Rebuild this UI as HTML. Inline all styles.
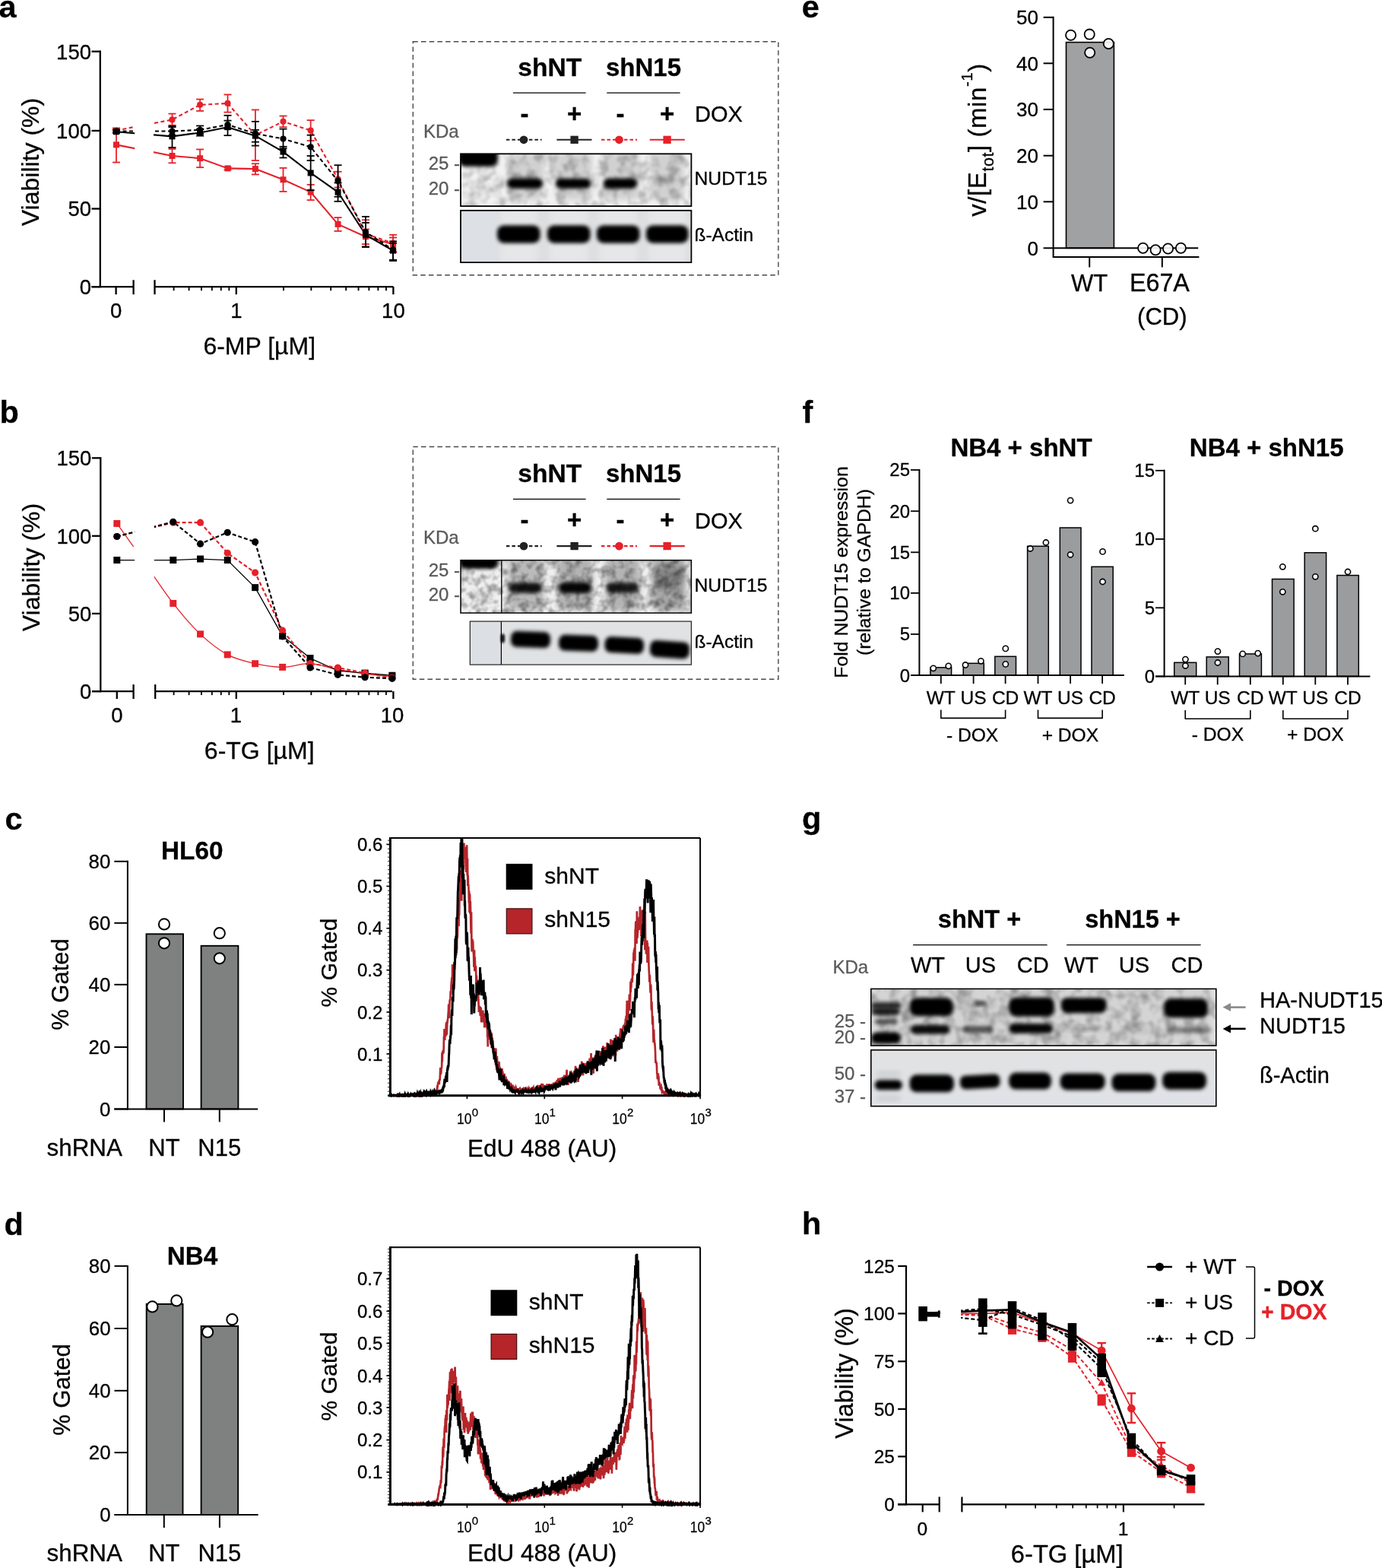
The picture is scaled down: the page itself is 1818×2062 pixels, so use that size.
<!DOCTYPE html><html><head><meta charset="utf-8"><title>Figure</title><style>html,body{margin:0;padding:0;background:#fff}svg{display:block}text{font-family:'Liberation Sans', sans-serif}</style></head><body>
<svg width="1818" height="2062" viewBox="0 0 1818 2062">
<rect x="0" y="0" width="1818" height="2062" fill="#fff" stroke="none" stroke-width="0"/>
<defs>
<filter id="bl2" x="-20%" y="-60%" width="140%" height="220%"><feGaussianBlur stdDeviation="2.6"/></filter>
<filter id="bl1" x="-20%" y="-50%" width="140%" height="200%"><feGaussianBlur stdDeviation="1.5"/></filter>
<filter id="bl3" x="-30%" y="-50%" width="160%" height="200%"><feGaussianBlur stdDeviation="3.5"/></filter>
<filter id="bl5" x="-30%" y="-50%" width="160%" height="200%"><feGaussianBlur stdDeviation="6"/></filter>
<filter id="nzA" x="0" y="0" width="100%" height="100%"><feTurbulence type="fractalNoise" baseFrequency="0.075" numOctaves="2" seed="4" result="t"/><feColorMatrix in="t" type="matrix" values="0 0 0 0 0  0 0 0 0 0  0 0 0 0 0  -1.5 0 0 0 0.9"/><feGaussianBlur stdDeviation="0.8"/><feComposite operator="in" in2="SourceGraphic"/></filter>
<filter id="nzB" x="0" y="0" width="100%" height="100%"><feTurbulence type="fractalNoise" baseFrequency="0.095" numOctaves="2" seed="9" result="t"/><feColorMatrix in="t" type="matrix" values="0 0 0 0 0  0 0 0 0 0  0 0 0 0 0  -1.8 0 0 0 1.1"/><feGaussianBlur stdDeviation="0.7"/><feComposite operator="in" in2="SourceGraphic"/></filter>
<filter id="nzC" x="0" y="0" width="100%" height="100%"><feTurbulence type="fractalNoise" baseFrequency="0.07" numOctaves="2" seed="17" result="t"/><feColorMatrix in="t" type="matrix" values="0 0 0 0 0  0 0 0 0 0  0 0 0 0 0  -1.4 0 0 0 0.85"/><feGaussianBlur stdDeviation="0.9"/><feComposite operator="in" in2="SourceGraphic"/></filter>
</defs>
<line x1="131.8" y1="66.6" x2="131.8" y2="378.3" stroke="#000" stroke-width="2.3"/>
<line x1="120.5" y1="67.7" x2="131.8" y2="67.7" stroke="#000" stroke-width="2.3"/>
<text x="120" y="77.5" font-size="27.5" text-anchor="end" font-weight="normal" fill="#000" stroke="#000" stroke-width="0.3">150</text>
<line x1="120.5" y1="171.9" x2="131.8" y2="171.9" stroke="#000" stroke-width="2.3"/>
<text x="120" y="181.7" font-size="27.5" text-anchor="end" font-weight="normal" fill="#000" stroke="#000" stroke-width="0.3">100</text>
<line x1="120.5" y1="274.5" x2="131.8" y2="274.5" stroke="#000" stroke-width="2.3"/>
<text x="120" y="284.3" font-size="27.5" text-anchor="end" font-weight="normal" fill="#000" stroke="#000" stroke-width="0.3">50</text>
<line x1="120.5" y1="377.2" x2="131.8" y2="377.2" stroke="#000" stroke-width="2.3"/>
<text x="120" y="387" font-size="27.5" text-anchor="end" font-weight="normal" fill="#000" stroke="#000" stroke-width="0.3">0</text>
<line x1="120.5" y1="377.2" x2="175.6" y2="377.2" stroke="#000" stroke-width="2.3"/>
<line x1="175.6" y1="368.2" x2="175.6" y2="387.2" stroke="#000" stroke-width="2.3"/>
<line x1="152.6" y1="377.2" x2="152.6" y2="387.2" stroke="#000" stroke-width="2.3"/>
<line x1="203.5" y1="377.2" x2="517.4" y2="377.2" stroke="#000" stroke-width="2.3"/>
<line x1="203.5" y1="368.2" x2="203.5" y2="387.2" stroke="#000" stroke-width="2.3"/>
<line x1="310.8" y1="377.2" x2="310.8" y2="387.2" stroke="#000" stroke-width="2.3"/>
<line x1="517.4" y1="377.2" x2="517.4" y2="387.2" stroke="#000" stroke-width="2.3"/>
<line x1="228.59" y1="377.2" x2="228.59" y2="382.2" stroke="#000" stroke-width="1.84"/>
<line x1="248.61" y1="377.2" x2="248.61" y2="382.2" stroke="#000" stroke-width="1.84"/>
<line x1="264.97" y1="377.2" x2="264.97" y2="382.2" stroke="#000" stroke-width="1.84"/>
<line x1="278.8" y1="377.2" x2="278.8" y2="382.2" stroke="#000" stroke-width="1.84"/>
<line x1="290.78" y1="377.2" x2="290.78" y2="382.2" stroke="#000" stroke-width="1.84"/>
<line x1="301.35" y1="377.2" x2="301.35" y2="382.2" stroke="#000" stroke-width="1.84"/>
<line x1="372.99" y1="377.2" x2="372.99" y2="382.2" stroke="#000" stroke-width="1.84"/>
<line x1="409.37" y1="377.2" x2="409.37" y2="382.2" stroke="#000" stroke-width="1.84"/>
<line x1="435.19" y1="377.2" x2="435.19" y2="382.2" stroke="#000" stroke-width="1.84"/>
<line x1="455.21" y1="377.2" x2="455.21" y2="382.2" stroke="#000" stroke-width="1.84"/>
<line x1="471.57" y1="377.2" x2="471.57" y2="382.2" stroke="#000" stroke-width="1.84"/>
<line x1="485.4" y1="377.2" x2="485.4" y2="382.2" stroke="#000" stroke-width="1.84"/>
<line x1="497.38" y1="377.2" x2="497.38" y2="382.2" stroke="#000" stroke-width="1.84"/>
<line x1="507.95" y1="377.2" x2="507.95" y2="382.2" stroke="#000" stroke-width="1.84"/>
<text x="152.6" y="417.5" font-size="27.5" text-anchor="middle" font-weight="normal" fill="#000" stroke="#000" stroke-width="0.3">0</text>
<text x="310.8" y="417.5" font-size="27.5" text-anchor="middle" font-weight="normal" fill="#000" stroke="#000" stroke-width="0.3">1</text>
<text x="517.4" y="417.5" font-size="27.5" text-anchor="middle" font-weight="normal" fill="#000" stroke="#000" stroke-width="0.3">10</text>
<text x="341.2" y="466.3" font-size="32" text-anchor="middle" font-weight="normal" fill="#000" stroke="#000" stroke-width="0.3">6-MP [µM]</text>
<text x="51.3" y="213" font-size="32" text-anchor="middle" font-weight="normal" fill="#000" stroke="#000" stroke-width="0.3" transform="rotate(-90 51.3 213)">Viability (%)</text>
<text x="-1.5" y="23.2" font-size="41.5" text-anchor="start" font-weight="bold" fill="#000" stroke="#000" stroke-width="0.3">a</text>
<polyline points="152.99,190.35 226.5,205.01 263.13,208.18 299.51,221.37 335.9,222.1 372.53,236.26 408.67,252.63 444.57,294.87 480.95,311.23 517.09,321" fill="none" stroke="#e5212a" stroke-width="2.1" stroke-linejoin="round"/>
<polyline points="152.99,171.55 226.5,157.39 263.13,137.85 299.51,135.9 335.9,177.66 372.53,159.83 408.67,171.55 444.57,235.53 480.95,307.57 517.09,319.78" fill="none" stroke="#e5212a" stroke-width="2.1" stroke-linejoin="round" stroke-dasharray="5,3.5"/>
<polyline points="152.99,172.53 226.5,172.53 263.13,170.82 299.51,163.98 335.9,175.7 372.53,182.54 408.67,193.28 444.57,237.97 480.95,305.13 517.09,328.33" fill="none" stroke="#000" stroke-width="2.1" stroke-linejoin="round" stroke-dasharray="5,3.5"/>
<polyline points="152.99,173.26 226.5,179.37 263.13,174.48 299.51,167.16 335.9,178.63 372.53,199.63 408.67,227.47 444.57,252.63 480.95,308.79 517.09,329.55" fill="none" stroke="#000" stroke-width="2.1" stroke-linejoin="round"/>
<rect x="177.2" y="100" width="24.8" height="270" fill="#fff" stroke="none" stroke-width="0"/>
<line x1="152.99" y1="168.38" x2="152.99" y2="213.55" stroke="#e5212a" stroke-width="1.8"/>
<line x1="147.99" y1="168.38" x2="157.99" y2="168.38" stroke="#e5212a" stroke-width="1.8"/>
<line x1="147.99" y1="213.55" x2="157.99" y2="213.55" stroke="#e5212a" stroke-width="1.8"/>
<line x1="226.5" y1="195.97" x2="226.5" y2="214.29" stroke="#e5212a" stroke-width="1.8"/>
<line x1="221.5" y1="195.97" x2="231.5" y2="195.97" stroke="#e5212a" stroke-width="1.8"/>
<line x1="221.5" y1="214.29" x2="231.5" y2="214.29" stroke="#e5212a" stroke-width="1.8"/>
<line x1="263.13" y1="196.46" x2="263.13" y2="220.15" stroke="#e5212a" stroke-width="1.8"/>
<line x1="258.13" y1="196.46" x2="268.13" y2="196.46" stroke="#e5212a" stroke-width="1.8"/>
<line x1="258.13" y1="220.15" x2="268.13" y2="220.15" stroke="#e5212a" stroke-width="1.8"/>
<line x1="299.51" y1="219.66" x2="299.51" y2="223.32" stroke="#e5212a" stroke-width="1.8"/>
<line x1="294.51" y1="219.66" x2="304.51" y2="219.66" stroke="#e5212a" stroke-width="1.8"/>
<line x1="294.51" y1="223.32" x2="304.51" y2="223.32" stroke="#e5212a" stroke-width="1.8"/>
<line x1="335.9" y1="215.26" x2="335.9" y2="229.43" stroke="#e5212a" stroke-width="1.8"/>
<line x1="330.9" y1="215.26" x2="340.9" y2="215.26" stroke="#e5212a" stroke-width="1.8"/>
<line x1="330.9" y1="229.43" x2="340.9" y2="229.43" stroke="#e5212a" stroke-width="1.8"/>
<line x1="372.53" y1="220.88" x2="372.53" y2="251.89" stroke="#e5212a" stroke-width="1.8"/>
<line x1="367.53" y1="220.88" x2="377.53" y2="220.88" stroke="#e5212a" stroke-width="1.8"/>
<line x1="367.53" y1="251.89" x2="377.53" y2="251.89" stroke="#e5212a" stroke-width="1.8"/>
<line x1="408.67" y1="242.86" x2="408.67" y2="263.13" stroke="#e5212a" stroke-width="1.8"/>
<line x1="403.67" y1="242.86" x2="413.67" y2="242.86" stroke="#e5212a" stroke-width="1.8"/>
<line x1="403.67" y1="263.13" x2="413.67" y2="263.13" stroke="#e5212a" stroke-width="1.8"/>
<line x1="444.57" y1="286.08" x2="444.57" y2="303.91" stroke="#e5212a" stroke-width="1.8"/>
<line x1="439.57" y1="286.08" x2="449.57" y2="286.08" stroke="#e5212a" stroke-width="1.8"/>
<line x1="439.57" y1="303.91" x2="449.57" y2="303.91" stroke="#e5212a" stroke-width="1.8"/>
<line x1="480.95" y1="301.47" x2="480.95" y2="321" stroke="#e5212a" stroke-width="1.8"/>
<line x1="475.95" y1="301.47" x2="485.95" y2="301.47" stroke="#e5212a" stroke-width="1.8"/>
<line x1="475.95" y1="321" x2="485.95" y2="321" stroke="#e5212a" stroke-width="1.8"/>
<line x1="517.09" y1="312.45" x2="517.09" y2="331.99" stroke="#e5212a" stroke-width="1.8"/>
<line x1="512.09" y1="312.45" x2="522.09" y2="312.45" stroke="#e5212a" stroke-width="1.8"/>
<line x1="512.09" y1="331.99" x2="522.09" y2="331.99" stroke="#e5212a" stroke-width="1.8"/>
<rect x="148.99" y="186.35" width="8" height="8" fill="#e5212a" stroke="none" stroke-width="0"/>
<rect x="222.5" y="201.01" width="8" height="8" fill="#e5212a" stroke="none" stroke-width="0"/>
<rect x="259.13" y="204.18" width="8" height="8" fill="#e5212a" stroke="none" stroke-width="0"/>
<rect x="295.51" y="217.37" width="8" height="8" fill="#e5212a" stroke="none" stroke-width="0"/>
<rect x="331.9" y="218.1" width="8" height="8" fill="#e5212a" stroke="none" stroke-width="0"/>
<rect x="368.53" y="232.26" width="8" height="8" fill="#e5212a" stroke="none" stroke-width="0"/>
<rect x="404.67" y="248.63" width="8" height="8" fill="#e5212a" stroke="none" stroke-width="0"/>
<rect x="440.57" y="290.87" width="8" height="8" fill="#e5212a" stroke="none" stroke-width="0"/>
<rect x="476.95" y="307.23" width="8" height="8" fill="#e5212a" stroke="none" stroke-width="0"/>
<rect x="513.09" y="317" width="8" height="8" fill="#e5212a" stroke="none" stroke-width="0"/>
<line x1="152.99" y1="169.11" x2="152.99" y2="173.99" stroke="#e5212a" stroke-width="1.8"/>
<line x1="147.99" y1="169.11" x2="157.99" y2="169.11" stroke="#e5212a" stroke-width="1.8"/>
<line x1="147.99" y1="173.99" x2="157.99" y2="173.99" stroke="#e5212a" stroke-width="1.8"/>
<line x1="226.5" y1="149.57" x2="226.5" y2="164.71" stroke="#e5212a" stroke-width="1.8"/>
<line x1="221.5" y1="149.57" x2="231.5" y2="149.57" stroke="#e5212a" stroke-width="1.8"/>
<line x1="221.5" y1="164.71" x2="231.5" y2="164.71" stroke="#e5212a" stroke-width="1.8"/>
<line x1="263.13" y1="130.53" x2="263.13" y2="145.91" stroke="#e5212a" stroke-width="1.8"/>
<line x1="258.13" y1="130.53" x2="268.13" y2="130.53" stroke="#e5212a" stroke-width="1.8"/>
<line x1="258.13" y1="145.91" x2="268.13" y2="145.91" stroke="#e5212a" stroke-width="1.8"/>
<line x1="299.51" y1="124.42" x2="299.51" y2="147.62" stroke="#e5212a" stroke-width="1.8"/>
<line x1="294.51" y1="124.42" x2="304.51" y2="124.42" stroke="#e5212a" stroke-width="1.8"/>
<line x1="294.51" y1="147.62" x2="304.51" y2="147.62" stroke="#e5212a" stroke-width="1.8"/>
<line x1="335.9" y1="144.44" x2="335.9" y2="211.11" stroke="#e5212a" stroke-width="1.8"/>
<line x1="330.9" y1="144.44" x2="340.9" y2="144.44" stroke="#e5212a" stroke-width="1.8"/>
<line x1="330.9" y1="211.11" x2="340.9" y2="211.11" stroke="#e5212a" stroke-width="1.8"/>
<line x1="372.53" y1="152.5" x2="372.53" y2="167.16" stroke="#e5212a" stroke-width="1.8"/>
<line x1="367.53" y1="152.5" x2="377.53" y2="152.5" stroke="#e5212a" stroke-width="1.8"/>
<line x1="367.53" y1="167.16" x2="377.53" y2="167.16" stroke="#e5212a" stroke-width="1.8"/>
<line x1="408.67" y1="158.12" x2="408.67" y2="184.98" stroke="#e5212a" stroke-width="1.8"/>
<line x1="403.67" y1="158.12" x2="413.67" y2="158.12" stroke="#e5212a" stroke-width="1.8"/>
<line x1="403.67" y1="184.98" x2="413.67" y2="184.98" stroke="#e5212a" stroke-width="1.8"/>
<line x1="444.57" y1="225.76" x2="444.57" y2="246.52" stroke="#e5212a" stroke-width="1.8"/>
<line x1="439.57" y1="225.76" x2="449.57" y2="225.76" stroke="#e5212a" stroke-width="1.8"/>
<line x1="439.57" y1="246.52" x2="449.57" y2="246.52" stroke="#e5212a" stroke-width="1.8"/>
<line x1="480.95" y1="289.26" x2="480.95" y2="324.66" stroke="#e5212a" stroke-width="1.8"/>
<line x1="475.95" y1="289.26" x2="485.95" y2="289.26" stroke="#e5212a" stroke-width="1.8"/>
<line x1="475.95" y1="324.66" x2="485.95" y2="324.66" stroke="#e5212a" stroke-width="1.8"/>
<line x1="517.09" y1="308.79" x2="517.09" y2="330.77" stroke="#e5212a" stroke-width="1.8"/>
<line x1="512.09" y1="308.79" x2="522.09" y2="308.79" stroke="#e5212a" stroke-width="1.8"/>
<line x1="512.09" y1="330.77" x2="522.09" y2="330.77" stroke="#e5212a" stroke-width="1.8"/>
<circle cx="152.99" cy="171.55" r="4.1" fill="#e5212a" stroke="none" stroke-width="0"/>
<circle cx="226.5" cy="157.39" r="4.1" fill="#e5212a" stroke="none" stroke-width="0"/>
<circle cx="263.13" cy="137.85" r="4.1" fill="#e5212a" stroke="none" stroke-width="0"/>
<circle cx="299.51" cy="135.9" r="4.1" fill="#e5212a" stroke="none" stroke-width="0"/>
<circle cx="335.9" cy="177.66" r="4.1" fill="#e5212a" stroke="none" stroke-width="0"/>
<circle cx="372.53" cy="159.83" r="4.1" fill="#e5212a" stroke="none" stroke-width="0"/>
<circle cx="408.67" cy="171.55" r="4.1" fill="#e5212a" stroke="none" stroke-width="0"/>
<circle cx="444.57" cy="235.53" r="4.1" fill="#e5212a" stroke="none" stroke-width="0"/>
<circle cx="480.95" cy="307.57" r="4.1" fill="#e5212a" stroke="none" stroke-width="0"/>
<circle cx="517.09" cy="319.78" r="4.1" fill="#e5212a" stroke="none" stroke-width="0"/>
<line x1="152.99" y1="170.82" x2="152.99" y2="174.24" stroke="#000" stroke-width="1.8"/>
<line x1="147.99" y1="170.82" x2="157.99" y2="170.82" stroke="#000" stroke-width="1.8"/>
<line x1="147.99" y1="174.24" x2="157.99" y2="174.24" stroke="#000" stroke-width="1.8"/>
<line x1="226.5" y1="167.16" x2="226.5" y2="178.14" stroke="#000" stroke-width="1.8"/>
<line x1="221.5" y1="167.16" x2="231.5" y2="167.16" stroke="#000" stroke-width="1.8"/>
<line x1="221.5" y1="178.14" x2="231.5" y2="178.14" stroke="#000" stroke-width="1.8"/>
<line x1="263.13" y1="165.45" x2="263.13" y2="176.19" stroke="#000" stroke-width="1.8"/>
<line x1="258.13" y1="165.45" x2="268.13" y2="165.45" stroke="#000" stroke-width="1.8"/>
<line x1="258.13" y1="176.19" x2="268.13" y2="176.19" stroke="#000" stroke-width="1.8"/>
<line x1="299.51" y1="158.61" x2="299.51" y2="169.6" stroke="#000" stroke-width="1.8"/>
<line x1="294.51" y1="158.61" x2="304.51" y2="158.61" stroke="#000" stroke-width="1.8"/>
<line x1="294.51" y1="169.6" x2="304.51" y2="169.6" stroke="#000" stroke-width="1.8"/>
<line x1="335.9" y1="159.83" x2="335.9" y2="191.58" stroke="#000" stroke-width="1.8"/>
<line x1="330.9" y1="159.83" x2="340.9" y2="159.83" stroke="#000" stroke-width="1.8"/>
<line x1="330.9" y1="191.58" x2="340.9" y2="191.58" stroke="#000" stroke-width="1.8"/>
<line x1="372.53" y1="169.6" x2="372.53" y2="195.24" stroke="#000" stroke-width="1.8"/>
<line x1="367.53" y1="169.6" x2="377.53" y2="169.6" stroke="#000" stroke-width="1.8"/>
<line x1="367.53" y1="195.24" x2="377.53" y2="195.24" stroke="#000" stroke-width="1.8"/>
<line x1="408.67" y1="177.66" x2="408.67" y2="211.11" stroke="#000" stroke-width="1.8"/>
<line x1="403.67" y1="177.66" x2="413.67" y2="177.66" stroke="#000" stroke-width="1.8"/>
<line x1="403.67" y1="211.11" x2="413.67" y2="211.11" stroke="#000" stroke-width="1.8"/>
<line x1="444.57" y1="217.22" x2="444.57" y2="258.73" stroke="#000" stroke-width="1.8"/>
<line x1="439.57" y1="217.22" x2="449.57" y2="217.22" stroke="#000" stroke-width="1.8"/>
<line x1="439.57" y1="258.73" x2="449.57" y2="258.73" stroke="#000" stroke-width="1.8"/>
<line x1="480.95" y1="284.86" x2="480.95" y2="324.66" stroke="#000" stroke-width="1.8"/>
<line x1="475.95" y1="284.86" x2="485.95" y2="284.86" stroke="#000" stroke-width="1.8"/>
<line x1="475.95" y1="324.66" x2="485.95" y2="324.66" stroke="#000" stroke-width="1.8"/>
<line x1="517.09" y1="317.34" x2="517.09" y2="341.76" stroke="#000" stroke-width="1.8"/>
<line x1="512.09" y1="317.34" x2="522.09" y2="317.34" stroke="#000" stroke-width="1.8"/>
<line x1="512.09" y1="341.76" x2="522.09" y2="341.76" stroke="#000" stroke-width="1.8"/>
<circle cx="152.99" cy="172.53" r="4.1" fill="#000" stroke="none" stroke-width="0"/>
<circle cx="226.5" cy="172.53" r="4.1" fill="#000" stroke="none" stroke-width="0"/>
<circle cx="263.13" cy="170.82" r="4.1" fill="#000" stroke="none" stroke-width="0"/>
<circle cx="299.51" cy="163.98" r="4.1" fill="#000" stroke="none" stroke-width="0"/>
<circle cx="335.9" cy="175.7" r="4.1" fill="#000" stroke="none" stroke-width="0"/>
<circle cx="372.53" cy="182.54" r="4.1" fill="#000" stroke="none" stroke-width="0"/>
<circle cx="408.67" cy="193.28" r="4.1" fill="#000" stroke="none" stroke-width="0"/>
<circle cx="444.57" cy="237.97" r="4.1" fill="#000" stroke="none" stroke-width="0"/>
<circle cx="480.95" cy="305.13" r="4.1" fill="#000" stroke="none" stroke-width="0"/>
<circle cx="517.09" cy="328.33" r="4.1" fill="#000" stroke="none" stroke-width="0"/>
<line x1="152.99" y1="171.55" x2="152.99" y2="174.97" stroke="#000" stroke-width="1.8"/>
<line x1="147.99" y1="171.55" x2="157.99" y2="171.55" stroke="#000" stroke-width="1.8"/>
<line x1="147.99" y1="174.97" x2="157.99" y2="174.97" stroke="#000" stroke-width="1.8"/>
<line x1="226.5" y1="165.93" x2="226.5" y2="194.02" stroke="#000" stroke-width="1.8"/>
<line x1="221.5" y1="165.93" x2="231.5" y2="165.93" stroke="#000" stroke-width="1.8"/>
<line x1="221.5" y1="194.02" x2="231.5" y2="194.02" stroke="#000" stroke-width="1.8"/>
<line x1="263.13" y1="169.6" x2="263.13" y2="178.63" stroke="#000" stroke-width="1.8"/>
<line x1="258.13" y1="169.6" x2="268.13" y2="169.6" stroke="#000" stroke-width="1.8"/>
<line x1="258.13" y1="178.63" x2="268.13" y2="178.63" stroke="#000" stroke-width="1.8"/>
<line x1="299.51" y1="151.77" x2="299.51" y2="178.14" stroke="#000" stroke-width="1.8"/>
<line x1="294.51" y1="151.77" x2="304.51" y2="151.77" stroke="#000" stroke-width="1.8"/>
<line x1="294.51" y1="178.14" x2="304.51" y2="178.14" stroke="#000" stroke-width="1.8"/>
<line x1="335.9" y1="170.82" x2="335.9" y2="186.69" stroke="#000" stroke-width="1.8"/>
<line x1="330.9" y1="170.82" x2="340.9" y2="170.82" stroke="#000" stroke-width="1.8"/>
<line x1="330.9" y1="186.69" x2="340.9" y2="186.69" stroke="#000" stroke-width="1.8"/>
<line x1="372.53" y1="192.8" x2="372.53" y2="207.45" stroke="#000" stroke-width="1.8"/>
<line x1="367.53" y1="192.8" x2="377.53" y2="192.8" stroke="#000" stroke-width="1.8"/>
<line x1="367.53" y1="207.45" x2="377.53" y2="207.45" stroke="#000" stroke-width="1.8"/>
<line x1="408.67" y1="205.01" x2="408.67" y2="250.18" stroke="#000" stroke-width="1.8"/>
<line x1="403.67" y1="205.01" x2="413.67" y2="205.01" stroke="#000" stroke-width="1.8"/>
<line x1="403.67" y1="250.18" x2="413.67" y2="250.18" stroke="#000" stroke-width="1.8"/>
<line x1="444.57" y1="240.42" x2="444.57" y2="264.84" stroke="#000" stroke-width="1.8"/>
<line x1="439.57" y1="240.42" x2="449.57" y2="240.42" stroke="#000" stroke-width="1.8"/>
<line x1="439.57" y1="264.84" x2="449.57" y2="264.84" stroke="#000" stroke-width="1.8"/>
<line x1="480.95" y1="292.92" x2="480.95" y2="324.66" stroke="#000" stroke-width="1.8"/>
<line x1="475.95" y1="292.92" x2="485.95" y2="292.92" stroke="#000" stroke-width="1.8"/>
<line x1="475.95" y1="324.66" x2="485.95" y2="324.66" stroke="#000" stroke-width="1.8"/>
<line x1="517.09" y1="319.78" x2="517.09" y2="342.98" stroke="#000" stroke-width="1.8"/>
<line x1="512.09" y1="319.78" x2="522.09" y2="319.78" stroke="#000" stroke-width="1.8"/>
<line x1="512.09" y1="342.98" x2="522.09" y2="342.98" stroke="#000" stroke-width="1.8"/>
<rect x="148.99" y="169.26" width="8" height="8" fill="#000" stroke="none" stroke-width="0"/>
<rect x="222.5" y="175.37" width="8" height="8" fill="#000" stroke="none" stroke-width="0"/>
<rect x="259.13" y="170.48" width="8" height="8" fill="#000" stroke="none" stroke-width="0"/>
<rect x="295.51" y="163.16" width="8" height="8" fill="#000" stroke="none" stroke-width="0"/>
<rect x="331.9" y="174.63" width="8" height="8" fill="#000" stroke="none" stroke-width="0"/>
<rect x="368.53" y="195.63" width="8" height="8" fill="#000" stroke="none" stroke-width="0"/>
<rect x="404.67" y="223.47" width="8" height="8" fill="#000" stroke="none" stroke-width="0"/>
<rect x="440.57" y="248.63" width="8" height="8" fill="#000" stroke="none" stroke-width="0"/>
<rect x="476.95" y="304.79" width="8" height="8" fill="#000" stroke="none" stroke-width="0"/>
<rect x="513.09" y="325.55" width="8" height="8" fill="#000" stroke="none" stroke-width="0"/>
<rect x="543.3" y="54.7" width="480.6" height="307.1" fill="none" stroke="#484848" stroke-width="1.4" stroke-dasharray="6.5,4.2"/>
<text x="723.3" y="100" font-size="33.6" text-anchor="middle" font-weight="bold" fill="#000" stroke="#000" stroke-width="0.3">shNT</text>
<text x="846.5" y="100" font-size="33" text-anchor="middle" font-weight="bold" fill="#000" stroke="#000" stroke-width="0.3">shN15</text>
<line x1="674.9" y1="122.1" x2="770.6" y2="122.1" stroke="#000" stroke-width="1.4"/>
<line x1="798.3" y1="122.1" x2="894.6" y2="122.1" stroke="#000" stroke-width="1.4"/>
<text x="690" y="161" font-size="33" text-anchor="middle" font-weight="bold" fill="#000" stroke="#000" stroke-width="0.3">-</text>
<text x="755.6" y="161" font-size="33" text-anchor="middle" font-weight="bold" fill="#000" stroke="#000" stroke-width="0.3">+</text>
<text x="815.9" y="161" font-size="33" text-anchor="middle" font-weight="bold" fill="#000" stroke="#000" stroke-width="0.3">-</text>
<text x="877.6" y="161" font-size="33" text-anchor="middle" font-weight="bold" fill="#000" stroke="#000" stroke-width="0.3">+</text>
<text x="914" y="160.3" font-size="29" text-anchor="start" font-weight="normal" fill="#000" stroke="#000" stroke-width="0.3">DOX</text>
<text x="557" y="180.7" font-size="24" text-anchor="start" font-weight="normal" fill="#5a5a5a" stroke="#5a5a5a" stroke-width="0.3">KDa</text>
<line x1="665.9" y1="183.8" x2="712.6" y2="183.8" stroke="#222" stroke-width="2.1" stroke-dasharray="4.5,3"/>
<circle cx="689" cy="183.8" r="5.4" fill="#222" stroke="none" stroke-width="0"/>
<line x1="732.4" y1="183.8" x2="778.5" y2="183.8" stroke="#222" stroke-width="2.1"/>
<rect x="750.45" y="178.65" width="10.3" height="10.3" fill="#222" stroke="none" stroke-width="0"/>
<line x1="791" y1="183.8" x2="838" y2="183.8" stroke="#e5212a" stroke-width="2.1" stroke-dasharray="4.5,3"/>
<circle cx="814.5" cy="183.8" r="5.4" fill="#e5212a" stroke="none" stroke-width="0"/>
<line x1="854.7" y1="183.8" x2="900.8" y2="183.8" stroke="#e5212a" stroke-width="2.1"/>
<rect x="872.45" y="178.65" width="10.3" height="10.3" fill="#e5212a" stroke="none" stroke-width="0"/>
<text x="605" y="222.5" font-size="24" text-anchor="end" font-weight="normal" fill="#5a5a5a" stroke="#5a5a5a" stroke-width="0.3">25 -</text>
<text x="605" y="255.6" font-size="24" text-anchor="end" font-weight="normal" fill="#5a5a5a" stroke="#5a5a5a" stroke-width="0.3">20 -</text>
<text x="913.5" y="243.2" font-size="24.7" text-anchor="start" font-weight="normal" fill="#000" stroke="#000" stroke-width="0.3">NUDT15</text>
<text x="913.5" y="316.8" font-size="24.5" text-anchor="start" font-weight="normal" fill="#000" stroke="#000" stroke-width="0.3">ß-Actin</text>
<clipPath id="cp1"><rect x="606" y="202.3" width="303.4" height="68.8"/></clipPath>
<g clip-path="url(#cp1)">
<rect x="606" y="202.3" width="303.4" height="68.8" fill="#f1f1f1" stroke="none" stroke-width="0"/>
<rect x="668" y="201" width="48" height="62" rx="8" fill="#000" opacity="0.13" filter="url(#bl3)"/>
<rect x="731" y="201" width="48" height="62" rx="8" fill="#000" opacity="0.13" filter="url(#bl3)"/>
<rect x="794" y="201" width="47" height="62" rx="8" fill="#000" opacity="0.13" filter="url(#bl3)"/>
<rect x="856" y="201" width="44" height="62" rx="8" fill="#000" opacity="0.13" filter="url(#bl3)"/>
<rect x="606" y="202.3" width="303.4" height="68.8" fill="#000" opacity="0.42" filter="url(#nzA)"/>
<rect x="603" y="195" width="52" height="24" rx="9" fill="#000" opacity="1" filter="url(#bl2)"/>
<rect x="667" y="234.55" width="47" height="13.5" rx="6.75" fill="#000" opacity="1" filter="url(#bl2)"/>
<rect x="731" y="234.8" width="46" height="13" rx="6.5" fill="#000" opacity="1" filter="url(#bl2)"/>
<rect x="794" y="234.55" width="44" height="13.5" rx="6.75" fill="#000" opacity="1" filter="url(#bl2)"/>
<rect x="858" y="232.5" width="28" height="9" rx="4.5" fill="#000" opacity="0.22" filter="url(#bl3)"/>
<rect x="620" y="243.5" width="30" height="9" rx="4.5" fill="#000" opacity="0.1" filter="url(#bl3)"/>
</g>
<rect x="606" y="202.3" width="303.4" height="68.8" fill="none" stroke="#000" stroke-width="1.8"/>
<clipPath id="cp2"><rect x="606" y="276.8" width="303.4" height="68.3"/></clipPath>
<g clip-path="url(#cp2)">
<rect x="606" y="276.8" width="303.4" height="68.3" fill="#dedfe1" stroke="none" stroke-width="0"/>
<rect x="606" y="276.8" width="48" height="68.3" fill="#dde1e5" stroke="none" stroke-width="0"/>
<rect x="658" y="270.5" width="49" height="75" rx="4" fill="#fff" opacity="0.25" filter="url(#bl3)"/>
<rect x="723" y="270.5" width="50" height="75" rx="4" fill="#fff" opacity="0.25" filter="url(#bl3)"/>
<rect x="788" y="270.5" width="50" height="75" rx="4" fill="#fff" opacity="0.25" filter="url(#bl3)"/>
<rect x="853" y="270.5" width="49" height="75" rx="4" fill="#fff" opacity="0.25" filter="url(#bl3)"/>
<rect x="654" y="296.15" width="56.5" height="23.5" rx="9" fill="#000" opacity="1" filter="url(#bl2)"/>
<rect x="720" y="296.15" width="56.5" height="23.5" rx="9" fill="#000" opacity="1" filter="url(#bl2)"/>
<rect x="785" y="296.15" width="56.5" height="23.5" rx="9" fill="#000" opacity="1" filter="url(#bl2)"/>
<rect x="850" y="296.15" width="55.5" height="23.5" rx="9" fill="#000" opacity="1" filter="url(#bl2)"/>
</g>
<rect x="606" y="276.8" width="303.4" height="68.3" fill="none" stroke="#000" stroke-width="1.8"/>
<line x1="132.3" y1="601.2" x2="132.3" y2="910.2" stroke="#000" stroke-width="2.3"/>
<line x1="121" y1="602.3" x2="132.3" y2="602.3" stroke="#000" stroke-width="2.3"/>
<text x="120.3" y="612.1" font-size="27.5" text-anchor="end" font-weight="normal" fill="#000" stroke="#000" stroke-width="0.3">150</text>
<line x1="121" y1="704.8" x2="132.3" y2="704.8" stroke="#000" stroke-width="2.3"/>
<text x="120.3" y="714.6" font-size="27.5" text-anchor="end" font-weight="normal" fill="#000" stroke="#000" stroke-width="0.3">100</text>
<line x1="121" y1="806.9" x2="132.3" y2="806.9" stroke="#000" stroke-width="2.3"/>
<text x="120.3" y="816.7" font-size="27.5" text-anchor="end" font-weight="normal" fill="#000" stroke="#000" stroke-width="0.3">50</text>
<line x1="121" y1="909.1" x2="132.3" y2="909.1" stroke="#000" stroke-width="2.3"/>
<text x="120.3" y="918.9" font-size="27.5" text-anchor="end" font-weight="normal" fill="#000" stroke="#000" stroke-width="0.3">0</text>
<line x1="121" y1="909.1" x2="175.6" y2="909.1" stroke="#000" stroke-width="2.3"/>
<line x1="175.6" y1="900.1" x2="175.6" y2="919.1" stroke="#000" stroke-width="2.3"/>
<line x1="153.8" y1="909.1" x2="153.8" y2="919.1" stroke="#000" stroke-width="2.3"/>
<line x1="204.2" y1="909.1" x2="515.9" y2="909.1" stroke="#000" stroke-width="2.3"/>
<line x1="204.2" y1="900.1" x2="204.2" y2="919.1" stroke="#000" stroke-width="2.3"/>
<line x1="310.8" y1="909.1" x2="310.8" y2="919.1" stroke="#000" stroke-width="2.3"/>
<line x1="517.4" y1="909.1" x2="517.4" y2="919.1" stroke="#000" stroke-width="2.3"/>
<line x1="228.59" y1="909.1" x2="228.59" y2="914.1" stroke="#000" stroke-width="1.84"/>
<line x1="248.61" y1="909.1" x2="248.61" y2="914.1" stroke="#000" stroke-width="1.84"/>
<line x1="264.97" y1="909.1" x2="264.97" y2="914.1" stroke="#000" stroke-width="1.84"/>
<line x1="278.8" y1="909.1" x2="278.8" y2="914.1" stroke="#000" stroke-width="1.84"/>
<line x1="290.78" y1="909.1" x2="290.78" y2="914.1" stroke="#000" stroke-width="1.84"/>
<line x1="301.35" y1="909.1" x2="301.35" y2="914.1" stroke="#000" stroke-width="1.84"/>
<line x1="372.99" y1="909.1" x2="372.99" y2="914.1" stroke="#000" stroke-width="1.84"/>
<line x1="409.37" y1="909.1" x2="409.37" y2="914.1" stroke="#000" stroke-width="1.84"/>
<line x1="435.19" y1="909.1" x2="435.19" y2="914.1" stroke="#000" stroke-width="1.84"/>
<line x1="455.21" y1="909.1" x2="455.21" y2="914.1" stroke="#000" stroke-width="1.84"/>
<line x1="471.57" y1="909.1" x2="471.57" y2="914.1" stroke="#000" stroke-width="1.84"/>
<line x1="485.4" y1="909.1" x2="485.4" y2="914.1" stroke="#000" stroke-width="1.84"/>
<line x1="497.38" y1="909.1" x2="497.38" y2="914.1" stroke="#000" stroke-width="1.84"/>
<line x1="507.95" y1="909.1" x2="507.95" y2="914.1" stroke="#000" stroke-width="1.84"/>
<text x="153.8" y="949.5" font-size="27.5" text-anchor="middle" font-weight="normal" fill="#000" stroke="#000" stroke-width="0.3">0</text>
<text x="310.5" y="949.5" font-size="27.5" text-anchor="middle" font-weight="normal" fill="#000" stroke="#000" stroke-width="0.3">1</text>
<text x="516" y="949.5" font-size="27.5" text-anchor="middle" font-weight="normal" fill="#000" stroke="#000" stroke-width="0.3">10</text>
<text x="341.2" y="998" font-size="32" text-anchor="middle" font-weight="normal" fill="#000" stroke="#000" stroke-width="0.3">6-TG [µM]</text>
<text x="51.5" y="746" font-size="32" text-anchor="middle" font-weight="normal" fill="#000" stroke="#000" stroke-width="0.3" transform="rotate(-90 51.5 746)">Viability (%)</text>
<text x="-0.5" y="555.8" font-size="41.5" text-anchor="start" font-weight="bold" fill="#000" stroke="#000" stroke-width="0.3">b</text>
<path d="M153.82,688.43 L175.57,718.88" fill="none" stroke="#e5212a" stroke-width="1.3"/>
<path d="M186.45,734.42 C193.34,744.26 214.94,776.89 227.78,793.46 C240.63,810.04 251.61,822.62 263.52,833.86 C275.43,845.1 287.24,854.42 299.25,860.89 C311.27,867.37 323.54,869.96 335.61,872.7 C347.68,875.45 359.59,877.36 371.66,877.36 C383.73,877.36 395.9,872.19 408.02,872.7 C420.14,873.22 432.36,878.25 444.38,880.47 C456.39,882.7 468.2,884.51 480.11,886.07 C492.02,887.62 509.89,889.17 515.85,889.79" fill="none" stroke="#e5212a" stroke-width="1.3"/>
<polyline points="153.82,736.59 227.78,736.59 263.52,735.04 299.25,736.59 335.61,772.64 371.66,836.35 408.02,865.56 444.38,882.03 480.11,885.13 515.85,888.24" fill="none" stroke="#000" stroke-width="1.3" stroke-linejoin="round"/>
<polyline points="153.82,705.52 227.78,687.18 263.52,687.18 299.25,727.27 335.61,753.06 371.66,829.2 408.02,872.7 444.38,877.99 480.11,885.13 515.85,891.35" fill="none" stroke="#e5212a" stroke-width="2.2" stroke-linejoin="round" stroke-dasharray="5,3"/>
<polyline points="153.82,705.52 227.78,686.25 263.52,715.15 299.25,700.24 335.61,712.67 371.66,836.97 408.02,877.99 444.38,887.31 480.11,890.73 515.85,892.28" fill="none" stroke="#000" stroke-width="2.2" stroke-linejoin="round" stroke-dasharray="5,3"/>
<rect x="177.2" y="610" width="25.6" height="290" fill="#fff" stroke="none" stroke-width="0"/>
<rect x="149.32" y="683.93" width="9" height="9" fill="#e5212a" stroke="none" stroke-width="0"/>
<rect x="223.28" y="788.96" width="9" height="9" fill="#e5212a" stroke="none" stroke-width="0"/>
<rect x="259.02" y="829.36" width="9" height="9" fill="#e5212a" stroke="none" stroke-width="0"/>
<rect x="294.75" y="856.39" width="9" height="9" fill="#e5212a" stroke="none" stroke-width="0"/>
<rect x="331.11" y="868.2" width="9" height="9" fill="#e5212a" stroke="none" stroke-width="0"/>
<rect x="367.16" y="872.86" width="9" height="9" fill="#e5212a" stroke="none" stroke-width="0"/>
<rect x="403.52" y="868.2" width="9" height="9" fill="#e5212a" stroke="none" stroke-width="0"/>
<rect x="439.88" y="875.97" width="9" height="9" fill="#e5212a" stroke="none" stroke-width="0"/>
<rect x="475.61" y="881.57" width="9" height="9" fill="#e5212a" stroke="none" stroke-width="0"/>
<rect x="511.35" y="885.29" width="9" height="9" fill="#e5212a" stroke="none" stroke-width="0"/>
<rect x="149.32" y="732.09" width="9" height="9" fill="#000" stroke="none" stroke-width="0"/>
<rect x="223.28" y="732.09" width="9" height="9" fill="#000" stroke="none" stroke-width="0"/>
<rect x="259.02" y="730.54" width="9" height="9" fill="#000" stroke="none" stroke-width="0"/>
<rect x="294.75" y="732.09" width="9" height="9" fill="#000" stroke="none" stroke-width="0"/>
<rect x="331.11" y="768.14" width="9" height="9" fill="#000" stroke="none" stroke-width="0"/>
<rect x="367.16" y="831.85" width="9" height="9" fill="#000" stroke="none" stroke-width="0"/>
<rect x="403.52" y="861.06" width="9" height="9" fill="#000" stroke="none" stroke-width="0"/>
<rect x="439.88" y="877.53" width="9" height="9" fill="#000" stroke="none" stroke-width="0"/>
<rect x="475.61" y="880.63" width="9" height="9" fill="#000" stroke="none" stroke-width="0"/>
<rect x="511.35" y="883.74" width="9" height="9" fill="#000" stroke="none" stroke-width="0"/>
<circle cx="153.82" cy="705.52" r="4.6" fill="#e5212a" stroke="none" stroke-width="0"/>
<circle cx="227.78" cy="687.18" r="4.6" fill="#e5212a" stroke="none" stroke-width="0"/>
<circle cx="263.52" cy="687.18" r="4.6" fill="#e5212a" stroke="none" stroke-width="0"/>
<circle cx="299.25" cy="727.27" r="4.6" fill="#e5212a" stroke="none" stroke-width="0"/>
<circle cx="335.61" cy="753.06" r="4.6" fill="#e5212a" stroke="none" stroke-width="0"/>
<circle cx="371.66" cy="829.2" r="4.6" fill="#e5212a" stroke="none" stroke-width="0"/>
<circle cx="408.02" cy="872.7" r="4.6" fill="#e5212a" stroke="none" stroke-width="0"/>
<circle cx="444.38" cy="877.99" r="4.6" fill="#e5212a" stroke="none" stroke-width="0"/>
<circle cx="480.11" cy="885.13" r="4.6" fill="#e5212a" stroke="none" stroke-width="0"/>
<circle cx="515.85" cy="891.35" r="4.6" fill="#e5212a" stroke="none" stroke-width="0"/>
<circle cx="153.82" cy="705.52" r="4.6" fill="#000" stroke="none" stroke-width="0"/>
<circle cx="227.78" cy="686.25" r="4.6" fill="#000" stroke="none" stroke-width="0"/>
<circle cx="263.52" cy="715.15" r="4.6" fill="#000" stroke="none" stroke-width="0"/>
<circle cx="299.25" cy="700.24" r="4.6" fill="#000" stroke="none" stroke-width="0"/>
<circle cx="335.61" cy="712.67" r="4.6" fill="#000" stroke="none" stroke-width="0"/>
<circle cx="371.66" cy="836.97" r="4.6" fill="#000" stroke="none" stroke-width="0"/>
<circle cx="408.02" cy="877.99" r="4.6" fill="#000" stroke="none" stroke-width="0"/>
<circle cx="444.38" cy="887.31" r="4.6" fill="#000" stroke="none" stroke-width="0"/>
<circle cx="480.11" cy="890.73" r="4.6" fill="#000" stroke="none" stroke-width="0"/>
<circle cx="515.85" cy="892.28" r="4.6" fill="#000" stroke="none" stroke-width="0"/>
<rect x="543.3" y="587.5" width="480.6" height="305.7" fill="none" stroke="#484848" stroke-width="1.4" stroke-dasharray="6.5,4.2"/>
<text x="723.3" y="634.3" font-size="33.6" text-anchor="middle" font-weight="bold" fill="#000" stroke="#000" stroke-width="0.3">shNT</text>
<text x="846.5" y="634.3" font-size="33" text-anchor="middle" font-weight="bold" fill="#000" stroke="#000" stroke-width="0.3">shN15</text>
<line x1="674.9" y1="656.4" x2="770.6" y2="656.4" stroke="#000" stroke-width="1.4"/>
<line x1="798.3" y1="656.4" x2="894.6" y2="656.4" stroke="#000" stroke-width="1.4"/>
<text x="690" y="695.3" font-size="33" text-anchor="middle" font-weight="bold" fill="#000" stroke="#000" stroke-width="0.3">-</text>
<text x="755.6" y="695.3" font-size="33" text-anchor="middle" font-weight="bold" fill="#000" stroke="#000" stroke-width="0.3">+</text>
<text x="815.9" y="695.3" font-size="33" text-anchor="middle" font-weight="bold" fill="#000" stroke="#000" stroke-width="0.3">-</text>
<text x="877.6" y="695.3" font-size="33" text-anchor="middle" font-weight="bold" fill="#000" stroke="#000" stroke-width="0.3">+</text>
<text x="914" y="694.6" font-size="29" text-anchor="start" font-weight="normal" fill="#000" stroke="#000" stroke-width="0.3">DOX</text>
<text x="557" y="715" font-size="24" text-anchor="start" font-weight="normal" fill="#5a5a5a" stroke="#5a5a5a" stroke-width="0.3">KDa</text>
<line x1="665.9" y1="718.1" x2="712.6" y2="718.1" stroke="#222" stroke-width="2.1" stroke-dasharray="4.5,3"/>
<circle cx="689" cy="718.1" r="5.4" fill="#222" stroke="none" stroke-width="0"/>
<line x1="732.4" y1="718.1" x2="778.5" y2="718.1" stroke="#222" stroke-width="2.1"/>
<rect x="750.45" y="712.95" width="10.3" height="10.3" fill="#222" stroke="none" stroke-width="0"/>
<line x1="791" y1="718.1" x2="838" y2="718.1" stroke="#e5212a" stroke-width="2.1" stroke-dasharray="4.5,3"/>
<circle cx="814.5" cy="718.1" r="5.4" fill="#e5212a" stroke="none" stroke-width="0"/>
<line x1="854.7" y1="718.1" x2="900.8" y2="718.1" stroke="#e5212a" stroke-width="2.1"/>
<rect x="872.45" y="712.95" width="10.3" height="10.3" fill="#e5212a" stroke="none" stroke-width="0"/>
<text x="605" y="757.5" font-size="24" text-anchor="end" font-weight="normal" fill="#5a5a5a" stroke="#5a5a5a" stroke-width="0.3">25 -</text>
<text x="605" y="790" font-size="24" text-anchor="end" font-weight="normal" fill="#5a5a5a" stroke="#5a5a5a" stroke-width="0.3">20 -</text>
<text x="913.5" y="778" font-size="24.7" text-anchor="start" font-weight="normal" fill="#000" stroke="#000" stroke-width="0.3">NUDT15</text>
<text x="913.5" y="852.2" font-size="24.5" text-anchor="start" font-weight="normal" fill="#000" stroke="#000" stroke-width="0.3">ß-Actin</text>
<clipPath id="cp3"><rect x="606" y="736.7" width="303.4" height="69.4"/></clipPath>
<g clip-path="url(#cp3)">
<rect x="606" y="736.7" width="303.4" height="69.4" fill="#efefef" stroke="none" stroke-width="0"/>
<rect x="668" y="733" width="48" height="70" rx="8" fill="#000" opacity="0.22" filter="url(#bl3)"/>
<rect x="733" y="733" width="47" height="70" rx="8" fill="#000" opacity="0.25" filter="url(#bl3)"/>
<rect x="796" y="733" width="46" height="70" rx="8" fill="#000" opacity="0.25" filter="url(#bl3)"/>
<rect x="858" y="733" width="44" height="70" rx="8" fill="#000" opacity="0.3" filter="url(#bl3)"/>
<rect x="858" y="746" width="44" height="22" rx="11" fill="#000" opacity="0.2" filter="url(#bl3)"/>
<rect x="606" y="736.7" width="303.4" height="69.4" fill="#000" opacity="0.5" filter="url(#nzB)"/>
<rect x="604" y="728" width="51" height="20" rx="8" fill="#000" opacity="1" filter="url(#bl2)"/>
<rect x="618" y="777.6" width="30" height="8" rx="4" fill="#000" opacity="0.13" filter="url(#bl3)"/>
<rect x="669" y="766.35" width="44" height="13.5" rx="6.75" fill="#000" opacity="0.88" filter="url(#bl2)"/>
<rect x="735" y="765.85" width="43" height="14.5" rx="7.25" fill="#000" opacity="0.97" filter="url(#bl2)"/>
<rect x="798" y="766.35" width="42" height="13.5" rx="6.75" fill="#000" opacity="0.85" filter="url(#bl2)"/>
<rect x="860" y="765.5" width="33" height="9" rx="4.5" fill="#000" opacity="0.3" filter="url(#bl3)"/>
<line x1="659.8" y1="736.7" x2="659.8" y2="806.1" stroke="#000" stroke-width="1.3"/>
</g>
<rect x="606" y="736.7" width="303.4" height="69.4" fill="none" stroke="#000" stroke-width="1.5"/>
<clipPath id="cp4"><rect x="618.3" y="817.1" width="291.1" height="57"/></clipPath>
<g clip-path="url(#cp4)">
<rect x="618.3" y="817.1" width="291.1" height="57" fill="#e0e2e4" stroke="none" stroke-width="0"/>
<rect x="618.3" y="817.1" width="41" height="57" fill="#dcdfe3" stroke="none" stroke-width="0"/>
<rect x="658.5" y="833.5" width="5.5" height="12" rx="4" fill="#000" opacity="0.95" filter="url(#bl1)"/>
<rect x="672" y="830.5" width="52" height="21" rx="8" fill="#000" opacity="1" filter="url(#bl2)" transform="rotate(2 698 841)"/>
<rect x="735" y="835.3" width="52" height="21" rx="8" fill="#000" opacity="1" filter="url(#bl2)" transform="rotate(2 761 845.8)"/>
<rect x="795.5" y="838.1" width="51.5" height="21" rx="8" fill="#000" opacity="1" filter="url(#bl2)" transform="rotate(3 821.25 848.6)"/>
<rect x="855" y="843.2" width="52" height="22" rx="8" fill="#000" opacity="1" filter="url(#bl2)" transform="rotate(4 881 854.2)"/>
<line x1="659.4" y1="817.1" x2="659.4" y2="874.1" stroke="#000" stroke-width="1.2"/>
</g>
<rect x="618.3" y="817.1" width="291.1" height="57" fill="none" stroke="#222" stroke-width="1.2"/>
<text x="6.5" y="1090.6" font-size="41.5" text-anchor="start" font-weight="bold" fill="#000" stroke="#000" stroke-width="0.3">c</text>
<text x="252.8" y="1130.4" font-size="33.3" text-anchor="middle" font-weight="bold" fill="#000" stroke="#000" stroke-width="0.3">HL60</text>
<rect x="192.5" y="1228.3" width="48.5" height="230.1" fill="#7f8181" stroke="#000" stroke-width="1.9"/>
<rect x="264.6" y="1243.8" width="48.8" height="214.6" fill="#7f8181" stroke="#000" stroke-width="1.9"/>
<line x1="167.9" y1="1131.8" x2="167.9" y2="1459.4" stroke="#000" stroke-width="2"/>
<line x1="150.3" y1="1458.4" x2="339.2" y2="1458.4" stroke="#000" stroke-width="2"/>
<line x1="150.3" y1="1132.8" x2="167.9" y2="1132.8" stroke="#000" stroke-width="2"/>
<text x="145.3" y="1142" font-size="25.8" text-anchor="end" font-weight="normal" fill="#000" stroke="#000" stroke-width="0.3">80</text>
<line x1="150.3" y1="1213.8" x2="167.9" y2="1213.8" stroke="#000" stroke-width="2"/>
<text x="145.3" y="1223" font-size="25.8" text-anchor="end" font-weight="normal" fill="#000" stroke="#000" stroke-width="0.3">60</text>
<line x1="150.3" y1="1294.8" x2="167.9" y2="1294.8" stroke="#000" stroke-width="2"/>
<text x="145.3" y="1304" font-size="25.8" text-anchor="end" font-weight="normal" fill="#000" stroke="#000" stroke-width="0.3">40</text>
<line x1="150.3" y1="1377" x2="167.9" y2="1377" stroke="#000" stroke-width="2"/>
<text x="145.3" y="1386.2" font-size="25.8" text-anchor="end" font-weight="normal" fill="#000" stroke="#000" stroke-width="0.3">20</text>
<line x1="150.3" y1="1458.4" x2="167.9" y2="1458.4" stroke="#000" stroke-width="2"/>
<text x="145.3" y="1467.6" font-size="25.8" text-anchor="end" font-weight="normal" fill="#000" stroke="#000" stroke-width="0.3">0</text>
<line x1="216" y1="1458.4" x2="216" y2="1475.4" stroke="#000" stroke-width="2"/>
<line x1="288.8" y1="1458.4" x2="288.8" y2="1475.4" stroke="#000" stroke-width="2"/>
<circle cx="216" cy="1215.4" r="7.1" fill="#fff" stroke="#000" stroke-width="2"/>
<circle cx="216" cy="1240.3" r="7.1" fill="#fff" stroke="#000" stroke-width="2"/>
<circle cx="288.8" cy="1227.2" r="7.1" fill="#fff" stroke="#000" stroke-width="2"/>
<circle cx="288.8" cy="1260.3" r="7.1" fill="#fff" stroke="#000" stroke-width="2"/>
<text x="61.5" y="1520.1" font-size="31.4" text-anchor="start" font-weight="normal" fill="#000" stroke="#000" stroke-width="0.3">shRNA</text>
<text x="216" y="1520.1" font-size="31" text-anchor="middle" font-weight="normal" fill="#000" stroke="#000" stroke-width="0.3">NT</text>
<text x="288.8" y="1520.1" font-size="31" text-anchor="middle" font-weight="normal" fill="#000" stroke="#000" stroke-width="0.3">N15</text>
<text x="90.4" y="1294.5" font-size="31" text-anchor="middle" font-weight="normal" fill="#000" stroke="#000" stroke-width="0.3" transform="rotate(-90 90.4 1294.5)">% Gated</text>
<clipPath id="hc1"><rect x="513.4" y="1103" width="407.7" height="340"/></clipPath><g clip-path="url(#hc1)">
<polyline points="513.42,1440.54 513.74,1440.73 514.05,1440.73 514.36,1440.59 514.67,1440.4 514.98,1440.67 515.29,1440.73 515.6,1440.73 515.91,1440.36 516.22,1440.33 516.53,1440.73 516.84,1440.73 517.15,1440.73 517.46,1440.73 517.78,1440.6 518.09,1440.54 518.4,1440.73 518.71,1440.52 519.02,1440.37 519.33,1440.26 519.64,1440.62 519.95,1440.63 520.26,1440.47 520.57,1440.55 520.88,1440.65 521.19,1440.73 521.5,1440.73 521.81,1440.61 522.13,1439.97 522.44,1440.73 522.75,1440.07 523.06,1440.47 523.37,1440.03 523.68,1440.51 523.99,1440.25 524.3,1440.57 524.61,1440.73 524.92,1440.47 525.23,1440.73 525.54,1440.02 525.85,1440.37 526.17,1440.7 526.48,1440.43 526.79,1440.59 527.1,1440.49 527.41,1440.09 527.72,1440.64 528.03,1440.14 528.34,1440.73 528.65,1440.24 528.96,1440.67 529.27,1440.41 529.58,1440.73 529.89,1440.18 530.21,1440.73 530.52,1440.34 530.83,1440.73 531.14,1440.62 531.45,1440.43 531.76,1440.06 532.07,1440.66 532.38,1440.54 532.69,1440.73 533,1440.19 533.31,1440.55 533.62,1440.53 533.93,1440.43 534.24,1440.4 534.56,1440.38 534.87,1440.05 535.18,1439.88 535.49,1440.12 535.8,1440.52 536.11,1440.73 536.42,1440.67 536.73,1440.7 537.04,1440.57 537.35,1440.53 537.66,1440.31 537.97,1440.55 538.28,1440.73 538.6,1440.06 538.91,1439.89 539.22,1440.73 539.53,1440.28 539.84,1440.6 540.15,1440.55 540.46,1439.64 540.77,1440.73 541.08,1440.73 541.39,1440.2 541.7,1440.45 542.01,1440.16 542.32,1439.67 542.64,1440.02 542.95,1440.24 543.26,1440.58 543.57,1440.38 543.88,1440.06 544.19,1440.67 544.5,1439.64 544.81,1440.38 545.12,1440.53 545.43,1439.82 545.74,1439.06 546.05,1439.49 546.36,1440.05 546.67,1440.18 546.99,1440.69 547.3,1439.37 547.61,1439.87 547.92,1440.2 548.23,1439.76 548.54,1438.57 548.85,1440.24 549.16,1440.73 549.47,1440.32 549.78,1439.26 550.09,1439.52 550.4,1439.85 550.71,1440.73 551.03,1440.05 551.34,1439.75 551.65,1440.55 551.96,1439.61 552.27,1440.7 552.58,1439.23 552.89,1439.34 553.2,1440.01 553.51,1440.41 553.82,1439.95 554.13,1439.73 554.44,1438.45 554.75,1439.09 555.07,1439.13 555.38,1439.16 555.69,1439.82 556,1439.23 556.31,1439.91 556.62,1439.45 556.93,1439.17 557.24,1439.43 557.55,1439.61 557.86,1439.86 558.17,1438.98 558.48,1439.11 558.79,1438.35 559.11,1440.26 559.42,1440.14 559.73,1439.03 560.04,1438.8 560.35,1438.26 560.66,1439.18 560.97,1439.17 561.28,1440.51 561.59,1439.13 561.9,1438.37 562.21,1437.13 562.52,1439.86 562.83,1438.94 563.14,1437.57 563.46,1438.85 563.77,1437.46 564.08,1440.73 564.39,1439.44 564.7,1438.97 565.01,1438.34 565.32,1436.72 565.63,1438.27 565.94,1437.04 566.25,1438.74 566.56,1436.4 566.87,1437.36 567.18,1439.11 567.5,1439.43 567.81,1436.89 568.12,1436.51 568.43,1438.63 568.74,1438.59 569.05,1436.94 569.36,1437.21 569.67,1437.21 569.98,1436.76 570.29,1437.2 570.6,1438.91 570.91,1438.36 571.22,1439.55 571.54,1437.45 571.85,1437.25 572.16,1436.19 572.47,1436.79 572.78,1435.18 573.09,1434.2 573.4,1436.64 573.71,1437.13 574.02,1435.83 574.33,1435.97 574.64,1433.62 574.95,1431.12 575.26,1431.59 575.57,1429.64 575.89,1426.85 576.2,1424.07 576.51,1423.01 576.82,1425.51 577.13,1424.58 577.44,1421.06 577.75,1426.06 578.06,1420.08 578.37,1419.91 578.68,1420.69 578.99,1410.77 579.3,1403.93 579.61,1413.38 579.93,1404.87 580.24,1411.67 580.55,1404.78 580.86,1405.56 581.17,1401.84 581.48,1384.37 581.79,1396.36 582.1,1385.97 582.41,1382.59 582.72,1381.56 583.03,1385.89 583.34,1383.97 583.65,1382.2 583.97,1362.82 584.28,1367.04 584.59,1352.92 584.9,1365.53 585.21,1368.07 585.52,1356.67 585.83,1361.52 586.14,1359.42 586.45,1362.95 586.76,1347.95 587.07,1345.87 587.38,1344.34 587.69,1360.94 588,1354.14 588.32,1343.04 588.63,1343.65 588.94,1340.7 589.25,1339.24 589.56,1333.77 589.87,1330.42 590.18,1320.49 590.49,1322.81 590.8,1338.96 591.11,1327.11 591.42,1320.42 591.73,1315.27 592.04,1314.87 592.36,1314.68 592.67,1303.26 592.98,1308.11 593.29,1306.04 593.6,1294.75 593.91,1292.01 594.22,1287.77 594.53,1284.89 594.84,1300.83 595.15,1268.21 595.46,1285.65 595.77,1280.15 596.08,1277.78 596.4,1282.37 596.71,1290.03 597.02,1277.36 597.33,1272.67 597.64,1265.29 597.95,1267.29 598.26,1274.86 598.57,1258.51 598.88,1247.47 599.19,1242.75 599.5,1240.75 599.81,1234.02 600.12,1256.74 600.44,1245.02 600.75,1234.72 601.06,1249.41 601.37,1222.08 601.68,1233.8 601.99,1230.38 602.3,1199.66 602.61,1195.33 602.92,1198.28 603.23,1215.32 603.54,1215.55 603.85,1181.02 604.16,1203.72 604.47,1181.83 604.79,1177.1 605.1,1170.61 605.41,1169 605.72,1145.95 606.03,1152.04 606.34,1144.94 606.65,1163.02 606.96,1179.87 607.27,1184.68 607.58,1141.21 607.89,1119.67 608.2,1133.9 608.51,1124.08 608.83,1160.86 609.14,1140.59 609.45,1122.22 609.76,1143.84 610.07,1137.98 610.38,1108.45 610.69,1122.4 611,1125.5 611.31,1128.12 611.62,1128.85 611.93,1121.83 612.24,1128.51 612.55,1117.86 612.87,1113.87 613.18,1147.07 613.49,1132.64 613.8,1135.54 614.11,1111.25 614.42,1134.14 614.73,1151.58 615.04,1128.73 615.35,1164.9 615.66,1150.67 615.97,1165.58 616.28,1163.06 616.59,1171.56 616.9,1187.81 617.22,1171.74 617.53,1199.92 617.84,1175.18 618.15,1177.59 618.46,1201.71 618.77,1185.05 619.08,1198.31 619.39,1218.63 619.7,1227.66 620.01,1199.36 620.32,1230.83 620.63,1251.4 620.94,1248.55 621.26,1237.18 621.57,1236.97 621.88,1243.52 622.19,1237.46 622.5,1249.56 622.81,1252.9 623.12,1255.72 623.43,1271.69 623.74,1259.46 624.05,1249.32 624.36,1277.15 624.67,1258.38 624.98,1267.38 625.3,1273.22 625.61,1273.89 625.92,1270.25 626.23,1280.32 626.54,1306.28 626.85,1282.5 627.16,1289.75 627.47,1304.28 627.78,1303.55 628.09,1306.55 628.4,1310.4 628.71,1288.55 629.02,1302.07 629.33,1314.43 629.65,1321.13 629.96,1331.06 630.27,1326.93 630.58,1323.33 630.89,1327.21 631.2,1326.51 631.51,1331.41 631.82,1335.88 632.13,1328.62 632.44,1325.64 632.75,1326.03 633.06,1342.18 633.37,1344.17 633.69,1342.37 634,1341.75 634.31,1342.01 634.62,1335.89 634.93,1341.59 635.24,1328.66 635.55,1335.87 635.86,1332.37 636.17,1344.37 636.48,1334.86 636.79,1339.09 637.1,1343.55 637.41,1351.4 637.73,1335.47 638.04,1334.88 638.35,1348.79 638.66,1334.71 638.97,1347.09 639.28,1339.95 639.59,1344.08 639.9,1331.89 640.21,1351.59 640.52,1343.32 640.83,1341.23 641.14,1364.12 641.45,1355.03 641.77,1376.46 642.08,1354.98 642.39,1350.7 642.7,1355.21 643.01,1367.11 643.32,1356.83 643.63,1361.49 643.94,1363.26 644.25,1354.78 644.56,1363.26 644.87,1360.32 645.18,1356.69 645.49,1372.13 645.8,1371.99 646.12,1369.31 646.43,1364.14 646.74,1358.34 647.05,1375.55 647.36,1373.06 647.67,1364.36 647.98,1375.76 648.29,1368.01 648.6,1378.43 648.91,1380.67 649.22,1383.15 649.53,1383.52 649.84,1384.44 650.16,1378.02 650.47,1383.6 650.78,1384.05 651.09,1386.77 651.4,1390.71 651.71,1393.71 652.02,1400.28 652.33,1378.6 652.64,1395.59 652.95,1393.4 653.26,1407.3 653.57,1401.19 653.88,1388.84 654.2,1400.24 654.51,1396.49 654.82,1404.9 655.13,1395.65 655.44,1401.18 655.75,1401.87 656.06,1402.84 656.37,1401.34 656.68,1396.3 656.99,1407.75 657.3,1410.92 657.61,1406.77 657.92,1403.23 658.23,1409.37 658.55,1411.62 658.86,1409.03 659.17,1410.37 659.48,1417.04 659.79,1406.93 660.1,1409.91 660.41,1404.95 660.72,1410.53 661.03,1410.97 661.34,1410.68 661.65,1412.33 661.96,1422.68 662.27,1415.41 662.59,1416.26 662.9,1425.59 663.21,1417.52 663.52,1411.81 663.83,1420.25 664.14,1415.85 664.45,1425.66 664.76,1415.79 665.07,1418.66 665.38,1415.58 665.69,1421.96 666,1418.62 666.31,1422.3 666.63,1421.72 666.94,1421.42 667.25,1426.72 667.56,1427.03 667.87,1424.76 668.18,1422.34 668.49,1422.29 668.8,1426.46 669.11,1432.59 669.42,1425.19 669.73,1424.7 670.04,1425.29 670.35,1424.65 670.67,1425.31 670.98,1427.51 671.29,1431.68 671.6,1428.56 671.91,1427.66 672.22,1425.46 672.53,1429.8 672.84,1429.51 673.15,1427.18 673.46,1427.73 673.77,1430.13 674.08,1432.47 674.39,1431.86 674.7,1431.19 675.02,1430.33 675.33,1431.74 675.64,1431.26 675.95,1435.51 676.26,1429.49 676.57,1431.05 676.88,1434.15 677.19,1431.51 677.5,1434.62 677.81,1432.14 678.12,1432.57 678.43,1431.79 678.74,1430.16 679.06,1430.97 679.37,1436.42 679.68,1433.86 679.99,1433.87 680.3,1434.5 680.61,1433.94 680.92,1434.73 681.23,1432.7 681.54,1432.83 681.85,1434.81 682.16,1432.73 682.47,1431.23 682.78,1433.02 683.1,1432.55 683.41,1434.4 683.72,1432.34 684.03,1431.83 684.34,1432.99 684.65,1435.94 684.96,1433.47 685.27,1433.8 685.58,1433.57 685.89,1434.02 686.2,1435 686.51,1435.73 686.82,1431.01 687.13,1435.67 687.45,1433.54 687.76,1433.04 688.07,1437.26 688.38,1433.25 688.69,1436.53 689,1434.99 689.31,1431.85 689.62,1434.2 689.93,1434.57 690.24,1433.2 690.55,1429.69 690.86,1432.8 691.17,1433.01 691.49,1431.53 691.8,1436.18 692.11,1432.85 692.42,1432.58 692.73,1432.7 693.04,1431.89 693.35,1431.87 693.66,1433.25 693.97,1433.57 694.28,1432.21 694.59,1432.86 694.9,1430.71 695.21,1433.81 695.53,1431.7 695.84,1433.26 696.15,1431.38 696.46,1431.99 696.77,1433.17 697.08,1430.76 697.39,1436.88 697.7,1432.65 698.01,1432.55 698.32,1431.39 698.63,1435.3 698.94,1434.91 699.25,1433.03 699.56,1430.12 699.88,1431.56 700.19,1433.45 700.5,1431.45 700.81,1430.23 701.12,1430.16 701.43,1430.84 701.74,1432.17 702.05,1430.94 702.36,1432.08 702.67,1436.99 702.98,1435.12 703.29,1430.01 703.6,1432.45 703.92,1431.93 704.23,1431.47 704.54,1433.58 704.85,1431 705.16,1430.95 705.47,1430.8 705.78,1431.25 706.09,1433.8 706.4,1432.79 706.71,1428.71 707.02,1430.36 707.33,1429.61 707.64,1432.66 707.96,1431.46 708.27,1432.69 708.58,1430.78 708.89,1427.09 709.2,1431.67 709.51,1431.17 709.82,1431.67 710.13,1427.98 710.44,1430.7 710.75,1429.08 711.06,1429.02 711.37,1431.07 711.68,1431.02 712,1428.39 712.31,1426.63 712.62,1424.97 712.93,1428.86 713.24,1432.36 713.55,1429.83 713.86,1425.13 714.17,1428 714.48,1430.68 714.79,1433.3 715.1,1432.18 715.41,1430.4 715.72,1429.98 716.03,1427.2 716.35,1428.46 716.66,1428.66 716.97,1427.63 717.28,1429.42 717.59,1428.35 717.9,1429.91 718.21,1432.31 718.52,1430.71 718.83,1429.93 719.14,1428.38 719.45,1425.41 719.76,1428.55 720.07,1429.99 720.39,1426.36 720.7,1431.52 721.01,1427.78 721.32,1429.36 721.63,1427.66 721.94,1425.4 722.25,1433.19 722.56,1425.46 722.87,1430.35 723.18,1426.75 723.49,1428.68 723.8,1425.99 724.11,1426.85 724.43,1430.04 724.74,1432.5 725.05,1425.53 725.36,1427.57 725.67,1429.83 725.98,1425.8 726.29,1429.09 726.6,1425.21 726.91,1428.66 727.22,1428.15 727.53,1430.07 727.84,1427.78 728.15,1423.62 728.46,1428.39 728.78,1423.62 729.09,1428.44 729.4,1430.39 729.71,1427.83 730.02,1424.6 730.33,1429.26 730.64,1426.34 730.95,1422.3 731.26,1424.65 731.57,1429.52 731.88,1424.53 732.19,1425.61 732.5,1424.14 732.82,1420.09 733.13,1423.36 733.44,1425.77 733.75,1425.2 734.06,1423.91 734.37,1417.83 734.68,1427.87 734.99,1426.2 735.3,1427.02 735.61,1427.76 735.92,1422.13 736.23,1421.45 736.54,1424.23 736.86,1428.47 737.17,1417.4 737.48,1421.98 737.79,1420.2 738.1,1424.28 738.41,1427.19 738.72,1421.07 739.03,1417.67 739.34,1421.91 739.65,1420.59 739.96,1416.05 740.27,1424.31 740.58,1419.23 740.89,1423.28 741.21,1416.08 741.52,1424.42 741.83,1415.25 742.14,1423.95 742.45,1413.53 742.76,1424.8 743.07,1418.32 743.38,1413.86 743.69,1418.46 744,1420.38 744.31,1415.34 744.62,1416.98 744.93,1419.62 745.25,1417.82 745.56,1406.87 745.87,1416.5 746.18,1419.53 746.49,1418.88 746.8,1421.4 747.11,1414.81 747.42,1426.96 747.73,1420.13 748.04,1418.11 748.35,1420.91 748.66,1420.25 748.97,1416.8 749.29,1413.83 749.6,1420.05 749.91,1417.55 750.22,1408.31 750.53,1411.21 750.84,1417.23 751.15,1415.64 751.46,1416.15 751.77,1417.43 752.08,1415.28 752.39,1420.87 752.7,1411.98 753.01,1412.57 753.33,1415.31 753.64,1416.86 753.95,1416.86 754.26,1419.56 754.57,1411.36 754.88,1417.93 755.19,1414.88 755.5,1408.47 755.81,1412.03 756.12,1421.1 756.43,1415.52 756.74,1410.1 757.05,1401.82 757.36,1408.61 757.68,1408.56 757.99,1411.67 758.3,1420.97 758.61,1414.15 758.92,1412.13 759.23,1406.59 759.54,1405.32 759.85,1409.33 760.16,1408.02 760.47,1422.89 760.78,1407.9 761.09,1406.78 761.4,1414.21 761.72,1409.42 762.03,1403.45 762.34,1414.39 762.65,1407.11 762.96,1402.4 763.27,1409.53 763.58,1410.08 763.89,1406.19 764.2,1410.63 764.51,1410.99 764.82,1403.1 765.13,1397.56 765.44,1395.8 765.76,1405.88 766.07,1411.88 766.38,1410.64 766.69,1412.24 767,1414.19 767.31,1405.48 767.62,1410.09 767.93,1397.86 768.24,1407.97 768.55,1406.38 768.86,1403.88 769.17,1402.02 769.48,1398.61 769.79,1404.32 770.11,1409.5 770.42,1401.46 770.73,1405.52 771.04,1399.58 771.35,1403.76 771.66,1397.45 771.97,1403.91 772.28,1400.8 772.59,1403.16 772.9,1398.44 773.21,1395.41 773.52,1399.32 773.83,1405.8 774.15,1408.26 774.46,1398.64 774.77,1403.97 775.08,1403.55 775.39,1401.5 775.7,1391.56 776.01,1400.7 776.32,1393.97 776.63,1404.54 776.94,1402.36 777.25,1401.27 777.56,1385.03 777.87,1400.84 778.19,1401.01 778.5,1390.66 778.81,1401.95 779.12,1397.12 779.43,1395.56 779.74,1392.58 780.05,1390.75 780.36,1393.54 780.67,1411.65 780.98,1396.39 781.29,1396.18 781.6,1391.46 781.91,1391.37 782.22,1391.48 782.54,1389.47 782.85,1398.57 783.16,1392.25 783.47,1398.07 783.78,1387.05 784.09,1397.96 784.4,1392.61 784.71,1396.11 785.02,1391.73 785.33,1387.25 785.64,1398.38 785.95,1389.22 786.26,1390.55 786.58,1386.28 786.89,1392 787.2,1388.51 787.51,1391.96 787.82,1392.07 788.13,1386.13 788.44,1381.9 788.75,1391.86 789.06,1394.32 789.37,1392.86 789.68,1382.35 789.99,1391.89 790.3,1390.42 790.62,1389.62 790.93,1390.2 791.24,1385.72 791.55,1388.51 791.86,1392.31 792.17,1383.95 792.48,1378.37 792.79,1385.73 793.1,1387.2 793.41,1375.26 793.72,1381.7 794.03,1388.73 794.34,1384.22 794.66,1385.37 794.97,1377.29 795.28,1389.6 795.59,1394.29 795.9,1382.66 796.21,1379.3 796.52,1376.54 796.83,1388.29 797.14,1383.42 797.45,1377.86 797.76,1389.46 798.07,1386.55 798.38,1385.34 798.69,1371.04 799.01,1380.62 799.32,1384.72 799.63,1373.41 799.94,1386.06 800.25,1388.84 800.56,1386.22 800.87,1375.4 801.18,1375.23 801.49,1384.97 801.8,1385.06 802.11,1386.26 802.42,1385.86 802.73,1377.7 803.05,1375.57 803.36,1366.47 803.67,1382.4 803.98,1391.33 804.29,1374.24 804.6,1373.91 804.91,1380.6 805.22,1378.65 805.53,1367.57 805.84,1371.37 806.15,1368.7 806.46,1387.89 806.77,1370.5 807.09,1380.06 807.4,1386.46 807.71,1386.05 808.02,1382.81 808.33,1383.81 808.64,1365.36 808.95,1370.67 809.26,1367.89 809.57,1370.34 809.88,1388.62 810.19,1360.71 810.5,1374.7 810.81,1362.76 811.12,1379.01 811.44,1378.38 811.75,1366.21 812.06,1382.62 812.37,1369.17 812.68,1376.8 812.99,1369.84 813.3,1363.63 813.61,1364.34 813.92,1365.6 814.23,1370.01 814.54,1366.24 814.85,1380.72 815.16,1363.06 815.48,1360.68 815.79,1358.41 816.1,1357.45 816.41,1352.34 816.72,1354.84 817.03,1367.23 817.34,1360.81 817.65,1358.59 817.96,1361.58 818.27,1365.95 818.58,1362.15 818.89,1362.6 819.2,1352.52 819.52,1353.92 819.83,1349.53 820.14,1353.63 820.45,1347.71 820.76,1350.13 821.07,1350.77 821.38,1349.67 821.69,1348.48 822,1345.98 822.31,1358.4 822.62,1345.34 822.93,1339.45 823.24,1347.49 823.56,1336.88 823.87,1335.93 824.18,1343.6 824.49,1329.08 824.8,1315.87 825.11,1341.58 825.42,1346.06 825.73,1323.49 826.04,1328 826.35,1338.08 826.66,1315.89 826.97,1322.97 827.28,1318.34 827.59,1324.53 827.91,1307.6 828.22,1328.96 828.53,1317.52 828.84,1318.38 829.15,1309.81 829.46,1290.75 829.77,1304.63 830.08,1290.43 830.39,1299.07 830.7,1287.57 831.01,1288.95 831.32,1286.29 831.63,1291.83 831.95,1287.88 832.26,1266.51 832.57,1272.04 832.88,1282.72 833.19,1268.98 833.5,1252.46 833.81,1254.85 834.12,1248.83 834.43,1259.04 834.74,1246.27 835.05,1246.88 835.36,1263.85 835.67,1222.08 835.99,1223.28 836.3,1212.72 836.61,1211.69 836.92,1236.59 837.23,1228.08 837.54,1241.08 837.85,1198.37 838.16,1208.86 838.47,1233.66 838.78,1227.43 839.09,1224.4 839.4,1222.98 839.71,1212.12 840.02,1210.52 840.34,1209.97 840.65,1218.4 840.96,1205.76 841.27,1210.47 841.58,1222.9 841.89,1192.15 842.2,1196.19 842.51,1211.53 842.82,1202.09 843.13,1203.91 843.44,1230.87 843.75,1211.84 844.06,1202.77 844.38,1221.06 844.69,1238.21 845,1196.83 845.31,1202.69 845.62,1212.61 845.93,1204.8 846.24,1238.06 846.55,1220.12 846.86,1210.61 847.17,1221.97 847.48,1208.58 847.79,1212.17 848.1,1221.75 848.42,1249.17 848.73,1198.87 849.04,1230.96 849.35,1243.59 849.66,1239.24 849.97,1254.82 850.28,1241.41 850.59,1241 850.9,1241.03 851.21,1236.43 851.52,1266.07 851.83,1239.67 852.14,1254.32 852.45,1253.89 852.77,1255.12 853.08,1244.67 853.39,1267.27 853.7,1276.5 854.01,1280.66 854.32,1291.49 854.63,1285.93 854.94,1285.51 855.25,1298.36 855.56,1305.65 855.87,1295.61 856.18,1294.44 856.49,1303.1 856.81,1325.23 857.12,1328.75 857.43,1317.17 857.74,1329.55 858.05,1339.52 858.36,1347.44 858.67,1336.24 858.98,1343.69 859.29,1359.98 859.6,1371.02 859.91,1368.42 860.22,1353.73 860.53,1368.38 860.85,1367.29 861.16,1372.7 861.47,1372.79 861.78,1377.75 862.09,1384.24 862.4,1398.01 862.71,1395.11 863.02,1396.83 863.33,1397.84 863.64,1396.93 863.95,1402.31 864.26,1411.72 864.57,1412.22 864.89,1419.3 865.2,1414.25 865.51,1415.23 865.82,1411.17 866.13,1420.66 866.44,1414.96 866.75,1427.7 867.06,1422.3 867.37,1425.62 867.68,1423.38 867.99,1426.81 868.3,1426.92 868.61,1432.3 868.92,1431.2 869.24,1429.21 869.55,1428.65 869.86,1432.55 870.17,1432.43 870.48,1432.04 870.79,1435.07 871.1,1434.4 871.41,1435.2 871.72,1434.68 872.03,1435.07 872.34,1435.53 872.65,1434.53 872.96,1437.28 873.28,1437.24 873.59,1435.26 873.9,1437.31 874.21,1438.49 874.52,1437.74 874.83,1438.85 875.14,1437.54 875.45,1437.9 875.76,1436.88 876.07,1437.34 876.38,1436.69 876.69,1437.57 877,1438.59 877.32,1438.89 877.63,1439.46 877.94,1438.74 878.25,1437.98 878.56,1439.1 878.87,1438.75 879.18,1440.19 879.49,1440.35 879.8,1439.69 880.11,1438.31 880.42,1438.78 880.73,1439.31 881.04,1438.76 881.35,1439.61 881.67,1439.75 881.98,1439.88 882.29,1439.52 882.6,1438.87 882.91,1438.93 883.22,1439.4 883.53,1440.3 883.84,1440.46 884.15,1440.13 884.46,1439.79 884.77,1439.99 885.08,1440.09 885.39,1440.38 885.71,1440.15 886.02,1438.82 886.33,1440.23 886.64,1439.93 886.95,1439.49 887.26,1440.04 887.57,1439.93 887.88,1439.77 888.19,1438.91 888.5,1439.89 888.81,1440.14 889.12,1439.84 889.43,1439.07 889.75,1440.14 890.06,1440.28 890.37,1440.03 890.68,1440.16 890.99,1439.79 891.3,1439.66 891.61,1440.25 891.92,1439.84 892.23,1440.11 892.54,1440.73 892.85,1440.39 893.16,1440.13 893.47,1439.32 893.78,1440.14 894.1,1440.46 894.41,1439.8 894.72,1440.02 895.03,1439.12 895.34,1440.4 895.65,1439.9 895.96,1440.48 896.27,1440.73 896.58,1440.13 896.89,1440.63 897.2,1440.33 897.51,1440.14 897.82,1440.12 898.14,1439.89 898.45,1440.73 898.76,1440.63 899.07,1439.86 899.38,1440.63 899.69,1439.99 900,1439.68 900.31,1440.73 900.62,1439.8 900.93,1440.73 901.24,1440.41 901.55,1440.69 901.86,1440.54 902.18,1440.73 902.49,1440.49 902.8,1440.59 903.11,1440.47 903.42,1440.73 903.73,1440.24 904.04,1440.73 904.35,1440.73 904.66,1440.38 904.97,1440.57 905.28,1440.22 905.59,1440.31 905.9,1440.52 906.22,1440.31 906.53,1440.12 906.84,1440.43 907.15,1440.52 907.46,1440.57 907.77,1440.71 908.08,1439.84 908.39,1440.73 908.7,1440.42 909.01,1440.21 909.32,1440.36 909.63,1440.64 909.94,1440.73 910.25,1440.38 910.57,1440.56 910.88,1439.98 911.19,1440.57 911.5,1440.49 911.81,1440.39 912.12,1440.73 912.43,1440.73 912.74,1440.73 913.05,1440.3 913.36,1440.73 913.67,1440.46 913.98,1440.55 914.29,1440.4 914.61,1440.72 914.92,1440.73 915.23,1440.63 915.54,1440.54 915.85,1440.56 916.16,1440.49 916.47,1440.73 916.78,1440.48 917.09,1440.59 917.4,1440.58 917.71,1440.44 918.02,1440.59 918.33,1440.28 918.65,1440.73 918.96,1440.73 919.27,1440.61 919.58,1440.73 919.89,1440.51 920.2,1440.73 920.51,1440.73 920.82,1440.62 921.13,1440.69" fill="none" stroke="#b5252a" stroke-width="2.7" stroke-linejoin="miter"/>
<polyline points="513.42,1440.54 513.74,1440.49 514.05,1440.73 514.36,1440.18 514.67,1440.65 514.98,1440.13 515.29,1440.73 515.6,1440.71 515.91,1440.73 516.22,1440.5 516.53,1440.73 516.84,1440.53 517.15,1440.39 517.46,1440.64 517.78,1440.21 518.09,1440.47 518.4,1440.73 518.71,1440.58 519.02,1440.42 519.33,1440.73 519.64,1440.55 519.95,1440.33 520.26,1440.57 520.57,1440.33 520.88,1440.37 521.19,1440.37 521.5,1440.73 521.81,1440.48 522.13,1440.53 522.44,1440.69 522.75,1440.73 523.06,1440.36 523.37,1440.2 523.68,1440.73 523.99,1439.87 524.3,1440.27 524.61,1440.65 524.92,1440.73 525.23,1440.01 525.54,1439.43 525.85,1440.62 526.17,1440.15 526.48,1440.19 526.79,1440.51 527.1,1440.41 527.41,1440.43 527.72,1440.13 528.03,1440.73 528.34,1440.73 528.65,1440.29 528.96,1440.08 529.27,1440.56 529.58,1440.45 529.89,1439.79 530.21,1440.03 530.52,1440.67 530.83,1440.16 531.14,1440.05 531.45,1440.27 531.76,1440.15 532.07,1440.16 532.38,1439.27 532.69,1440.73 533,1440.21 533.31,1439.71 533.62,1440.55 533.93,1440.23 534.24,1440.08 534.56,1440.56 534.87,1440.73 535.18,1440.3 535.49,1440.73 535.8,1440.73 536.11,1439.49 536.42,1439.72 536.73,1440.35 537.04,1439.09 537.35,1439.79 537.66,1440.57 537.97,1440.43 538.28,1440.18 538.6,1438.88 538.91,1440.73 539.22,1440.12 539.53,1440.22 539.84,1440.06 540.15,1438.85 540.46,1438.98 540.77,1439.07 541.08,1440.73 541.39,1439.24 541.7,1439.54 542.01,1439.51 542.32,1439.96 542.64,1439.9 542.95,1439.75 543.26,1438.83 543.57,1437.7 543.88,1439.62 544.19,1439.66 544.5,1440.22 544.81,1439.39 545.12,1439.06 545.43,1439.66 545.74,1438.41 546.05,1438.7 546.36,1438.69 546.67,1439.49 546.99,1440.62 547.3,1439.75 547.61,1439.97 547.92,1439.36 548.23,1439.36 548.54,1438.85 548.85,1438.93 549.16,1437.44 549.47,1438.24 549.78,1438.15 550.09,1439.59 550.4,1439.44 550.71,1439.76 551.03,1440.03 551.34,1438.68 551.65,1439.63 551.96,1440.26 552.27,1438.8 552.58,1439.58 552.89,1438.63 553.2,1437.52 553.51,1438.78 553.82,1438.04 554.13,1438.72 554.44,1438.25 554.75,1438.82 555.07,1436.88 555.38,1440.14 555.69,1439.55 556,1438.18 556.31,1437.7 556.62,1438.4 556.93,1438.91 557.24,1438.68 557.55,1438.64 557.86,1436.66 558.17,1437.31 558.48,1439.34 558.79,1438.39 559.11,1436.88 559.42,1437.4 559.73,1436.87 560.04,1437.2 560.35,1439.06 560.66,1437.82 560.97,1438.97 561.28,1438.12 561.59,1436.59 561.9,1437.32 562.21,1439.94 562.52,1437.16 562.83,1436.87 563.14,1438.93 563.46,1437.86 563.77,1437.75 564.08,1439.09 564.39,1436.07 564.7,1438.08 565.01,1436.68 565.32,1436.32 565.63,1436.85 565.94,1438.7 566.25,1437.45 566.56,1435.8 566.87,1436.47 567.18,1438.99 567.5,1438.48 567.81,1436.4 568.12,1439.81 568.43,1437.05 568.74,1436.21 569.05,1437.22 569.36,1438.26 569.67,1438.91 569.98,1438.3 570.29,1436.8 570.6,1436.63 570.91,1435.67 571.22,1437.05 571.54,1436.47 571.85,1437.3 572.16,1435.67 572.47,1436.41 572.78,1435.97 573.09,1435.56 573.4,1435.52 573.71,1435.63 574.02,1435.39 574.33,1437.27 574.64,1436.71 574.95,1435.1 575.26,1437.14 575.57,1436.88 575.89,1438.19 576.2,1436.33 576.51,1436.31 576.82,1435.76 577.13,1436.65 577.44,1437.04 577.75,1436.64 578.06,1436.08 578.37,1436.94 578.68,1436.29 578.99,1436.34 579.3,1434.74 579.61,1435.95 579.93,1434.17 580.24,1434.06 580.55,1435.1 580.86,1437.55 581.17,1435.61 581.48,1433.67 581.79,1432.85 582.1,1434.3 582.41,1434.5 582.72,1433.65 583.03,1430.17 583.34,1430.19 583.65,1428.18 583.97,1427.36 584.28,1424.9 584.59,1425.46 584.9,1418.78 585.21,1420.29 585.52,1424.35 585.83,1418.52 586.14,1422.51 586.45,1414.51 586.76,1416.67 587.07,1418.35 587.38,1411.27 587.69,1411.04 588,1422.93 588.32,1407.67 588.63,1405.51 588.94,1403.84 589.25,1404.22 589.56,1401.17 589.87,1403.3 590.18,1398.96 590.49,1388.56 590.8,1384.56 591.11,1373.64 591.42,1368.19 591.73,1368.02 592.04,1372.91 592.36,1363.98 592.67,1364.09 592.98,1360.57 593.29,1347.86 593.6,1360.78 593.91,1335.98 594.22,1330.58 594.53,1327.57 594.84,1336.06 595.15,1320.72 595.46,1310.7 595.77,1316.14 596.08,1317.52 596.4,1301.07 596.71,1294.34 597.02,1301.39 597.33,1294.66 597.64,1288.32 597.95,1264.9 598.26,1269.19 598.57,1263.68 598.88,1234.31 599.19,1260.26 599.5,1241.92 599.81,1230.52 600.12,1253.57 600.44,1222.95 600.75,1206.31 601.06,1207.58 601.37,1208.82 601.68,1205.8 601.99,1189.06 602.3,1172.84 602.61,1168.74 602.92,1161.13 603.23,1152.16 603.54,1159.86 603.85,1148.31 604.16,1150.44 604.47,1133.65 604.79,1127.7 605.1,1131.54 605.41,1124.2 605.72,1140.35 606.03,1108.11 606.34,1120.88 606.65,1116.11 606.96,1098.76 607.27,1129.72 607.58,1126.2 607.89,1100.59 608.2,1143.81 608.51,1154.75 608.83,1137.82 609.14,1176.2 609.45,1160.88 609.76,1148.9 610.07,1176 610.38,1169.16 610.69,1161.83 611,1156.85 611.31,1191.54 611.62,1184.38 611.93,1206.01 612.24,1207.68 612.55,1201.73 612.87,1206.54 613.18,1238.19 613.49,1242.11 613.8,1235.84 614.11,1228.02 614.42,1225.75 614.73,1236.96 615.04,1263.74 615.35,1254.89 615.66,1251.15 615.97,1245.67 616.28,1264.63 616.59,1258.14 616.9,1271.46 617.22,1282.8 617.53,1289.8 617.84,1284.15 618.15,1282.77 618.46,1291.23 618.77,1308.8 619.08,1297.49 619.39,1283.01 619.7,1312.67 620.01,1302.51 620.32,1334.01 620.63,1299.5 620.94,1304.54 621.26,1304.2 621.57,1311.63 621.88,1304.29 622.19,1297.41 622.5,1294.46 622.81,1311.21 623.12,1308.43 623.43,1308.36 623.74,1332.45 624.05,1320.98 624.36,1323.5 624.67,1309.19 624.98,1315.65 625.3,1310.39 625.61,1309.51 625.92,1316.89 626.23,1314.46 626.54,1310.54 626.85,1307.83 627.16,1292.08 627.47,1297.11 627.78,1306.03 628.09,1297.96 628.4,1293.01 628.71,1302.47 629.02,1289.76 629.33,1291.26 629.65,1304.92 629.96,1292.48 630.27,1308.44 630.58,1299.18 630.89,1301.21 631.2,1303.67 631.51,1272.07 631.82,1291.46 632.13,1279.85 632.44,1287.76 632.75,1291.41 633.06,1304.49 633.37,1292.76 633.69,1309.15 634,1289.37 634.31,1294.49 634.62,1296.7 634.93,1305.55 635.24,1297.28 635.55,1293.16 635.86,1297.06 636.17,1288.57 636.48,1314.32 636.79,1311.16 637.1,1309.95 637.41,1310.46 637.73,1304.67 638.04,1308.65 638.35,1321.56 638.66,1310.05 638.97,1312.59 639.28,1335.11 639.59,1337.28 639.9,1329.07 640.21,1333.42 640.52,1332.9 640.83,1345.09 641.14,1332.24 641.45,1338.56 641.77,1343.85 642.08,1353.35 642.39,1342.51 642.7,1348.33 643.01,1345.08 643.32,1346.05 643.63,1348.24 643.94,1355.69 644.25,1363.46 644.56,1354.31 644.87,1356.98 645.18,1360.31 645.49,1367.34 645.8,1371.43 646.12,1360.23 646.43,1372.5 646.74,1365.41 647.05,1378.02 647.36,1369.02 647.67,1369.93 647.98,1373.85 648.29,1379.4 648.6,1375.32 648.91,1384.03 649.22,1385.11 649.53,1386.16 649.84,1388.63 650.16,1393.39 650.47,1385.77 650.78,1391.16 651.09,1392.29 651.4,1382.75 651.71,1397.01 652.02,1392.15 652.33,1393.64 652.64,1396.21 652.95,1400.07 653.26,1402.29 653.57,1404.06 653.88,1399.36 654.2,1406.98 654.51,1406.56 654.82,1403.69 655.13,1406.28 655.44,1410.85 655.75,1409.97 656.06,1411.9 656.37,1410.05 656.68,1415.24 656.99,1420.52 657.3,1413.65 657.61,1405.74 657.92,1420.17 658.23,1411.38 658.55,1408.75 658.86,1405.48 659.17,1417.19 659.48,1420.36 659.79,1420.53 660.1,1415.77 660.41,1423.22 660.72,1418.02 661.03,1416.66 661.34,1419.6 661.65,1420.63 661.96,1420.53 662.27,1422.25 662.59,1413.72 662.9,1427.18 663.21,1420.33 663.52,1424.85 663.83,1420.57 664.14,1424.09 664.45,1423.46 664.76,1419.67 665.07,1425.96 665.38,1427.05 665.69,1422.5 666,1420.28 666.31,1424.67 666.63,1424.58 666.94,1427.43 667.25,1427.46 667.56,1431.79 667.87,1429.76 668.18,1427.97 668.49,1429.27 668.8,1422.85 669.11,1427.61 669.42,1427.95 669.73,1429.99 670.04,1431.18 670.35,1431.26 670.67,1432.93 670.98,1430.11 671.29,1432.22 671.6,1431.66 671.91,1432.14 672.22,1432.88 672.53,1432.03 672.84,1433.04 673.15,1432.8 673.46,1434.68 673.77,1432.97 674.08,1433.77 674.39,1437.49 674.7,1434.49 675.02,1434.42 675.33,1435.37 675.64,1432.31 675.95,1434.98 676.26,1435.12 676.57,1434.73 676.88,1435.59 677.19,1435.38 677.5,1436.03 677.81,1433.49 678.12,1435.08 678.43,1433.77 678.74,1436.32 679.06,1434.85 679.37,1432.93 679.68,1434.92 679.99,1433.47 680.3,1436.2 680.61,1434.47 680.92,1432.05 681.23,1434.5 681.54,1436.4 681.85,1435.52 682.16,1434.29 682.47,1436 682.78,1435.94 683.1,1437.12 683.41,1436.41 683.72,1435.74 684.03,1434.28 684.34,1435.68 684.65,1435.72 684.96,1435.37 685.27,1435.9 685.58,1433.87 685.89,1436.11 686.2,1435.41 686.51,1435.86 686.82,1435.3 687.13,1435.05 687.45,1435.75 687.76,1436.43 688.07,1435.04 688.38,1435.85 688.69,1434.48 689,1435.97 689.31,1435.47 689.62,1433.83 689.93,1436.91 690.24,1434.32 690.55,1435.53 690.86,1433.77 691.17,1433.23 691.49,1436.24 691.8,1433.63 692.11,1432.77 692.42,1435.11 692.73,1433.41 693.04,1435.1 693.35,1437.67 693.66,1434.83 693.97,1435.77 694.28,1436.02 694.59,1435.6 694.9,1435.11 695.21,1437.18 695.53,1435.12 695.84,1435.66 696.15,1435.33 696.46,1433.49 696.77,1435.55 697.08,1435.18 697.39,1435.93 697.7,1435.96 698.01,1437.09 698.32,1432.49 698.63,1434.23 698.94,1434.31 699.25,1433.75 699.56,1435.42 699.88,1434.73 700.19,1434.99 700.5,1432.55 700.81,1433.42 701.12,1434.6 701.43,1434.04 701.74,1433.77 702.05,1434.41 702.36,1434.14 702.67,1433 702.98,1436.77 703.29,1433.44 703.6,1435.27 703.92,1435.15 704.23,1435.63 704.54,1433.38 704.85,1432.71 705.16,1434.74 705.47,1434.43 705.78,1430.54 706.09,1430.1 706.4,1433.1 706.71,1433.28 707.02,1433.41 707.33,1434.38 707.64,1432.24 707.96,1437.67 708.27,1434.99 708.58,1435.55 708.89,1433.93 709.2,1430.25 709.51,1433.78 709.82,1432.5 710.13,1434 710.44,1433.08 710.75,1434.27 711.06,1431.76 711.37,1432.53 711.68,1433.07 712,1431.79 712.31,1432.21 712.62,1433.9 712.93,1436.01 713.24,1432.45 713.55,1434.11 713.86,1430.8 714.17,1431.87 714.48,1433.13 714.79,1433.5 715.1,1430.74 715.41,1433.44 715.72,1432.61 716.03,1434.56 716.35,1433.86 716.66,1433.14 716.97,1431.44 717.28,1432.53 717.59,1430.5 717.9,1430.48 718.21,1428.6 718.52,1429.49 718.83,1429.47 719.14,1431.51 719.45,1431.82 719.76,1429.11 720.07,1431.32 720.39,1432.18 720.7,1433.09 721.01,1431.12 721.32,1431.64 721.63,1430.45 721.94,1432.84 722.25,1428.03 722.56,1431.4 722.87,1426.38 723.18,1434.12 723.49,1432.53 723.8,1426.5 724.11,1429.52 724.43,1427.68 724.74,1426.87 725.05,1429.49 725.36,1428.45 725.67,1432.28 725.98,1429 726.29,1427.69 726.6,1429.73 726.91,1430.66 727.22,1431.45 727.53,1430.7 727.84,1426.35 728.15,1427.68 728.46,1428.95 728.78,1427.43 729.09,1430.79 729.4,1428.3 729.71,1428.79 730.02,1428.02 730.33,1428.85 730.64,1425.23 730.95,1433.34 731.26,1427.11 731.57,1426.61 731.88,1424.01 732.19,1427.85 732.5,1424.65 732.82,1428.59 733.13,1430.58 733.44,1429.03 733.75,1426.32 734.06,1430.43 734.37,1426.66 734.68,1426.87 734.99,1427 735.3,1425.47 735.61,1427.64 735.92,1423.16 736.23,1421.54 736.54,1429.29 736.86,1423.95 737.17,1424.81 737.48,1426.53 737.79,1424.15 738.1,1421.98 738.41,1424.57 738.72,1422.26 739.03,1426.37 739.34,1423.33 739.65,1423.7 739.96,1426.57 740.27,1419.49 740.58,1419.44 740.89,1426 741.21,1427.5 741.52,1423.71 741.83,1421.04 742.14,1426.97 742.45,1424.57 742.76,1426.04 743.07,1416.65 743.38,1421.95 743.69,1418.78 744,1418.35 744.31,1423.8 744.62,1424.14 744.93,1419.9 745.25,1420.47 745.56,1425.86 745.87,1423.23 746.18,1420.39 746.49,1422.4 746.8,1420.85 747.11,1415.88 747.42,1418.31 747.73,1420.94 748.04,1421.96 748.35,1415.34 748.66,1416.56 748.97,1417.15 749.29,1413.64 749.6,1422.87 749.91,1420.38 750.22,1423.31 750.53,1410.4 750.84,1415.22 751.15,1424.69 751.46,1412.64 751.77,1410.9 752.08,1418.3 752.39,1423.16 752.7,1419.51 753.01,1413.33 753.33,1418.84 753.64,1418.12 753.95,1417.39 754.26,1417.68 754.57,1419.18 754.88,1420.3 755.19,1420.92 755.5,1419.58 755.81,1414.7 756.12,1407.88 756.43,1417.04 756.74,1408.82 757.05,1423.5 757.36,1409.76 757.68,1406.82 757.99,1406.59 758.3,1415.32 758.61,1414.77 758.92,1415.99 759.23,1414.34 759.54,1409.83 759.85,1416.1 760.16,1409.77 760.47,1406.25 760.78,1415.93 761.09,1414.21 761.4,1407.95 761.72,1410.57 762.03,1415.69 762.34,1415.13 762.65,1406.53 762.96,1415.48 763.27,1399.71 763.58,1410.79 763.89,1411.85 764.2,1409.51 764.51,1410.3 764.82,1402.73 765.13,1408.85 765.44,1411.35 765.76,1404.98 766.07,1409.39 766.38,1407.85 766.69,1398.53 767,1405.5 767.31,1410.5 767.62,1400.88 767.93,1407.63 768.24,1408.79 768.55,1401.41 768.86,1405.76 769.17,1410.67 769.48,1409.69 769.79,1401.77 770.11,1410.62 770.42,1407.35 770.73,1406.15 771.04,1412.25 771.35,1408.5 771.66,1406.62 771.97,1409.13 772.28,1407.56 772.59,1410.14 772.9,1403.52 773.21,1395.54 773.52,1410.88 773.83,1407.15 774.15,1405.63 774.46,1403.15 774.77,1402.3 775.08,1402.98 775.39,1397.77 775.7,1405.74 776.01,1402.24 776.32,1397.03 776.63,1402.66 776.94,1399.59 777.25,1400.8 777.56,1403.35 777.87,1413.6 778.19,1395.08 778.5,1402.06 778.81,1403.31 779.12,1401.7 779.43,1406.72 779.74,1397.06 780.05,1397.32 780.36,1398.68 780.67,1391.7 780.98,1403.8 781.29,1391.87 781.6,1400.61 781.91,1403.66 782.22,1393.22 782.54,1396.32 782.85,1395.97 783.16,1405.52 783.47,1397.91 783.78,1387.37 784.09,1401.62 784.4,1401.22 784.71,1385.44 785.02,1381.45 785.33,1408.78 785.64,1395.51 785.95,1383.8 786.26,1400.13 786.58,1401.81 786.89,1381.74 787.2,1400.67 787.51,1397.5 787.82,1393.44 788.13,1389.63 788.44,1395.16 788.75,1388.61 789.06,1393.55 789.37,1391.12 789.68,1389.89 789.99,1394.98 790.3,1397.09 790.62,1396.4 790.93,1393.81 791.24,1400.28 791.55,1384.16 791.86,1391.13 792.17,1391.56 792.48,1396.95 792.79,1377.77 793.1,1387.48 793.41,1387.95 793.72,1390.53 794.03,1401.7 794.34,1390.33 794.66,1388.28 794.97,1390.96 795.28,1393.82 795.59,1387.18 795.9,1397.31 796.21,1380.93 796.52,1394.49 796.83,1391.23 797.14,1392.65 797.45,1395.56 797.76,1385.22 798.07,1388.72 798.38,1387.65 798.69,1382.5 799.01,1381.36 799.32,1381.06 799.63,1390.12 799.94,1372.03 800.25,1377.51 800.56,1385.11 800.87,1391.99 801.18,1383.69 801.49,1391.37 801.8,1383.53 802.11,1380.6 802.42,1374.43 802.73,1384.4 803.05,1393.19 803.36,1383.45 803.67,1376.65 803.98,1385.95 804.29,1374.3 804.6,1375.43 804.91,1388.5 805.22,1384.16 805.53,1387.24 805.84,1382.74 806.15,1380.42 806.46,1381.93 806.77,1378.75 807.09,1386.73 807.4,1372.54 807.71,1368.68 808.02,1374.67 808.33,1384.91 808.64,1375.99 808.95,1365.1 809.26,1395.92 809.57,1372.82 809.88,1376.99 810.19,1381.38 810.5,1379.82 810.81,1376.25 811.12,1367.41 811.44,1379.83 811.75,1370.25 812.06,1374.85 812.37,1380.27 812.68,1372.82 812.99,1363.67 813.3,1370.67 813.61,1377.83 813.92,1378.1 814.23,1365 814.54,1373.04 814.85,1374.15 815.16,1378.61 815.48,1373.91 815.79,1371.88 816.1,1368.39 816.41,1372.89 816.72,1374.33 817.03,1367.79 817.34,1366.44 817.65,1379.13 817.96,1366.92 818.27,1361.49 818.58,1370.55 818.89,1357.29 819.2,1357.73 819.52,1370.48 819.83,1363.93 820.14,1368.5 820.45,1367.82 820.76,1356.86 821.07,1364.81 821.38,1358.2 821.69,1361.64 822,1361.28 822.31,1358.36 822.62,1349.37 822.93,1359.77 823.24,1357.19 823.56,1360.13 823.87,1348.38 824.18,1356.54 824.49,1353 824.8,1350.76 825.11,1351.2 825.42,1350.61 825.73,1341.87 826.04,1347.01 826.35,1346.83 826.66,1352.78 826.97,1347.46 827.28,1358.1 827.59,1351.31 827.91,1348.31 828.22,1346.61 828.53,1333.52 828.84,1345.83 829.15,1351.58 829.46,1333.34 829.77,1349.91 830.08,1343.35 830.39,1339.55 830.7,1332.69 831.01,1334.77 831.32,1326.98 831.63,1331.51 831.95,1330.53 832.26,1329.06 832.57,1317.15 832.88,1332.93 833.19,1318.46 833.5,1325.51 833.81,1325.54 834.12,1317.41 834.43,1338.14 834.74,1317.15 835.05,1318.26 835.36,1311.2 835.67,1314.77 835.99,1299.73 836.3,1314.79 836.61,1304.68 836.92,1302.02 837.23,1311.73 837.54,1311.56 837.85,1298.27 838.16,1291.31 838.47,1280.7 838.78,1287.93 839.09,1299.48 839.4,1298.78 839.71,1279.19 840.02,1288.83 840.34,1295.56 840.65,1275.73 840.96,1274.62 841.27,1268.06 841.58,1277.52 841.89,1251.6 842.2,1265.42 842.51,1267.93 842.82,1259.2 843.13,1266.01 843.44,1259 843.75,1243.71 844.06,1234.75 844.38,1230.22 844.69,1242.73 845,1232.08 845.31,1230.81 845.62,1215.45 845.93,1234.18 846.24,1227.06 846.55,1221.69 846.86,1195.96 847.17,1233.79 847.48,1208.78 847.79,1181.42 848.1,1200.89 848.42,1183.6 848.73,1171.92 849.04,1168.93 849.35,1181.63 849.66,1177.13 849.97,1174.14 850.28,1167.41 850.59,1156.26 850.9,1171.11 851.21,1164.08 851.52,1164.46 851.83,1174.26 852.14,1187.45 852.45,1158.65 852.77,1178.3 853.08,1157.34 853.39,1176.98 853.7,1174.83 854.01,1167.7 854.32,1170.69 854.63,1158.89 854.94,1165.13 855.25,1181.92 855.56,1180.76 855.87,1200.21 856.18,1162.21 856.49,1171.13 856.81,1180.75 857.12,1183.38 857.43,1180.12 857.74,1184.75 858.05,1192.17 858.36,1211.84 858.67,1199.47 858.98,1195.83 859.29,1211.96 859.6,1183.12 859.91,1207.08 860.22,1214.12 860.53,1228.91 860.85,1205.45 861.16,1232.59 861.47,1228.51 861.78,1255.2 862.09,1258.4 862.4,1251.07 862.71,1265.61 863.02,1254.69 863.33,1273.43 863.64,1278.75 863.95,1291.11 864.26,1281.84 864.57,1270.9 864.89,1302.41 865.2,1290.26 865.51,1299.73 865.82,1305.96 866.13,1327.59 866.44,1317.89 866.75,1332.27 867.06,1328.15 867.37,1321.42 867.68,1340.6 867.99,1345.78 868.3,1342.71 868.61,1340.59 868.92,1375.97 869.24,1375.43 869.55,1368.45 869.86,1373.16 870.17,1380.35 870.48,1382.29 870.79,1374.39 871.1,1379.29 871.41,1395.34 871.72,1401.82 872.03,1403.91 872.34,1406.23 872.65,1405.78 872.96,1413.25 873.28,1418.52 873.59,1417.11 873.9,1422.25 874.21,1424.21 874.52,1419.76 874.83,1427.55 875.14,1423.71 875.45,1425.08 875.76,1432.33 876.07,1426.54 876.38,1430.62 876.69,1433.47 877,1433.3 877.32,1432.7 877.63,1432.49 877.94,1435.06 878.25,1435.49 878.56,1435.05 878.87,1434.28 879.18,1434.04 879.49,1435.96 879.8,1436.1 880.11,1437.23 880.42,1436.09 880.73,1437.5 881.04,1435.31 881.35,1434.83 881.67,1437.66 881.98,1436.27 882.29,1435.86 882.6,1436.61 882.91,1435.53 883.22,1436.47 883.53,1435.46 883.84,1437.11 884.15,1436.44 884.46,1437.06 884.77,1437.2 885.08,1437.71 885.39,1435.76 885.71,1437.6 886.02,1437.29 886.33,1436.56 886.64,1437.45 886.95,1438.19 887.26,1438.23 887.57,1439.6 887.88,1437.67 888.19,1438.13 888.5,1439.68 888.81,1437.65 889.12,1437.52 889.43,1437.88 889.75,1437.83 890.06,1438.33 890.37,1438.51 890.68,1437.87 890.99,1437.63 891.3,1438.5 891.61,1437.67 891.92,1438.02 892.23,1438.92 892.54,1438.64 892.85,1438.03 893.16,1437.76 893.47,1438.11 893.78,1437.81 894.1,1439.25 894.41,1439.43 894.72,1439.15 895.03,1439.19 895.34,1438.68 895.65,1439.15 895.96,1439.11 896.27,1439.13 896.58,1438.8 896.89,1438.45 897.2,1439.36 897.51,1439.44 897.82,1438.52 898.14,1439.1 898.45,1439.25 898.76,1439.6 899.07,1438.27 899.38,1438.48 899.69,1438.53 900,1438.63 900.31,1438.75 900.62,1439.93 900.93,1438.75 901.24,1440.71 901.55,1439.63 901.86,1439.89 902.18,1439.48 902.49,1440.02 902.8,1439.76 903.11,1440.01 903.42,1439.9 903.73,1439.93 904.04,1439.81 904.35,1440.22 904.66,1439.64 904.97,1439.35 905.28,1440.52 905.59,1439.4 905.9,1439.89 906.22,1440.73 906.53,1439.35 906.84,1439.56 907.15,1439.35 907.46,1439.23 907.77,1440.08 908.08,1439.64 908.39,1439.82 908.7,1438.87 909.01,1440.02 909.32,1439.41 909.63,1438.78 909.94,1439.42 910.25,1438.97 910.57,1440.63 910.88,1438.96 911.19,1439.97 911.5,1439.31 911.81,1439.43 912.12,1439.2 912.43,1440.47 912.74,1439.31 913.05,1439.56 913.36,1440 913.67,1439.7 913.98,1440.24 914.29,1439.54 914.61,1439.11 914.92,1440.14 915.23,1440.51 915.54,1440.19 915.85,1439.54 916.16,1440.51 916.47,1440.34 916.78,1439.79 917.09,1440.18 917.4,1439.97 917.71,1440.05 918.02,1440.31 918.33,1440.42 918.65,1440.06 918.96,1440.06 919.27,1438.89 919.58,1439.68 919.89,1440.27 920.2,1439.71 920.51,1440.25 920.82,1440.01 921.13,1440.14" fill="none" stroke="#000" stroke-width="3" stroke-linejoin="miter"/>
</g>
<line x1="513.4" y1="1102" x2="921.1" y2="1102" stroke="#000" stroke-width="2"/>
<line x1="921.1" y1="1102" x2="921.1" y2="1440.7" stroke="#000" stroke-width="2"/>
<line x1="513.4" y1="1101" x2="513.4" y2="1442.2" stroke="#000" stroke-width="3"/>
<line x1="510.4" y1="1440.7" x2="922.1" y2="1440.7" stroke="#000" stroke-width="3"/>
<line x1="508.4" y1="1110.4" x2="513.4" y2="1110.4" stroke="#000" stroke-width="1.6"/>
<text x="503.4" y="1118.9" font-size="24" text-anchor="end" font-weight="normal" fill="#000" stroke="#000" stroke-width="0.3">0.6</text>
<line x1="508.4" y1="1165.4" x2="513.4" y2="1165.4" stroke="#000" stroke-width="1.6"/>
<text x="503.4" y="1173.9" font-size="24" text-anchor="end" font-weight="normal" fill="#000" stroke="#000" stroke-width="0.3">0.5</text>
<line x1="508.4" y1="1220.7" x2="513.4" y2="1220.7" stroke="#000" stroke-width="1.6"/>
<text x="503.4" y="1229.2" font-size="24" text-anchor="end" font-weight="normal" fill="#000" stroke="#000" stroke-width="0.3">0.4</text>
<line x1="508.4" y1="1275.7" x2="513.4" y2="1275.7" stroke="#000" stroke-width="1.6"/>
<text x="503.4" y="1284.2" font-size="24" text-anchor="end" font-weight="normal" fill="#000" stroke="#000" stroke-width="0.3">0.3</text>
<line x1="508.4" y1="1331" x2="513.4" y2="1331" stroke="#000" stroke-width="1.6"/>
<text x="503.4" y="1339.5" font-size="24" text-anchor="end" font-weight="normal" fill="#000" stroke="#000" stroke-width="0.3">0.2</text>
<line x1="508.4" y1="1386" x2="513.4" y2="1386" stroke="#000" stroke-width="1.6"/>
<text x="503.4" y="1394.5" font-size="24" text-anchor="end" font-weight="normal" fill="#000" stroke="#000" stroke-width="0.3">0.1</text>
<line x1="509.9" y1="1440.7" x2="513.4" y2="1440.7" stroke="#000" stroke-width="0.8"/>
<line x1="509.9" y1="1435.2" x2="513.4" y2="1435.2" stroke="#000" stroke-width="0.8"/>
<line x1="509.9" y1="1429.7" x2="513.4" y2="1429.7" stroke="#000" stroke-width="0.8"/>
<line x1="509.9" y1="1424.2" x2="513.4" y2="1424.2" stroke="#000" stroke-width="0.8"/>
<line x1="509.9" y1="1418.7" x2="513.4" y2="1418.7" stroke="#000" stroke-width="0.8"/>
<line x1="509.9" y1="1413.2" x2="513.4" y2="1413.2" stroke="#000" stroke-width="0.8"/>
<line x1="509.9" y1="1407.7" x2="513.4" y2="1407.7" stroke="#000" stroke-width="0.8"/>
<line x1="509.9" y1="1402.2" x2="513.4" y2="1402.2" stroke="#000" stroke-width="0.8"/>
<line x1="509.9" y1="1396.7" x2="513.4" y2="1396.7" stroke="#000" stroke-width="0.8"/>
<line x1="509.9" y1="1391.2" x2="513.4" y2="1391.2" stroke="#000" stroke-width="0.8"/>
<line x1="509.9" y1="1385.7" x2="513.4" y2="1385.7" stroke="#000" stroke-width="0.8"/>
<line x1="509.9" y1="1380.2" x2="513.4" y2="1380.2" stroke="#000" stroke-width="0.8"/>
<line x1="509.9" y1="1374.7" x2="513.4" y2="1374.7" stroke="#000" stroke-width="0.8"/>
<line x1="509.9" y1="1369.2" x2="513.4" y2="1369.2" stroke="#000" stroke-width="0.8"/>
<line x1="509.9" y1="1363.7" x2="513.4" y2="1363.7" stroke="#000" stroke-width="0.8"/>
<line x1="509.9" y1="1358.2" x2="513.4" y2="1358.2" stroke="#000" stroke-width="0.8"/>
<line x1="509.9" y1="1352.7" x2="513.4" y2="1352.7" stroke="#000" stroke-width="0.8"/>
<line x1="509.9" y1="1347.2" x2="513.4" y2="1347.2" stroke="#000" stroke-width="0.8"/>
<line x1="509.9" y1="1341.7" x2="513.4" y2="1341.7" stroke="#000" stroke-width="0.8"/>
<line x1="509.9" y1="1336.2" x2="513.4" y2="1336.2" stroke="#000" stroke-width="0.8"/>
<line x1="509.9" y1="1330.7" x2="513.4" y2="1330.7" stroke="#000" stroke-width="0.8"/>
<line x1="509.9" y1="1325.2" x2="513.4" y2="1325.2" stroke="#000" stroke-width="0.8"/>
<line x1="509.9" y1="1319.7" x2="513.4" y2="1319.7" stroke="#000" stroke-width="0.8"/>
<line x1="509.9" y1="1314.2" x2="513.4" y2="1314.2" stroke="#000" stroke-width="0.8"/>
<line x1="509.9" y1="1308.7" x2="513.4" y2="1308.7" stroke="#000" stroke-width="0.8"/>
<line x1="509.9" y1="1303.2" x2="513.4" y2="1303.2" stroke="#000" stroke-width="0.8"/>
<line x1="509.9" y1="1297.7" x2="513.4" y2="1297.7" stroke="#000" stroke-width="0.8"/>
<line x1="509.9" y1="1292.2" x2="513.4" y2="1292.2" stroke="#000" stroke-width="0.8"/>
<line x1="509.9" y1="1286.7" x2="513.4" y2="1286.7" stroke="#000" stroke-width="0.8"/>
<line x1="509.9" y1="1281.2" x2="513.4" y2="1281.2" stroke="#000" stroke-width="0.8"/>
<line x1="509.9" y1="1275.7" x2="513.4" y2="1275.7" stroke="#000" stroke-width="0.8"/>
<line x1="509.9" y1="1270.2" x2="513.4" y2="1270.2" stroke="#000" stroke-width="0.8"/>
<line x1="509.9" y1="1264.7" x2="513.4" y2="1264.7" stroke="#000" stroke-width="0.8"/>
<line x1="509.9" y1="1259.2" x2="513.4" y2="1259.2" stroke="#000" stroke-width="0.8"/>
<line x1="509.9" y1="1253.7" x2="513.4" y2="1253.7" stroke="#000" stroke-width="0.8"/>
<line x1="509.9" y1="1248.2" x2="513.4" y2="1248.2" stroke="#000" stroke-width="0.8"/>
<line x1="509.9" y1="1242.7" x2="513.4" y2="1242.7" stroke="#000" stroke-width="0.8"/>
<line x1="509.9" y1="1237.2" x2="513.4" y2="1237.2" stroke="#000" stroke-width="0.8"/>
<line x1="509.9" y1="1231.7" x2="513.4" y2="1231.7" stroke="#000" stroke-width="0.8"/>
<line x1="509.9" y1="1226.2" x2="513.4" y2="1226.2" stroke="#000" stroke-width="0.8"/>
<line x1="509.9" y1="1220.7" x2="513.4" y2="1220.7" stroke="#000" stroke-width="0.8"/>
<line x1="509.9" y1="1215.2" x2="513.4" y2="1215.2" stroke="#000" stroke-width="0.8"/>
<line x1="509.9" y1="1209.7" x2="513.4" y2="1209.7" stroke="#000" stroke-width="0.8"/>
<line x1="509.9" y1="1204.2" x2="513.4" y2="1204.2" stroke="#000" stroke-width="0.8"/>
<line x1="509.9" y1="1198.7" x2="513.4" y2="1198.7" stroke="#000" stroke-width="0.8"/>
<line x1="509.9" y1="1193.2" x2="513.4" y2="1193.2" stroke="#000" stroke-width="0.8"/>
<line x1="509.9" y1="1187.7" x2="513.4" y2="1187.7" stroke="#000" stroke-width="0.8"/>
<line x1="509.9" y1="1182.2" x2="513.4" y2="1182.2" stroke="#000" stroke-width="0.8"/>
<line x1="509.9" y1="1176.7" x2="513.4" y2="1176.7" stroke="#000" stroke-width="0.8"/>
<line x1="509.9" y1="1171.2" x2="513.4" y2="1171.2" stroke="#000" stroke-width="0.8"/>
<line x1="509.9" y1="1165.7" x2="513.4" y2="1165.7" stroke="#000" stroke-width="0.8"/>
<line x1="509.9" y1="1160.2" x2="513.4" y2="1160.2" stroke="#000" stroke-width="0.8"/>
<line x1="509.9" y1="1154.7" x2="513.4" y2="1154.7" stroke="#000" stroke-width="0.8"/>
<line x1="509.9" y1="1149.2" x2="513.4" y2="1149.2" stroke="#000" stroke-width="0.8"/>
<line x1="509.9" y1="1143.7" x2="513.4" y2="1143.7" stroke="#000" stroke-width="0.8"/>
<line x1="509.9" y1="1138.2" x2="513.4" y2="1138.2" stroke="#000" stroke-width="0.8"/>
<line x1="509.9" y1="1132.7" x2="513.4" y2="1132.7" stroke="#000" stroke-width="0.8"/>
<line x1="509.9" y1="1127.2" x2="513.4" y2="1127.2" stroke="#000" stroke-width="0.8"/>
<line x1="509.9" y1="1121.7" x2="513.4" y2="1121.7" stroke="#000" stroke-width="0.8"/>
<line x1="509.9" y1="1116.2" x2="513.4" y2="1116.2" stroke="#000" stroke-width="0.8"/>
<line x1="509.9" y1="1110.7" x2="513.4" y2="1110.7" stroke="#000" stroke-width="0.8"/>
<line x1="509.9" y1="1105.2" x2="513.4" y2="1105.2" stroke="#000" stroke-width="0.8"/>
<line x1="614.4" y1="1440.7" x2="614.4" y2="1445.2" stroke="#000" stroke-width="1.6"/>
<text x="601.1" y="1477.7" font-size="20.5" stroke="#000" stroke-width="0.25" text-anchor="start" textLength="19.5" lengthAdjust="spacingAndGlyphs">10</text>
<text x="620.7" y="1467.7" font-size="15" text-anchor="start" font-weight="normal" fill="#000" stroke="#000" stroke-width="0.3">0</text>
<line x1="716.3" y1="1440.7" x2="716.3" y2="1445.2" stroke="#000" stroke-width="1.6"/>
<text x="703" y="1477.7" font-size="20.5" stroke="#000" stroke-width="0.25" text-anchor="start" textLength="19.5" lengthAdjust="spacingAndGlyphs">10</text>
<text x="722.6" y="1467.7" font-size="15" text-anchor="start" font-weight="normal" fill="#000" stroke="#000" stroke-width="0.3">1</text>
<line x1="818.6" y1="1440.7" x2="818.6" y2="1445.2" stroke="#000" stroke-width="1.6"/>
<text x="805.3" y="1477.7" font-size="20.5" stroke="#000" stroke-width="0.25" text-anchor="start" textLength="19.5" lengthAdjust="spacingAndGlyphs">10</text>
<text x="824.9" y="1467.7" font-size="15" text-anchor="start" font-weight="normal" fill="#000" stroke="#000" stroke-width="0.3">2</text>
<line x1="921.1" y1="1440.7" x2="921.1" y2="1445.2" stroke="#000" stroke-width="1.6"/>
<text x="907.8" y="1477.7" font-size="20.5" stroke="#000" stroke-width="0.25" text-anchor="start" textLength="19.5" lengthAdjust="spacingAndGlyphs">10</text>
<text x="927.4" y="1467.7" font-size="15" text-anchor="start" font-weight="normal" fill="#000" stroke="#000" stroke-width="0.3">3</text>
<text x="713.1" y="1520.6" font-size="31.5" text-anchor="middle" font-weight="normal" fill="#000" stroke="#000" stroke-width="0.3">EdU 488 (AU)</text>
<text x="443" y="1266" font-size="30" text-anchor="middle" font-weight="normal" fill="#000" stroke="#000" stroke-width="0.3" transform="rotate(-90 443 1266)">% Gated</text>
<rect x="665.7" y="1135.9" width="34.8" height="34" fill="#000" stroke="none" stroke-width="0"/>
<rect x="666.3" y="1194.9" width="33.6" height="33" fill="#b5252a" stroke="#3a0d0d" stroke-width="1.2"/>
<text x="716.3" y="1162.3" font-size="30" text-anchor="start" font-weight="normal" fill="#000" stroke="#000" stroke-width="0.3">shNT</text>
<text x="716.3" y="1219.2" font-size="30" text-anchor="start" font-weight="normal" fill="#000" stroke="#000" stroke-width="0.3">shN15</text>
<text x="5.5" y="1623.6" font-size="41.5" text-anchor="start" font-weight="bold" fill="#000" stroke="#000" stroke-width="0.3">d</text>
<text x="253" y="1663" font-size="33.3" text-anchor="middle" font-weight="bold" fill="#000" stroke="#000" stroke-width="0.3">NB4</text>
<rect x="192.7" y="1714.9" width="47.8" height="277.1" fill="#7f8181" stroke="#000" stroke-width="1.9"/>
<rect x="264.6" y="1743.9" width="48.6" height="248.1" fill="#7f8181" stroke="#000" stroke-width="1.9"/>
<line x1="167.9" y1="1663.9" x2="167.9" y2="1993" stroke="#000" stroke-width="2"/>
<line x1="150.5" y1="1992" x2="339.6" y2="1992" stroke="#000" stroke-width="2"/>
<line x1="150.5" y1="1664.9" x2="167.9" y2="1664.9" stroke="#000" stroke-width="2"/>
<text x="145.5" y="1674.1" font-size="25.8" text-anchor="end" font-weight="normal" fill="#000" stroke="#000" stroke-width="0.3">80</text>
<line x1="150.5" y1="1747" x2="167.9" y2="1747" stroke="#000" stroke-width="2"/>
<text x="145.5" y="1756.2" font-size="25.8" text-anchor="end" font-weight="normal" fill="#000" stroke="#000" stroke-width="0.3">60</text>
<line x1="150.5" y1="1828.8" x2="167.9" y2="1828.8" stroke="#000" stroke-width="2"/>
<text x="145.5" y="1838" font-size="25.8" text-anchor="end" font-weight="normal" fill="#000" stroke="#000" stroke-width="0.3">40</text>
<line x1="150.5" y1="1910.2" x2="167.9" y2="1910.2" stroke="#000" stroke-width="2"/>
<text x="145.5" y="1919.4" font-size="25.8" text-anchor="end" font-weight="normal" fill="#000" stroke="#000" stroke-width="0.3">20</text>
<line x1="150.5" y1="1992" x2="167.9" y2="1992" stroke="#000" stroke-width="2"/>
<text x="145.5" y="2001.2" font-size="25.8" text-anchor="end" font-weight="normal" fill="#000" stroke="#000" stroke-width="0.3">0</text>
<line x1="215.8" y1="1992" x2="215.8" y2="2009" stroke="#000" stroke-width="2"/>
<line x1="288.9" y1="1992" x2="288.9" y2="2009" stroke="#000" stroke-width="2"/>
<circle cx="200.4" cy="1718.4" r="7.1" fill="#fff" stroke="#000" stroke-width="2"/>
<circle cx="232.3" cy="1710.4" r="7.1" fill="#fff" stroke="#000" stroke-width="2"/>
<circle cx="273.1" cy="1751.7" r="7.1" fill="#fff" stroke="#000" stroke-width="2"/>
<circle cx="305.4" cy="1735.2" r="7.1" fill="#fff" stroke="#000" stroke-width="2"/>
<text x="61.5" y="2052.8" font-size="31.4" text-anchor="start" font-weight="normal" fill="#000" stroke="#000" stroke-width="0.3">shRNA</text>
<text x="215.8" y="2052.8" font-size="31" text-anchor="middle" font-weight="normal" fill="#000" stroke="#000" stroke-width="0.3">NT</text>
<text x="288.9" y="2052.8" font-size="31" text-anchor="middle" font-weight="normal" fill="#000" stroke="#000" stroke-width="0.3">N15</text>
<text x="92.4" y="1827.5" font-size="31" text-anchor="middle" font-weight="normal" fill="#000" stroke="#000" stroke-width="0.3" transform="rotate(-90 92.4 1827.5)">% Gated</text>
<clipPath id="hc2"><rect x="513.4" y="1641.3" width="407.7" height="340"/></clipPath><g clip-path="url(#hc2)">
<polyline points="513.42,1978.44 513.74,1978.44 514.05,1978.3 514.36,1978.27 514.67,1978.44 514.98,1978.44 515.29,1978.44 515.6,1978.19 515.91,1978.26 516.22,1978.41 516.53,1978.44 516.84,1978.42 517.15,1978.34 517.46,1978.36 517.78,1978.44 518.09,1978.24 518.4,1978.41 518.71,1978.44 519.02,1978.44 519.33,1978.38 519.64,1978.44 519.95,1978.15 520.26,1978.44 520.57,1978.43 520.88,1978.26 521.19,1978.38 521.5,1978.44 521.81,1978.3 522.13,1978.44 522.44,1978.44 522.75,1978.44 523.06,1978.44 523.37,1978.04 523.68,1978.44 523.99,1978.19 524.3,1978.44 524.61,1978.38 524.92,1978.42 525.23,1978.44 525.54,1978.19 525.85,1978.38 526.17,1978.15 526.48,1978.44 526.79,1978.22 527.1,1978.34 527.41,1977.85 527.72,1977.92 528.03,1978.1 528.34,1978.44 528.65,1978.44 528.96,1978.41 529.27,1978.14 529.58,1978.44 529.89,1978.02 530.21,1978.07 530.52,1978.44 530.83,1978.02 531.14,1978.39 531.45,1978.44 531.76,1978.28 532.07,1978.42 532.38,1978.31 532.69,1978.1 533,1977.34 533.31,1977.92 533.62,1978.29 533.93,1977.79 534.24,1978.11 534.56,1978.34 534.87,1978.44 535.18,1977.85 535.49,1978.11 535.8,1978.34 536.11,1978.43 536.42,1977.83 536.73,1978.44 537.04,1978 537.35,1978.44 537.66,1978.19 537.97,1978.38 538.28,1978.44 538.6,1978.44 538.91,1978.29 539.22,1977.91 539.53,1978.03 539.84,1977.77 540.15,1978.44 540.46,1977.72 540.77,1977.37 541.08,1978.44 541.39,1978.44 541.7,1978.1 542.01,1978.44 542.32,1977.93 542.64,1978.01 542.95,1978.38 543.26,1978.34 543.57,1978.04 543.88,1978.44 544.19,1978.44 544.5,1978.24 544.81,1977.78 545.12,1978.23 545.43,1978.07 545.74,1978.15 546.05,1978.44 546.36,1977.97 546.67,1978.26 546.99,1978.44 547.3,1978.29 547.61,1978.44 547.92,1977.53 548.23,1978.13 548.54,1977.72 548.85,1978.12 549.16,1978.44 549.47,1977.54 549.78,1978.03 550.09,1978.37 550.4,1978.16 550.71,1978.44 551.03,1977.54 551.34,1978.44 551.65,1977.75 551.96,1977.65 552.27,1978.32 552.58,1978.28 552.89,1977.82 553.2,1977.78 553.51,1978.01 553.82,1978.08 554.13,1978.02 554.44,1977.69 554.75,1977.18 555.07,1978.44 555.38,1978.14 555.69,1977.58 556,1977.45 556.31,1977.78 556.62,1977.89 556.93,1977.21 557.24,1978.44 557.55,1978.21 557.86,1977.91 558.17,1978.17 558.48,1978.12 558.79,1978.44 559.11,1978.08 559.42,1978.44 559.73,1978.44 560.04,1977.87 560.35,1977.81 560.66,1977.63 560.97,1977.89 561.28,1977.68 561.59,1977.98 561.9,1978.1 562.21,1978.19 562.52,1977.47 562.83,1978.41 563.14,1977.81 563.46,1977.89 563.77,1977.71 564.08,1977.06 564.39,1978.03 564.7,1977.13 565.01,1978.39 565.32,1977.91 565.63,1978.44 565.94,1978.17 566.25,1978.18 566.56,1978.44 566.87,1977.83 567.18,1978.44 567.5,1977.78 567.81,1977.94 568.12,1977.53 568.43,1978.12 568.74,1978.23 569.05,1977.81 569.36,1977.59 569.67,1978.13 569.98,1978.32 570.29,1978.12 570.6,1977.76 570.91,1977.72 571.22,1977.72 571.54,1976.22 571.85,1976.9 572.16,1977.86 572.47,1975.64 572.78,1976.03 573.09,1977.24 573.4,1976.03 573.71,1975.81 574.02,1974.19 574.33,1972.17 574.64,1976.71 574.95,1972.65 575.26,1971.7 575.57,1973.08 575.89,1970.67 576.2,1968.03 576.51,1964.11 576.82,1964.85 577.13,1963.39 577.44,1960.26 577.75,1957.84 578.06,1955.47 578.37,1956.68 578.68,1952.91 578.99,1954.67 579.3,1954.99 579.61,1949.82 579.93,1946.03 580.24,1950.41 580.55,1943.42 580.86,1929.73 581.17,1929.92 581.48,1931.02 581.79,1921.27 582.1,1926.63 582.41,1907.79 582.72,1902.44 583.03,1916.37 583.34,1909.92 583.65,1891.47 583.97,1898.88 584.28,1904.1 584.59,1883.21 584.9,1879.16 585.21,1875.52 585.52,1873.91 585.83,1864.88 586.14,1871.3 586.45,1860.55 586.76,1869.43 587.07,1884.01 587.38,1854.26 587.69,1867.4 588,1866.65 588.32,1834.06 588.63,1851.59 588.94,1847.37 589.25,1841.16 589.56,1847.81 589.87,1833.13 590.18,1836.78 590.49,1826.41 590.8,1825.31 591.11,1815.89 591.42,1842.07 591.73,1816.96 592.04,1804.15 592.36,1832.08 592.67,1826.84 592.98,1808.07 593.29,1802.49 593.6,1800.87 593.91,1819.85 594.22,1803.79 594.53,1799.48 594.84,1814.53 595.15,1802.89 595.46,1804.38 595.77,1823.48 596.08,1811.25 596.4,1814.4 596.71,1806.83 597.02,1816.6 597.33,1803.09 597.64,1815.66 597.95,1817.76 598.26,1804.63 598.57,1797.46 598.88,1816.9 599.19,1811.97 599.5,1820.62 599.81,1810.41 600.12,1822.92 600.44,1828.67 600.75,1843.71 601.06,1839.81 601.37,1828.26 601.68,1839.85 601.99,1822.28 602.3,1840.84 602.61,1833.01 602.92,1845.72 603.23,1838.31 603.54,1834.91 603.85,1832.28 604.16,1851.58 604.47,1842.45 604.79,1849.87 605.1,1849.4 605.41,1828.88 605.72,1853.62 606.03,1846.72 606.34,1854.86 606.65,1857.13 606.96,1839.15 607.27,1853.27 607.58,1856.81 607.89,1861.9 608.2,1867.75 608.51,1855.5 608.83,1860.39 609.14,1868.52 609.45,1849.55 609.76,1880.59 610.07,1858.88 610.38,1878.07 610.69,1869.53 611,1884.26 611.31,1878.3 611.62,1870.49 611.93,1858.04 612.24,1873.12 612.55,1875.2 612.87,1877.43 613.18,1863.75 613.49,1867.55 613.8,1868.27 614.11,1876.82 614.42,1868.11 614.73,1874.13 615.04,1882.39 615.35,1871.98 615.66,1885.72 615.97,1877.53 616.28,1873.23 616.59,1883.53 616.9,1878.68 617.22,1872.35 617.53,1869.53 617.84,1873.13 618.15,1875.43 618.46,1880.86 618.77,1873.1 619.08,1865.15 619.39,1858.61 619.7,1870.48 620.01,1870.96 620.32,1876.46 620.63,1862.84 620.94,1856.46 621.26,1873.5 621.57,1865.28 621.88,1856.85 622.19,1880.13 622.5,1874.11 622.81,1867.79 623.12,1869.99 623.43,1862.39 623.74,1877.05 624.05,1866.68 624.36,1867.79 624.67,1870.47 624.98,1865.57 625.3,1884.15 625.61,1890.86 625.92,1885.81 626.23,1866.59 626.54,1881.68 626.85,1881.12 627.16,1890.32 627.47,1873.79 627.78,1875.47 628.09,1889.26 628.4,1901.03 628.71,1894.44 629.02,1912.54 629.33,1893.13 629.65,1900.71 629.96,1900.97 630.27,1897.91 630.58,1912.15 630.89,1897.63 631.2,1900.79 631.51,1906.62 631.82,1907.22 632.13,1918.63 632.44,1909.54 632.75,1917.16 633.06,1912.47 633.37,1924.24 633.69,1917.61 634,1920.45 634.31,1910.48 634.62,1925.31 634.93,1918.63 635.24,1928.51 635.55,1927.41 635.86,1928.65 636.17,1932.89 636.48,1929.75 636.79,1923.93 637.1,1930.54 637.41,1931.58 637.73,1925.44 638.04,1935.8 638.35,1941.11 638.66,1935.7 638.97,1935.96 639.28,1938.6 639.59,1942.64 639.9,1935.45 640.21,1943.64 640.52,1936.36 640.83,1943.35 641.14,1944.15 641.45,1936.68 641.77,1946.5 642.08,1945.33 642.39,1937.74 642.7,1944.02 643.01,1944.07 643.32,1943.73 643.63,1950.07 643.94,1945.67 644.25,1949.87 644.56,1945.82 644.87,1949.82 645.18,1958.84 645.49,1953.69 645.8,1946.44 646.12,1949.44 646.43,1953.1 646.74,1947.89 647.05,1958.34 647.36,1954.94 647.67,1955.3 647.98,1956.2 648.29,1953.95 648.6,1952.73 648.91,1946.13 649.22,1951.94 649.53,1958.94 649.84,1960.89 650.16,1958.27 650.47,1953.01 650.78,1958.53 651.09,1960.18 651.4,1956.21 651.71,1965.21 652.02,1957.67 652.33,1961.56 652.64,1958.64 652.95,1964.97 653.26,1958.99 653.57,1960.45 653.88,1966.44 654.2,1960.26 654.51,1962.59 654.82,1965.78 655.13,1965.6 655.44,1960.62 655.75,1966.81 656.06,1964.94 656.37,1968.83 656.68,1962.24 656.99,1968.27 657.3,1967.72 657.61,1966.28 657.92,1966.48 658.23,1968.45 658.55,1966.48 658.86,1967.45 659.17,1966.87 659.48,1968.89 659.79,1970.14 660.1,1966.1 660.41,1969.33 660.72,1970.05 661.03,1972.36 661.34,1968.59 661.65,1972.23 661.96,1969.5 662.27,1971.23 662.59,1970.95 662.9,1971.18 663.21,1970.35 663.52,1969.5 663.83,1973.49 664.14,1973.55 664.45,1971.27 664.76,1971.31 665.07,1971.37 665.38,1969.84 665.69,1970.29 666,1972.58 666.31,1973.43 666.63,1971.85 666.94,1970.94 667.25,1970.82 667.56,1971.54 667.87,1973.39 668.18,1972.56 668.49,1970.62 668.8,1971.02 669.11,1973.05 669.42,1973.03 669.73,1974.98 670.04,1974.56 670.35,1972.88 670.67,1971.71 670.98,1972.87 671.29,1971.04 671.6,1971.61 671.91,1973.85 672.22,1973.28 672.53,1973.66 672.84,1974.49 673.15,1971.71 673.46,1973.34 673.77,1972.26 674.08,1972.53 674.39,1972.35 674.7,1972.72 675.02,1969.88 675.33,1969.81 675.64,1971.87 675.95,1972.39 676.26,1970.88 676.57,1971.37 676.88,1969.34 677.19,1972.85 677.5,1972.03 677.81,1973.57 678.12,1970.56 678.43,1970.97 678.74,1971.16 679.06,1973.14 679.37,1971.81 679.68,1971.46 679.99,1968.11 680.3,1969.29 680.61,1968.21 680.92,1970.23 681.23,1971.89 681.54,1970.47 681.85,1968.75 682.16,1973.67 682.47,1968.27 682.78,1972.44 683.1,1972 683.41,1970.36 683.72,1972.19 684.03,1967.82 684.34,1968.67 684.65,1969.04 684.96,1970.17 685.27,1969.09 685.58,1972.46 685.89,1968.55 686.2,1968.74 686.51,1966.82 686.82,1969.9 687.13,1970.42 687.45,1967.41 687.76,1966.35 688.07,1966 688.38,1970.86 688.69,1970.05 689,1968.98 689.31,1969.85 689.62,1969.24 689.93,1969.1 690.24,1964.84 690.55,1969.08 690.86,1969.39 691.17,1970.21 691.49,1969.79 691.8,1966.31 692.11,1968.2 692.42,1964.6 692.73,1970.54 693.04,1964.51 693.35,1968.86 693.66,1965.59 693.97,1965.45 694.28,1965.2 694.59,1966.35 694.9,1967.83 695.21,1969.4 695.53,1966.2 695.84,1968.69 696.15,1968.67 696.46,1971.28 696.77,1965.25 697.08,1967.23 697.39,1968.03 697.7,1966.72 698.01,1967.76 698.32,1964.73 698.63,1965.37 698.94,1964.67 699.25,1964.58 699.56,1963.92 699.88,1965.7 700.19,1962.98 700.5,1964.45 700.81,1967.14 701.12,1961.92 701.43,1963.08 701.74,1964.58 702.05,1962.9 702.36,1963 702.67,1969.97 702.98,1966.12 703.29,1964.12 703.6,1963.36 703.92,1961.26 704.23,1962.17 704.54,1959.2 704.85,1966.34 705.16,1963.59 705.47,1967.12 705.78,1964.74 706.09,1959.59 706.4,1969.51 706.71,1965.9 707.02,1966.81 707.33,1963.02 707.64,1962.94 707.96,1963.87 708.27,1968.98 708.58,1960.92 708.89,1961.33 709.2,1965.47 709.51,1958.8 709.82,1967.94 710.13,1960.83 710.44,1967.05 710.75,1963.4 711.06,1962.79 711.37,1960.57 711.68,1967.59 712,1962.82 712.31,1959.83 712.62,1965.21 712.93,1963.01 713.24,1964.78 713.55,1962.15 713.86,1964.25 714.17,1964.43 714.48,1963.16 714.79,1958.44 715.1,1964.39 715.41,1966.85 715.72,1964.13 716.03,1965.48 716.35,1965.02 716.66,1961.84 716.97,1965.71 717.28,1961.91 717.59,1959.63 717.9,1958.82 718.21,1965.45 718.52,1964.45 718.83,1964.17 719.14,1960.61 719.45,1956.82 719.76,1964.47 720.07,1961.83 720.39,1960.23 720.7,1960.16 721.01,1960.21 721.32,1956.28 721.63,1963.7 721.94,1963.91 722.25,1964.37 722.56,1960.56 722.87,1957.78 723.18,1957.34 723.49,1960.54 723.8,1966.83 724.11,1964.26 724.43,1961.41 724.74,1962.74 725.05,1963.76 725.36,1961.35 725.67,1961.82 725.98,1961.71 726.29,1959.15 726.6,1957.3 726.91,1959.08 727.22,1964.5 727.53,1955.7 727.84,1959.3 728.15,1959.3 728.46,1960.71 728.78,1959.07 729.09,1963.03 729.4,1959.21 729.71,1960.34 730.02,1962.63 730.33,1955.58 730.64,1963.79 730.95,1963.53 731.26,1955.69 731.57,1959.7 731.88,1957.46 732.19,1958.66 732.5,1962.46 732.82,1953.46 733.13,1962.56 733.44,1961.11 733.75,1959.59 734.06,1967.05 734.37,1957.82 734.68,1954.34 734.99,1960.68 735.3,1959.82 735.61,1957.12 735.92,1951.93 736.23,1952.66 736.54,1964.69 736.86,1953.84 737.17,1963.74 737.48,1961.74 737.79,1951.28 738.1,1959.47 738.41,1960.97 738.72,1962.53 739.03,1963.25 739.34,1962.94 739.65,1958.38 739.96,1957.6 740.27,1957.7 740.58,1960.16 740.89,1955 741.21,1954.47 741.52,1966.2 741.83,1961.44 742.14,1961.77 742.45,1957.14 742.76,1954.87 743.07,1956.31 743.38,1954.94 743.69,1955.47 744,1952.07 744.31,1959.74 744.62,1958.67 744.93,1960.22 745.25,1957.57 745.56,1954.71 745.87,1964.45 746.18,1960.48 746.49,1959.07 746.8,1960.14 747.11,1955.8 747.42,1959.45 747.73,1954.02 748.04,1960.31 748.35,1959.98 748.66,1959.54 748.97,1957.86 749.29,1956.83 749.6,1957.09 749.91,1958.83 750.22,1954.45 750.53,1958.63 750.84,1958.8 751.15,1951.22 751.46,1949.48 751.77,1956.8 752.08,1954.36 752.39,1952.56 752.7,1950.84 753.01,1951.25 753.33,1949.15 753.64,1953.88 753.95,1949.31 754.26,1948.61 754.57,1954.47 754.88,1960.55 755.19,1959.43 755.5,1954.03 755.81,1956.04 756.12,1953.57 756.43,1953.94 756.74,1951.37 757.05,1954.27 757.36,1950.11 757.68,1951.21 757.99,1953.33 758.3,1953.53 758.61,1961.57 758.92,1950.27 759.23,1949.27 759.54,1955.91 759.85,1955.55 760.16,1955.87 760.47,1952.64 760.78,1947.14 761.09,1951.51 761.4,1947.82 761.72,1952.4 762.03,1959.44 762.34,1951.21 762.65,1952.74 762.96,1956.51 763.27,1946.82 763.58,1954.99 763.89,1950.49 764.2,1948.99 764.51,1950.14 764.82,1947.51 765.13,1954.78 765.44,1951.61 765.76,1949.22 766.07,1952.92 766.38,1944.77 766.69,1939.48 767,1955.91 767.31,1948.07 767.62,1953.37 767.93,1946.45 768.24,1942.55 768.55,1945.37 768.86,1953.5 769.17,1951.12 769.48,1946.83 769.79,1952.12 770.11,1947.94 770.42,1949.73 770.73,1944.36 771.04,1939.18 771.35,1948.92 771.66,1951.23 771.97,1944.47 772.28,1954.8 772.59,1949.13 772.9,1955.22 773.21,1950.45 773.52,1952.73 773.83,1946.24 774.15,1940.84 774.46,1956.54 774.77,1952.49 775.08,1949.67 775.39,1942.49 775.7,1950.24 776.01,1941.64 776.32,1948.29 776.63,1949.84 776.94,1947.91 777.25,1941.09 777.56,1948.03 777.87,1945.95 778.19,1947.4 778.5,1950.41 778.81,1941.66 779.12,1940.65 779.43,1934.75 779.74,1950.82 780.05,1940.23 780.36,1949.52 780.67,1945.17 780.98,1948.74 781.29,1944.21 781.6,1945.1 781.91,1941.66 782.22,1944.63 782.54,1937.47 782.85,1946.89 783.16,1934.09 783.47,1939.31 783.78,1939.69 784.09,1941.72 784.4,1940.54 784.71,1936.24 785.02,1940.92 785.33,1927.55 785.64,1936.76 785.95,1939.59 786.26,1936.36 786.58,1944.12 786.89,1938.52 787.2,1941.28 787.51,1933.28 787.82,1943.03 788.13,1941.89 788.44,1930.67 788.75,1944.69 789.06,1931.9 789.37,1931.52 789.68,1941.12 789.99,1945.46 790.3,1939.82 790.62,1935.57 790.93,1932.53 791.24,1932.14 791.55,1936.55 791.86,1937.1 792.17,1930.18 792.48,1937.33 792.79,1923.42 793.1,1935.44 793.41,1929.35 793.72,1927.2 794.03,1944.25 794.34,1936.31 794.66,1931.35 794.97,1927.02 795.28,1939.76 795.59,1932.63 795.9,1927.89 796.21,1919.18 796.52,1936.14 796.83,1934.98 797.14,1933.4 797.45,1924.85 797.76,1920.52 798.07,1936.01 798.38,1928.02 798.69,1933.35 799.01,1915.37 799.32,1927.28 799.63,1932.29 799.94,1927.98 800.25,1937.82 800.56,1932.38 800.87,1932.98 801.18,1930.69 801.49,1925.43 801.8,1921.98 802.11,1921.41 802.42,1932.61 802.73,1924.28 803.05,1913.19 803.36,1925.71 803.67,1924.7 803.98,1921.1 804.29,1925.84 804.6,1918.09 804.91,1937.65 805.22,1919.88 805.53,1916.38 805.84,1922.24 806.15,1922.25 806.46,1925.81 806.77,1921.71 807.09,1923.75 807.4,1919.64 807.71,1917.52 808.02,1912.45 808.33,1913.84 808.64,1917.37 808.95,1909.83 809.26,1921.53 809.57,1914.46 809.88,1922.86 810.19,1920.11 810.5,1912.91 810.81,1932.84 811.12,1922.41 811.44,1909.07 811.75,1915.34 812.06,1908.38 812.37,1905.72 812.68,1911.89 812.99,1907.26 813.3,1915.22 813.61,1900.27 813.92,1910.2 814.23,1916.21 814.54,1908.9 814.85,1918.88 815.16,1918.72 815.48,1897.33 815.79,1902.13 816.1,1900.12 816.41,1913.1 816.72,1899.14 817.03,1887.74 817.34,1896.6 817.65,1897.9 817.96,1898.2 818.27,1897.31 818.58,1897.86 818.89,1891.3 819.2,1895.66 819.52,1891.82 819.83,1891.07 820.14,1891.17 820.45,1898.13 820.76,1893.01 821.07,1894.88 821.38,1883.84 821.69,1875.87 822,1885.65 822.31,1892.01 822.62,1884.39 822.93,1879.47 823.24,1870.4 823.56,1883.35 823.87,1873.4 824.18,1865.6 824.49,1879.68 824.8,1876.11 825.11,1883.8 825.42,1863.13 825.73,1860.5 826.04,1871.05 826.35,1881.05 826.66,1868.76 826.97,1871.03 827.28,1853.28 827.59,1865.22 827.91,1849.2 828.22,1844.85 828.53,1864.14 828.84,1866.09 829.15,1848.88 829.46,1854.37 829.77,1855.75 830.08,1847.08 830.39,1847 830.7,1847.02 831.01,1833.37 831.32,1827.88 831.63,1838.37 831.95,1852.22 832.26,1824.02 832.57,1820.15 832.88,1839.33 833.19,1812.04 833.5,1808.28 833.81,1831.1 834.12,1816.3 834.43,1813.75 834.74,1781.88 835.05,1812.9 835.36,1793.88 835.67,1802.84 835.99,1794.02 836.3,1803.45 836.61,1788.49 836.92,1794.86 837.23,1763.76 837.54,1778.97 837.85,1769.72 838.16,1753.77 838.47,1740.84 838.78,1750.73 839.09,1740.29 839.4,1742.31 839.71,1738.99 840.02,1734.43 840.34,1740.81 840.65,1738.69 840.96,1722.63 841.27,1722.78 841.58,1732.2 841.89,1721.09 842.2,1719.49 842.51,1711.95 842.82,1699.31 843.13,1716.96 843.44,1706.31 843.75,1716.8 844.06,1713.43 844.38,1711.74 844.69,1727.51 845,1706.67 845.31,1731.4 845.62,1722.19 845.93,1751.49 846.24,1709.19 846.55,1713.5 846.86,1728.14 847.17,1735.14 847.48,1724.65 847.79,1740.19 848.1,1735.19 848.42,1719.95 848.73,1744.01 849.04,1754.03 849.35,1752.53 849.66,1750.85 849.97,1746.25 850.28,1769.1 850.59,1781.55 850.9,1755.28 851.21,1782.59 851.52,1761.94 851.83,1788.87 852.14,1764.35 852.45,1796.14 852.77,1810.41 853.08,1795.79 853.39,1803.53 853.7,1824.16 854.01,1827.23 854.32,1838.86 854.63,1854.67 854.94,1837.96 855.25,1855.88 855.56,1842.99 855.87,1839.61 856.18,1861.64 856.49,1853.1 856.81,1883.32 857.12,1891.06 857.43,1893.21 857.74,1883.26 858.05,1894.91 858.36,1894.3 858.67,1909.84 858.98,1910.31 859.29,1928.19 859.6,1929.14 859.91,1924.76 860.22,1943.23 860.53,1940.74 860.85,1947.4 861.16,1946.91 861.47,1955.39 861.78,1957.44 862.09,1958.66 862.4,1963.15 862.71,1962.55 863.02,1963.51 863.33,1962.5 863.64,1961.15 863.95,1970.23 864.26,1969.99 864.57,1967.9 864.89,1972.07 865.2,1971.59 865.51,1971.97 865.82,1974.88 866.13,1974.03 866.44,1971.31 866.75,1973.5 867.06,1974.9 867.37,1975.25 867.68,1974.79 867.99,1973.98 868.3,1974.96 868.61,1972.78 868.92,1976.16 869.24,1974.93 869.55,1974.56 869.86,1974.5 870.17,1975.43 870.48,1974.57 870.79,1974.51 871.1,1974.61 871.41,1977.13 871.72,1975.54 872.03,1976.17 872.34,1976.1 872.65,1975.36 872.96,1976.61 873.28,1975.9 873.59,1975.49 873.9,1975.36 874.21,1975.92 874.52,1975.92 874.83,1977.38 875.14,1974.5 875.45,1977.3 875.76,1977.6 876.07,1977.69 876.38,1976.11 876.69,1976.07 877,1977.6 877.32,1977.22 877.63,1977 877.94,1976.24 878.25,1976.68 878.56,1976.11 878.87,1978.03 879.18,1977.66 879.49,1976.72 879.8,1977.7 880.11,1977.15 880.42,1975.8 880.73,1977.46 881.04,1976.66 881.35,1977.35 881.67,1976.88 881.98,1976.58 882.29,1977.01 882.6,1977.87 882.91,1976.54 883.22,1976.69 883.53,1976.39 883.84,1976.94 884.15,1977.83 884.46,1977.76 884.77,1977.67 885.08,1977.65 885.39,1978.25 885.71,1978.25 886.02,1978.31 886.33,1976.94 886.64,1977.09 886.95,1977.89 887.26,1977.88 887.57,1977.21 887.88,1977.39 888.19,1978.02 888.5,1977.47 888.81,1977.16 889.12,1977.74 889.43,1977.3 889.75,1977.9 890.06,1977.74 890.37,1977.48 890.68,1977.2 890.99,1978.17 891.3,1977.24 891.61,1977.75 891.92,1977.53 892.23,1977.74 892.54,1977.55 892.85,1978.23 893.16,1977.81 893.47,1977.27 893.78,1977.19 894.1,1978.14 894.41,1977.71 894.72,1978.39 895.03,1978.04 895.34,1978.43 895.65,1977.21 895.96,1977.7 896.27,1978.43 896.58,1977.32 896.89,1978.21 897.2,1977.88 897.51,1978.36 897.82,1977.78 898.14,1977.61 898.45,1978.29 898.76,1978.44 899.07,1977.45 899.38,1978.08 899.69,1977.64 900,1978.19 900.31,1978.18 900.62,1977.7 900.93,1977.44 901.24,1978.04 901.55,1978.03 901.86,1978.39 902.18,1978.02 902.49,1978.44 902.8,1978.16 903.11,1978.44 903.42,1978.44 903.73,1977.54 904.04,1977.98 904.35,1978.26 904.66,1978 904.97,1978.24 905.28,1978.44 905.59,1977.79 905.9,1977.87 906.22,1977.8 906.53,1978.44 906.84,1978.44 907.15,1977.84 907.46,1978.44 907.77,1977.66 908.08,1978.22 908.39,1978.23 908.7,1978.3 909.01,1977.94 909.32,1977.79 909.63,1978.13 909.94,1978.44 910.25,1978.14 910.57,1978.36 910.88,1978.38 911.19,1978.44 911.5,1977.88 911.81,1978.44 912.12,1978.44 912.43,1977.88 912.74,1978.44 913.05,1977.67 913.36,1978.01 913.67,1978.19 913.98,1978.28 914.29,1977.72 914.61,1978.07 914.92,1977.81 915.23,1978.44 915.54,1978.04 915.85,1978.4 916.16,1978.19 916.47,1978.44 916.78,1977.62 917.09,1978.34 917.4,1977.95 917.71,1978.11 918.02,1978.44 918.33,1978.44 918.65,1978.16 918.96,1978.27 919.27,1978.44 919.58,1978.42 919.89,1978.44 920.2,1978.44 920.51,1978.44 920.82,1978.41 921.13,1978.42" fill="none" stroke="#b5252a" stroke-width="2.7" stroke-linejoin="miter"/>
<polyline points="513.42,1978.44 513.74,1978.44 514.05,1978.44 514.36,1978.44 514.67,1978.44 514.98,1978.44 515.29,1978.44 515.6,1978.42 515.91,1978.28 516.22,1978.24 516.53,1978.18 516.84,1978.44 517.15,1978.44 517.46,1978.44 517.78,1978.44 518.09,1978.44 518.4,1978.44 518.71,1978.43 519.02,1977.99 519.33,1978.44 519.64,1978.31 519.95,1978.44 520.26,1978.35 520.57,1978.44 520.88,1978.44 521.19,1978.44 521.5,1978.13 521.81,1978.44 522.13,1978.18 522.44,1978.44 522.75,1978.01 523.06,1978.38 523.37,1978.44 523.68,1978.17 523.99,1978.43 524.3,1978.44 524.61,1978.44 524.92,1978.26 525.23,1978.44 525.54,1978.44 525.85,1977.98 526.17,1978.15 526.48,1978.44 526.79,1978.2 527.1,1978 527.41,1978.44 527.72,1978.44 528.03,1978.44 528.34,1978.44 528.65,1978.44 528.96,1978.13 529.27,1977.68 529.58,1978.44 529.89,1978.05 530.21,1978.38 530.52,1978.44 530.83,1977.99 531.14,1978.26 531.45,1978.44 531.76,1978.44 532.07,1977.87 532.38,1978.29 532.69,1978.35 533,1978.44 533.31,1978.44 533.62,1978.32 533.93,1978.27 534.24,1978.44 534.56,1977.89 534.87,1978.44 535.18,1978.44 535.49,1978.17 535.8,1978.15 536.11,1978.4 536.42,1977.86 536.73,1977.58 537.04,1978.44 537.35,1978.44 537.66,1978.26 537.97,1978.32 538.28,1978.3 538.6,1977.99 538.91,1978.43 539.22,1978.44 539.53,1978.3 539.84,1978.44 540.15,1977.95 540.46,1978.37 540.77,1978.03 541.08,1978.11 541.39,1978.36 541.7,1978.32 542.01,1978.44 542.32,1978.44 542.64,1977.86 542.95,1978.44 543.26,1977.72 543.57,1978.22 543.88,1978.35 544.19,1978.21 544.5,1978.41 544.81,1978.24 545.12,1977.89 545.43,1978.44 545.74,1978.2 546.05,1977.9 546.36,1978.24 546.67,1978.2 546.99,1978.33 547.3,1978 547.61,1978.26 547.92,1978.14 548.23,1978.44 548.54,1978.07 548.85,1978.44 549.16,1978.16 549.47,1978.44 549.78,1978.44 550.09,1978.04 550.4,1978.23 550.71,1977.85 551.03,1977.92 551.34,1977.97 551.65,1978.2 551.96,1978.44 552.27,1978.44 552.58,1977.98 552.89,1978.21 553.2,1977.61 553.51,1978.36 553.82,1978.06 554.13,1977.74 554.44,1977.87 554.75,1978.35 555.07,1978.17 555.38,1978.37 555.69,1977.96 556,1978.18 556.31,1978.03 556.62,1977.54 556.93,1978.05 557.24,1978.06 557.55,1977.84 557.86,1978.41 558.17,1978.44 558.48,1978.44 558.79,1978.11 559.11,1977.64 559.42,1978.01 559.73,1977.84 560.04,1978.14 560.35,1978.44 560.66,1978.05 560.97,1977.51 561.28,1978.44 561.59,1978.08 561.9,1978.44 562.21,1977.7 562.52,1978.44 562.83,1977.55 563.14,1978.09 563.46,1978.37 563.77,1976.98 564.08,1977.7 564.39,1977.36 564.7,1978.44 565.01,1978.3 565.32,1977.61 565.63,1977.27 565.94,1977.27 566.25,1978.06 566.56,1977.65 566.87,1978.14 567.18,1977.75 567.5,1977.24 567.81,1978.44 568.12,1978.17 568.43,1977.65 568.74,1977.8 569.05,1978.44 569.36,1978.29 569.67,1977.38 569.98,1978.44 570.29,1977.64 570.6,1978.16 570.91,1977.36 571.22,1977.59 571.54,1978.24 571.85,1977.33 572.16,1977.9 572.47,1978.05 572.78,1977.55 573.09,1978.44 573.4,1978.15 573.71,1977.76 574.02,1978.3 574.33,1978.44 574.64,1978.41 574.95,1977.82 575.26,1978.27 575.57,1978.13 575.89,1977.55 576.2,1977.91 576.51,1978.44 576.82,1977.82 577.13,1978.32 577.44,1978.44 577.75,1977.96 578.06,1978.05 578.37,1977.65 578.68,1978.09 578.99,1977.08 579.3,1977.74 579.61,1976.78 579.93,1977.31 580.24,1975.78 580.55,1976 580.86,1977.25 581.17,1976.79 581.48,1973.52 581.79,1977.02 582.1,1974.39 582.41,1975.53 582.72,1975.06 583.03,1972.74 583.34,1971.31 583.65,1967.37 583.97,1970 584.28,1971.48 584.59,1962.43 584.9,1966.63 585.21,1963.54 585.52,1962.03 585.83,1951.9 586.14,1952.59 586.45,1951.03 586.76,1954.31 587.07,1938.78 587.38,1936.77 587.69,1931.24 588,1935.43 588.32,1917.01 588.63,1919.93 588.94,1908.04 589.25,1908.9 589.56,1911.11 589.87,1897.42 590.18,1901.24 590.49,1888.34 590.8,1886.94 591.11,1881.71 591.42,1871.58 591.73,1877.5 592.04,1875.25 592.36,1859.42 592.67,1867.85 592.98,1859.39 593.29,1851.37 593.6,1852.98 593.91,1855.54 594.22,1851.69 594.53,1855.54 594.84,1841.91 595.15,1839.43 595.46,1822.07 595.77,1830.09 596.08,1840.21 596.4,1824.44 596.71,1826.48 597.02,1852.63 597.33,1835.85 597.64,1827.45 597.95,1819.36 598.26,1832.03 598.57,1862.13 598.88,1842.24 599.19,1849.02 599.5,1850.66 599.81,1841.5 600.12,1850.12 600.44,1848.67 600.75,1846.65 601.06,1859.78 601.37,1845.02 601.68,1847.19 601.99,1849.61 602.3,1867.17 602.61,1854.27 602.92,1875.26 603.23,1850.66 603.54,1855.5 603.85,1844.19 604.16,1860.58 604.47,1871.21 604.79,1878.64 605.1,1867.95 605.41,1874.27 605.72,1891.66 606.03,1879.52 606.34,1886.23 606.65,1892.2 606.96,1882.2 607.27,1899.87 607.58,1891.11 607.89,1899.5 608.2,1893.22 608.51,1898.44 608.83,1906.15 609.14,1900.3 609.45,1887.3 609.76,1898.81 610.07,1899.01 610.38,1901.2 610.69,1904.5 611,1893.1 611.31,1916.35 611.62,1899.68 611.93,1914.46 612.24,1904.08 612.55,1904.71 612.87,1906.66 613.18,1905.61 613.49,1911.77 613.8,1916.42 614.11,1920.4 614.42,1920.86 614.73,1900.9 615.04,1913.08 615.35,1911.94 615.66,1908.17 615.97,1910.5 616.28,1908.43 616.59,1900.55 616.9,1902.15 617.22,1913.43 617.53,1906.26 617.84,1915.17 618.15,1902.37 618.46,1900.72 618.77,1904.42 619.08,1903.35 619.39,1907.95 619.7,1896.38 620.01,1904.02 620.32,1899.32 620.63,1888.83 620.94,1892.06 621.26,1890.22 621.57,1897.17 621.88,1897.18 622.19,1891.67 622.5,1881.23 622.81,1889.37 623.12,1884.09 623.43,1877.42 623.74,1886.7 624.05,1874.35 624.36,1877.14 624.67,1870.79 624.98,1867.52 625.3,1880.38 625.61,1864.85 625.92,1871.68 626.23,1873.5 626.54,1879.76 626.85,1870.68 627.16,1881.33 627.47,1869.35 627.78,1869.62 628.09,1869.45 628.4,1872.32 628.71,1870.9 629.02,1866.08 629.33,1871.84 629.65,1871.76 629.96,1887.16 630.27,1871.83 630.58,1883.35 630.89,1875.03 631.2,1889.61 631.51,1883.54 631.82,1881.82 632.13,1896.13 632.44,1900.26 632.75,1902.09 633.06,1899.64 633.37,1894.95 633.69,1891.41 634,1894.35 634.31,1895.27 634.62,1903.88 634.93,1898.84 635.24,1904.5 635.55,1905.58 635.86,1904.71 636.17,1902.4 636.48,1901.03 636.79,1925.42 637.1,1909.51 637.41,1901.36 637.73,1904.92 638.04,1910.05 638.35,1926.59 638.66,1917.49 638.97,1912.46 639.28,1929.71 639.59,1909.78 639.9,1928.82 640.21,1939.77 640.52,1925.21 640.83,1932.08 641.14,1931.72 641.45,1913.59 641.77,1932.55 642.08,1928.96 642.39,1918.88 642.7,1939.03 643.01,1932.73 643.32,1938.55 643.63,1940.22 643.94,1936.09 644.25,1928.75 644.56,1939.02 644.87,1938.56 645.18,1937.74 645.49,1940.4 645.8,1945.02 646.12,1952.86 646.43,1947.19 646.74,1948.63 647.05,1952.96 647.36,1951.03 647.67,1948.79 647.98,1947.66 648.29,1946.07 648.6,1955.45 648.91,1951.88 649.22,1957.65 649.53,1950.2 649.84,1951.55 650.16,1955.97 650.47,1960.59 650.78,1954.7 651.09,1953.61 651.4,1958.27 651.71,1951.82 652.02,1961.47 652.33,1953.05 652.64,1952.49 652.95,1958.73 653.26,1956.94 653.57,1963.95 653.88,1962.46 654.2,1961.62 654.51,1953.61 654.82,1960.55 655.13,1958.34 655.44,1955.24 655.75,1967.34 656.06,1956.26 656.37,1959.39 656.68,1960 656.99,1961.02 657.3,1963.67 657.61,1964.66 657.92,1960.26 658.23,1965.15 658.55,1966.03 658.86,1965.39 659.17,1968.9 659.48,1963.77 659.79,1964.45 660.1,1964.46 660.41,1963.07 660.72,1965.9 661.03,1968.9 661.34,1967.91 661.65,1966.86 661.96,1967.4 662.27,1970.27 662.59,1970.18 662.9,1963.9 663.21,1965.26 663.52,1970.32 663.83,1969.92 664.14,1969.98 664.45,1970.62 664.76,1966.84 665.07,1966.8 665.38,1970.14 665.69,1967.15 666,1969.74 666.31,1973.31 666.63,1966.49 666.94,1970.7 667.25,1972.66 667.56,1972.15 667.87,1969.1 668.18,1968.26 668.49,1969.97 668.8,1967.7 669.11,1970.23 669.42,1969.35 669.73,1969.45 670.04,1971.4 670.35,1969.97 670.67,1968.86 670.98,1969.6 671.29,1969.45 671.6,1969.38 671.91,1968.96 672.22,1971.31 672.53,1968.98 672.84,1971.63 673.15,1970.81 673.46,1971.37 673.77,1970.28 674.08,1967.05 674.39,1973.84 674.7,1968.55 675.02,1967.27 675.33,1969.55 675.64,1969.49 675.95,1965.27 676.26,1966.35 676.57,1968.27 676.88,1968.09 677.19,1966.7 677.5,1966.83 677.81,1968.61 678.12,1966.53 678.43,1969.26 678.74,1968.86 679.06,1967.28 679.37,1971.67 679.68,1971.31 679.99,1965.01 680.3,1967.85 680.61,1970.86 680.92,1966.16 681.23,1963.07 681.54,1965.58 681.85,1965.95 682.16,1965.86 682.47,1967.91 682.78,1968.45 683.1,1968.41 683.41,1962.58 683.72,1965.3 684.03,1969.03 684.34,1965.46 684.65,1963.9 684.96,1965.79 685.27,1971.46 685.58,1962.91 685.89,1965.09 686.2,1965.22 686.51,1963.71 686.82,1965.49 687.13,1964.37 687.45,1962.41 687.76,1964.6 688.07,1964.15 688.38,1963.96 688.69,1965.82 689,1966.28 689.31,1966.28 689.62,1966.17 689.93,1961.66 690.24,1965.14 690.55,1963.99 690.86,1961.98 691.17,1964.62 691.49,1963.82 691.8,1963.6 692.11,1965.37 692.42,1960.74 692.73,1963.74 693.04,1961.49 693.35,1962.47 693.66,1962.21 693.97,1965.57 694.28,1965.11 694.59,1964.74 694.9,1959.97 695.21,1963.77 695.53,1967.75 695.84,1966.52 696.15,1964.69 696.46,1963.44 696.77,1960.7 697.08,1963.87 697.39,1958.64 697.7,1962.36 698.01,1958.66 698.32,1959.94 698.63,1958.44 698.94,1963.48 699.25,1961.28 699.56,1963.29 699.88,1964.14 700.19,1963.26 700.5,1960.12 700.81,1963.12 701.12,1958.13 701.43,1960.53 701.74,1963.62 702.05,1961.23 702.36,1962.15 702.67,1961.91 702.98,1968.66 703.29,1956.18 703.6,1958.15 703.92,1965.85 704.23,1957.71 704.54,1961.48 704.85,1966.17 705.16,1955.71 705.47,1960.76 705.78,1963.48 706.09,1964.96 706.4,1959.15 706.71,1963.04 707.02,1959.86 707.33,1962.19 707.64,1959.51 707.96,1962.57 708.27,1963.03 708.58,1963.72 708.89,1959.39 709.2,1958.25 709.51,1961.66 709.82,1963.76 710.13,1962.15 710.44,1957.52 710.75,1960.48 711.06,1960.01 711.37,1957.45 711.68,1967.46 712,1959.22 712.31,1958.73 712.62,1959.29 712.93,1955.59 713.24,1958.17 713.55,1957.73 713.86,1956.87 714.17,1957.9 714.48,1948.23 714.79,1959.28 715.1,1958.56 715.41,1956.12 715.72,1955.92 716.03,1951.52 716.35,1956.97 716.66,1959.8 716.97,1959.34 717.28,1958.79 717.59,1957.43 717.9,1963.11 718.21,1963.75 718.52,1954.14 718.83,1964.28 719.14,1960.3 719.45,1953.7 719.76,1957.62 720.07,1959.61 720.39,1965.46 720.7,1957.28 721.01,1961.94 721.32,1956.11 721.63,1957.18 721.94,1962.97 722.25,1955.98 722.56,1959.07 722.87,1960.64 723.18,1960.18 723.49,1959.41 723.8,1959.93 724.11,1965.86 724.43,1956.31 724.74,1960.68 725.05,1954.51 725.36,1957.46 725.67,1955.05 725.98,1949.99 726.29,1950.28 726.6,1959.68 726.91,1946.56 727.22,1954.66 727.53,1954.49 727.84,1959.54 728.15,1956.95 728.46,1958.64 728.78,1952.43 729.09,1951.57 729.4,1951.56 729.71,1955.57 730.02,1958.02 730.33,1959.8 730.64,1952.59 730.95,1961.48 731.26,1956.68 731.57,1954.46 731.88,1949.25 732.19,1957.46 732.5,1957.54 732.82,1954.3 733.13,1949.58 733.44,1949.35 733.75,1963.18 734.06,1952.26 734.37,1962.36 734.68,1957.43 734.99,1957.73 735.3,1960.35 735.61,1954.06 735.92,1954.59 736.23,1946.13 736.54,1950.64 736.86,1950.43 737.17,1956 737.48,1949.44 737.79,1959.99 738.1,1951.78 738.41,1956.63 738.72,1953.31 739.03,1954.65 739.34,1951.77 739.65,1958.15 739.96,1953.34 740.27,1948.87 740.58,1942.12 740.89,1957.95 741.21,1951.09 741.52,1950.74 741.83,1947.47 742.14,1955.66 742.45,1946.91 742.76,1955.71 743.07,1955.79 743.38,1955.04 743.69,1952.58 744,1946.72 744.31,1959.14 744.62,1951.8 744.93,1954.86 745.25,1948.25 745.56,1949.59 745.87,1947.24 746.18,1951.44 746.49,1948.99 746.8,1942.9 747.11,1942.75 747.42,1945.75 747.73,1942.84 748.04,1950.03 748.35,1952.95 748.66,1951.7 748.97,1945.34 749.29,1957.03 749.6,1944.84 749.91,1948.87 750.22,1943.41 750.53,1939.35 750.84,1952.13 751.15,1941.49 751.46,1944.22 751.77,1941.27 752.08,1943.88 752.39,1946.07 752.7,1946.17 753.01,1950.51 753.33,1944.6 753.64,1951.52 753.95,1949.05 754.26,1944.36 754.57,1944.02 754.88,1948.69 755.19,1944.82 755.5,1946.4 755.81,1939.78 756.12,1939.78 756.43,1949.33 756.74,1943.38 757.05,1948.98 757.36,1951.64 757.68,1945.23 757.99,1942.04 758.3,1951.05 758.61,1947.16 758.92,1940.47 759.23,1948.11 759.54,1935.45 759.85,1940.24 760.16,1946.32 760.47,1946.18 760.78,1950.35 761.09,1944.81 761.4,1951.1 761.72,1947.29 762.03,1938.48 762.34,1939.05 762.65,1941.39 762.96,1951.63 763.27,1946.72 763.58,1945.96 763.89,1945.02 764.2,1935.44 764.51,1943.52 764.82,1941.84 765.13,1939.23 765.44,1948.3 765.76,1948.36 766.07,1949.47 766.38,1944.91 766.69,1935.87 767,1944.71 767.31,1934.8 767.62,1942.06 767.93,1943.4 768.24,1944.2 768.55,1939.61 768.86,1943.6 769.17,1938.08 769.48,1935.83 769.79,1934.01 770.11,1935.77 770.42,1933.61 770.73,1941.77 771.04,1934.54 771.35,1936.35 771.66,1942.04 771.97,1940.56 772.28,1938.4 772.59,1935.78 772.9,1930.78 773.21,1932.2 773.52,1936.7 773.83,1940.04 774.15,1925.56 774.46,1934.56 774.77,1934.77 775.08,1924.95 775.39,1938.77 775.7,1931.76 776.01,1930.65 776.32,1942.03 776.63,1939.91 776.94,1939.35 777.25,1936.22 777.56,1929.77 777.87,1930.4 778.19,1922.23 778.5,1935.58 778.81,1933.65 779.12,1931.28 779.43,1935.13 779.74,1931.62 780.05,1942.27 780.36,1934.15 780.67,1934.57 780.98,1932.31 781.29,1933.31 781.6,1924.54 781.91,1929.23 782.22,1930.71 782.54,1929.18 782.85,1932.9 783.16,1931.32 783.47,1922.85 783.78,1923.31 784.09,1925.71 784.4,1916.16 784.71,1933.54 785.02,1932.8 785.33,1931.7 785.64,1923.41 785.95,1930.79 786.26,1924.11 786.58,1919.62 786.89,1917.92 787.2,1924.64 787.51,1921.64 787.82,1923.78 788.13,1918.87 788.44,1926.46 788.75,1918.47 789.06,1924.61 789.37,1912.93 789.68,1924.7 789.99,1923.41 790.3,1922.05 790.62,1913.16 790.93,1918.67 791.24,1920.49 791.55,1918.24 791.86,1927.47 792.17,1919.51 792.48,1920.18 792.79,1925.16 793.1,1917.29 793.41,1920.13 793.72,1912.43 794.03,1914.99 794.34,1904.4 794.66,1917.26 794.97,1904.74 795.28,1919.18 795.59,1914.16 795.9,1918.59 796.21,1910.23 796.52,1917.11 796.83,1913.31 797.14,1910.27 797.45,1912.31 797.76,1908.33 798.07,1908.64 798.38,1914.33 798.69,1913.68 799.01,1913.91 799.32,1913.69 799.63,1910.16 799.94,1916.32 800.25,1906.38 800.56,1912.2 800.87,1906.08 801.18,1899.95 801.49,1903.04 801.8,1904.45 802.11,1915.53 802.42,1912.24 802.73,1902.34 803.05,1914.63 803.36,1906.93 803.67,1906.23 803.98,1897.16 804.29,1907.15 804.6,1898.03 804.91,1896 805.22,1904.42 805.53,1903.9 805.84,1902.65 806.15,1891.39 806.46,1889.17 806.77,1905.49 807.09,1912.5 807.4,1894.97 807.71,1904.05 808.02,1897.84 808.33,1896.61 808.64,1882.82 808.95,1888.39 809.26,1891.97 809.57,1890.92 809.88,1891.07 810.19,1889.15 810.5,1879.92 810.81,1893.17 811.12,1885.38 811.44,1893.57 811.75,1886.12 812.06,1893.42 812.37,1898.95 812.68,1887.57 812.99,1881.91 813.3,1887.83 813.61,1883.21 813.92,1885.22 814.23,1872.6 814.54,1883.45 814.85,1874.81 815.16,1874.24 815.48,1883.46 815.79,1877.93 816.1,1880.61 816.41,1885.8 816.72,1869.78 817.03,1877.87 817.34,1871.84 817.65,1862.75 817.96,1859.75 818.27,1864.69 818.58,1859.76 818.89,1871.39 819.2,1870.03 819.52,1863.04 819.83,1850.3 820.14,1861.84 820.45,1857.36 820.76,1850.99 821.07,1857.25 821.38,1854.13 821.69,1843.95 822,1838.98 822.31,1850.67 822.62,1840.89 822.93,1843.92 823.24,1844.8 823.56,1845.1 823.87,1822.37 824.18,1815.44 824.49,1817.05 824.8,1828.17 825.11,1816.44 825.42,1803.08 825.73,1806.85 826.04,1784.28 826.35,1814.2 826.66,1791.69 826.97,1799.38 827.28,1766.91 827.59,1794.86 827.91,1793.58 828.22,1781.14 828.53,1787.28 828.84,1768.86 829.15,1761.43 829.46,1770.47 829.77,1754.64 830.08,1746.48 830.39,1764.41 830.7,1737.15 831.01,1743.75 831.32,1729.18 831.63,1738.67 831.95,1724.57 832.26,1704 832.57,1717.34 832.88,1707.51 833.19,1703.34 833.5,1708.24 833.81,1694.67 834.12,1696.22 834.43,1696.03 834.74,1680.56 835.05,1688.04 835.36,1676.74 835.67,1664.07 835.99,1681.71 836.3,1678.73 836.61,1674.4 836.92,1649.76 837.23,1680.38 837.54,1671.59 837.85,1648.87 838.16,1667.69 838.47,1669.23 838.78,1664.69 839.09,1668.1 839.4,1657.45 839.71,1693.8 840.02,1680.19 840.34,1694.45 840.65,1715.5 840.96,1734.22 841.27,1704.93 841.58,1701.76 841.89,1710.18 842.2,1727.91 842.51,1724.16 842.82,1718.82 843.13,1721.31 843.44,1728.1 843.75,1745.15 844.06,1742.74 844.38,1772.56 844.69,1775.03 845,1793.54 845.31,1788.1 845.62,1795.07 845.93,1803.01 846.24,1808.83 846.55,1824.44 846.86,1815.81 847.17,1837.13 847.48,1818.41 847.79,1844.27 848.1,1842.83 848.42,1854.01 848.73,1860.77 849.04,1879.31 849.35,1866.44 849.66,1866.27 849.97,1878.55 850.28,1878.01 850.59,1893.25 850.9,1889.43 851.21,1903.72 851.52,1914.81 851.83,1914.38 852.14,1928.02 852.45,1929.43 852.77,1926.75 853.08,1937.26 853.39,1950.11 853.7,1943.59 854.01,1947.77 854.32,1954.64 854.63,1961.78 854.94,1955.92 855.25,1965.35 855.56,1963.91 855.87,1967.31 856.18,1971.07 856.49,1967.34 856.81,1970.83 857.12,1974.5 857.43,1975.51 857.74,1972.52 858.05,1973.79 858.36,1974.14 858.67,1974.61 858.98,1975.73 859.29,1974.44 859.6,1975.75 859.91,1976.12 860.22,1974.58 860.53,1975.83 860.85,1976.36 861.16,1978.21 861.47,1975.63 861.78,1975.8 862.09,1977.09 862.4,1976.29 862.71,1976.24 863.02,1975.81 863.33,1976.02 863.64,1977.31 863.95,1976.96 864.26,1976.62 864.57,1976.59 864.89,1976.96 865.2,1976.66 865.51,1977.05 865.82,1977.28 866.13,1976.09 866.44,1978.04 866.75,1976.83 867.06,1976.62 867.37,1977.84 867.68,1977.52 867.99,1977.75 868.3,1978.44 868.61,1978.21 868.92,1977.05 869.24,1976.91 869.55,1976.75 869.86,1977.19 870.17,1978 870.48,1976.81 870.79,1977.15 871.1,1976.62 871.41,1977.82 871.72,1977.99 872.03,1977.72 872.34,1976.98 872.65,1977.9 872.96,1977.44 873.28,1978.14 873.59,1977.52 873.9,1977.18 874.21,1977.48 874.52,1977.72 874.83,1977.14 875.14,1977.16 875.45,1977.57 875.76,1976.76 876.07,1977.36 876.38,1977.44 876.69,1977.39 877,1977.65 877.32,1977.74 877.63,1977.14 877.94,1978.41 878.25,1978.02 878.56,1976.8 878.87,1977.4 879.18,1977.48 879.49,1977.39 879.8,1978.16 880.11,1977.5 880.42,1977.04 880.73,1977.13 881.04,1977.71 881.35,1977.03 881.67,1977.5 881.98,1976.82 882.29,1978.44 882.6,1977.02 882.91,1977.14 883.22,1978.14 883.53,1976.97 883.84,1977.59 884.15,1978.44 884.46,1977.19 884.77,1977.24 885.08,1977.38 885.39,1976.76 885.71,1977.57 886.02,1978.08 886.33,1977.47 886.64,1977.64 886.95,1977.77 887.26,1977.38 887.57,1977.39 887.88,1978.44 888.19,1978.01 888.5,1977.48 888.81,1978.25 889.12,1978.24 889.43,1977.37 889.75,1977.43 890.06,1978.33 890.37,1978.44 890.68,1978.44 890.99,1978.32 891.3,1977.8 891.61,1978.13 891.92,1977.56 892.23,1977.91 892.54,1977.81 892.85,1977.49 893.16,1977.74 893.47,1978.22 893.78,1977.85 894.1,1977.69 894.41,1977.79 894.72,1977.45 895.03,1977.14 895.34,1976.84 895.65,1977.88 895.96,1977.94 896.27,1977.63 896.58,1978.44 896.89,1977.9 897.2,1978.25 897.51,1978.44 897.82,1977.76 898.14,1978.17 898.45,1977.79 898.76,1977.74 899.07,1977.51 899.38,1977.64 899.69,1977.09 900,1977.61 900.31,1977.45 900.62,1977.5 900.93,1977.35 901.24,1978.26 901.55,1978.44 901.86,1978.44 902.18,1978.44 902.49,1977.81 902.8,1978.07 903.11,1978.44 903.42,1977.99 903.73,1978.33 904.04,1978.12 904.35,1978.44 904.66,1978.11 904.97,1978 905.28,1977.87 905.59,1977.48 905.9,1977.55 906.22,1976.91 906.53,1977.57 906.84,1977.62 907.15,1978.44 907.46,1977.68 907.77,1977.9 908.08,1977.94 908.39,1978.17 908.7,1978 909.01,1977.69 909.32,1977.38 909.63,1977.61 909.94,1977.97 910.25,1978.44 910.57,1977.81 910.88,1977.61 911.19,1978.1 911.5,1977.59 911.81,1978.12 912.12,1978.16 912.43,1978.42 912.74,1978.44 913.05,1977.8 913.36,1978.02 913.67,1978.09 913.98,1978.02 914.29,1977.66 914.61,1977.8 914.92,1978.44 915.23,1977.71 915.54,1978.21 915.85,1977.83 916.16,1977.39 916.47,1977.94 916.78,1977.63 917.09,1978.44 917.4,1977.77 917.71,1978.26 918.02,1978 918.33,1978.44 918.65,1978.2 918.96,1978.09 919.27,1978.13 919.58,1978.24 919.89,1978.32 920.2,1978.44 920.51,1977.59 920.82,1977.91 921.13,1978.44" fill="none" stroke="#000" stroke-width="3" stroke-linejoin="miter"/>
</g>
<line x1="513.4" y1="1640.3" x2="921.1" y2="1640.3" stroke="#000" stroke-width="2"/>
<line x1="921.1" y1="1640.3" x2="921.1" y2="1978.4" stroke="#000" stroke-width="2"/>
<line x1="513.4" y1="1639.3" x2="513.4" y2="1979.9" stroke="#000" stroke-width="3"/>
<line x1="510.4" y1="1978.4" x2="922.1" y2="1978.4" stroke="#000" stroke-width="3"/>
<line x1="508.4" y1="1681.7" x2="513.4" y2="1681.7" stroke="#000" stroke-width="1.6"/>
<text x="503.4" y="1690.2" font-size="24" text-anchor="end" font-weight="normal" fill="#000" stroke="#000" stroke-width="0.3">0.7</text>
<line x1="508.4" y1="1724.2" x2="513.4" y2="1724.2" stroke="#000" stroke-width="1.6"/>
<text x="503.4" y="1732.7" font-size="24" text-anchor="end" font-weight="normal" fill="#000" stroke="#000" stroke-width="0.3">0.6</text>
<line x1="508.4" y1="1766.5" x2="513.4" y2="1766.5" stroke="#000" stroke-width="1.6"/>
<text x="503.4" y="1775" font-size="24" text-anchor="end" font-weight="normal" fill="#000" stroke="#000" stroke-width="0.3">0.5</text>
<line x1="508.4" y1="1809.1" x2="513.4" y2="1809.1" stroke="#000" stroke-width="1.6"/>
<text x="503.4" y="1817.6" font-size="24" text-anchor="end" font-weight="normal" fill="#000" stroke="#000" stroke-width="0.3">0.4</text>
<line x1="508.4" y1="1851" x2="513.4" y2="1851" stroke="#000" stroke-width="1.6"/>
<text x="503.4" y="1859.5" font-size="24" text-anchor="end" font-weight="normal" fill="#000" stroke="#000" stroke-width="0.3">0.3</text>
<line x1="508.4" y1="1893.6" x2="513.4" y2="1893.6" stroke="#000" stroke-width="1.6"/>
<text x="503.4" y="1902.1" font-size="24" text-anchor="end" font-weight="normal" fill="#000" stroke="#000" stroke-width="0.3">0.2</text>
<line x1="508.4" y1="1935.9" x2="513.4" y2="1935.9" stroke="#000" stroke-width="1.6"/>
<text x="503.4" y="1944.4" font-size="24" text-anchor="end" font-weight="normal" fill="#000" stroke="#000" stroke-width="0.3">0.1</text>
<line x1="509.9" y1="1978.4" x2="513.4" y2="1978.4" stroke="#000" stroke-width="0.8"/>
<line x1="509.9" y1="1974.15" x2="513.4" y2="1974.15" stroke="#000" stroke-width="0.8"/>
<line x1="509.9" y1="1969.9" x2="513.4" y2="1969.9" stroke="#000" stroke-width="0.8"/>
<line x1="509.9" y1="1965.65" x2="513.4" y2="1965.65" stroke="#000" stroke-width="0.8"/>
<line x1="509.9" y1="1961.4" x2="513.4" y2="1961.4" stroke="#000" stroke-width="0.8"/>
<line x1="509.9" y1="1957.15" x2="513.4" y2="1957.15" stroke="#000" stroke-width="0.8"/>
<line x1="509.9" y1="1952.9" x2="513.4" y2="1952.9" stroke="#000" stroke-width="0.8"/>
<line x1="509.9" y1="1948.65" x2="513.4" y2="1948.65" stroke="#000" stroke-width="0.8"/>
<line x1="509.9" y1="1944.4" x2="513.4" y2="1944.4" stroke="#000" stroke-width="0.8"/>
<line x1="509.9" y1="1940.15" x2="513.4" y2="1940.15" stroke="#000" stroke-width="0.8"/>
<line x1="509.9" y1="1935.9" x2="513.4" y2="1935.9" stroke="#000" stroke-width="0.8"/>
<line x1="509.9" y1="1931.65" x2="513.4" y2="1931.65" stroke="#000" stroke-width="0.8"/>
<line x1="509.9" y1="1927.4" x2="513.4" y2="1927.4" stroke="#000" stroke-width="0.8"/>
<line x1="509.9" y1="1923.15" x2="513.4" y2="1923.15" stroke="#000" stroke-width="0.8"/>
<line x1="509.9" y1="1918.9" x2="513.4" y2="1918.9" stroke="#000" stroke-width="0.8"/>
<line x1="509.9" y1="1914.65" x2="513.4" y2="1914.65" stroke="#000" stroke-width="0.8"/>
<line x1="509.9" y1="1910.4" x2="513.4" y2="1910.4" stroke="#000" stroke-width="0.8"/>
<line x1="509.9" y1="1906.15" x2="513.4" y2="1906.15" stroke="#000" stroke-width="0.8"/>
<line x1="509.9" y1="1901.9" x2="513.4" y2="1901.9" stroke="#000" stroke-width="0.8"/>
<line x1="509.9" y1="1897.65" x2="513.4" y2="1897.65" stroke="#000" stroke-width="0.8"/>
<line x1="509.9" y1="1893.4" x2="513.4" y2="1893.4" stroke="#000" stroke-width="0.8"/>
<line x1="509.9" y1="1889.15" x2="513.4" y2="1889.15" stroke="#000" stroke-width="0.8"/>
<line x1="509.9" y1="1884.9" x2="513.4" y2="1884.9" stroke="#000" stroke-width="0.8"/>
<line x1="509.9" y1="1880.65" x2="513.4" y2="1880.65" stroke="#000" stroke-width="0.8"/>
<line x1="509.9" y1="1876.4" x2="513.4" y2="1876.4" stroke="#000" stroke-width="0.8"/>
<line x1="509.9" y1="1872.15" x2="513.4" y2="1872.15" stroke="#000" stroke-width="0.8"/>
<line x1="509.9" y1="1867.9" x2="513.4" y2="1867.9" stroke="#000" stroke-width="0.8"/>
<line x1="509.9" y1="1863.65" x2="513.4" y2="1863.65" stroke="#000" stroke-width="0.8"/>
<line x1="509.9" y1="1859.4" x2="513.4" y2="1859.4" stroke="#000" stroke-width="0.8"/>
<line x1="509.9" y1="1855.15" x2="513.4" y2="1855.15" stroke="#000" stroke-width="0.8"/>
<line x1="509.9" y1="1850.9" x2="513.4" y2="1850.9" stroke="#000" stroke-width="0.8"/>
<line x1="509.9" y1="1846.65" x2="513.4" y2="1846.65" stroke="#000" stroke-width="0.8"/>
<line x1="509.9" y1="1842.4" x2="513.4" y2="1842.4" stroke="#000" stroke-width="0.8"/>
<line x1="509.9" y1="1838.15" x2="513.4" y2="1838.15" stroke="#000" stroke-width="0.8"/>
<line x1="509.9" y1="1833.9" x2="513.4" y2="1833.9" stroke="#000" stroke-width="0.8"/>
<line x1="509.9" y1="1829.65" x2="513.4" y2="1829.65" stroke="#000" stroke-width="0.8"/>
<line x1="509.9" y1="1825.4" x2="513.4" y2="1825.4" stroke="#000" stroke-width="0.8"/>
<line x1="509.9" y1="1821.15" x2="513.4" y2="1821.15" stroke="#000" stroke-width="0.8"/>
<line x1="509.9" y1="1816.9" x2="513.4" y2="1816.9" stroke="#000" stroke-width="0.8"/>
<line x1="509.9" y1="1812.65" x2="513.4" y2="1812.65" stroke="#000" stroke-width="0.8"/>
<line x1="509.9" y1="1808.4" x2="513.4" y2="1808.4" stroke="#000" stroke-width="0.8"/>
<line x1="509.9" y1="1804.15" x2="513.4" y2="1804.15" stroke="#000" stroke-width="0.8"/>
<line x1="509.9" y1="1799.9" x2="513.4" y2="1799.9" stroke="#000" stroke-width="0.8"/>
<line x1="509.9" y1="1795.65" x2="513.4" y2="1795.65" stroke="#000" stroke-width="0.8"/>
<line x1="509.9" y1="1791.4" x2="513.4" y2="1791.4" stroke="#000" stroke-width="0.8"/>
<line x1="509.9" y1="1787.15" x2="513.4" y2="1787.15" stroke="#000" stroke-width="0.8"/>
<line x1="509.9" y1="1782.9" x2="513.4" y2="1782.9" stroke="#000" stroke-width="0.8"/>
<line x1="509.9" y1="1778.65" x2="513.4" y2="1778.65" stroke="#000" stroke-width="0.8"/>
<line x1="509.9" y1="1774.4" x2="513.4" y2="1774.4" stroke="#000" stroke-width="0.8"/>
<line x1="509.9" y1="1770.15" x2="513.4" y2="1770.15" stroke="#000" stroke-width="0.8"/>
<line x1="509.9" y1="1765.9" x2="513.4" y2="1765.9" stroke="#000" stroke-width="0.8"/>
<line x1="509.9" y1="1761.65" x2="513.4" y2="1761.65" stroke="#000" stroke-width="0.8"/>
<line x1="509.9" y1="1757.4" x2="513.4" y2="1757.4" stroke="#000" stroke-width="0.8"/>
<line x1="509.9" y1="1753.15" x2="513.4" y2="1753.15" stroke="#000" stroke-width="0.8"/>
<line x1="509.9" y1="1748.9" x2="513.4" y2="1748.9" stroke="#000" stroke-width="0.8"/>
<line x1="509.9" y1="1744.65" x2="513.4" y2="1744.65" stroke="#000" stroke-width="0.8"/>
<line x1="509.9" y1="1740.4" x2="513.4" y2="1740.4" stroke="#000" stroke-width="0.8"/>
<line x1="509.9" y1="1736.15" x2="513.4" y2="1736.15" stroke="#000" stroke-width="0.8"/>
<line x1="509.9" y1="1731.9" x2="513.4" y2="1731.9" stroke="#000" stroke-width="0.8"/>
<line x1="509.9" y1="1727.65" x2="513.4" y2="1727.65" stroke="#000" stroke-width="0.8"/>
<line x1="509.9" y1="1723.4" x2="513.4" y2="1723.4" stroke="#000" stroke-width="0.8"/>
<line x1="509.9" y1="1719.15" x2="513.4" y2="1719.15" stroke="#000" stroke-width="0.8"/>
<line x1="509.9" y1="1714.9" x2="513.4" y2="1714.9" stroke="#000" stroke-width="0.8"/>
<line x1="509.9" y1="1710.65" x2="513.4" y2="1710.65" stroke="#000" stroke-width="0.8"/>
<line x1="509.9" y1="1706.4" x2="513.4" y2="1706.4" stroke="#000" stroke-width="0.8"/>
<line x1="509.9" y1="1702.15" x2="513.4" y2="1702.15" stroke="#000" stroke-width="0.8"/>
<line x1="509.9" y1="1697.9" x2="513.4" y2="1697.9" stroke="#000" stroke-width="0.8"/>
<line x1="509.9" y1="1693.65" x2="513.4" y2="1693.65" stroke="#000" stroke-width="0.8"/>
<line x1="509.9" y1="1689.4" x2="513.4" y2="1689.4" stroke="#000" stroke-width="0.8"/>
<line x1="509.9" y1="1685.15" x2="513.4" y2="1685.15" stroke="#000" stroke-width="0.8"/>
<line x1="509.9" y1="1680.9" x2="513.4" y2="1680.9" stroke="#000" stroke-width="0.8"/>
<line x1="509.9" y1="1676.65" x2="513.4" y2="1676.65" stroke="#000" stroke-width="0.8"/>
<line x1="509.9" y1="1672.4" x2="513.4" y2="1672.4" stroke="#000" stroke-width="0.8"/>
<line x1="509.9" y1="1668.15" x2="513.4" y2="1668.15" stroke="#000" stroke-width="0.8"/>
<line x1="509.9" y1="1663.9" x2="513.4" y2="1663.9" stroke="#000" stroke-width="0.8"/>
<line x1="509.9" y1="1659.65" x2="513.4" y2="1659.65" stroke="#000" stroke-width="0.8"/>
<line x1="509.9" y1="1655.4" x2="513.4" y2="1655.4" stroke="#000" stroke-width="0.8"/>
<line x1="509.9" y1="1651.15" x2="513.4" y2="1651.15" stroke="#000" stroke-width="0.8"/>
<line x1="509.9" y1="1646.9" x2="513.4" y2="1646.9" stroke="#000" stroke-width="0.8"/>
<line x1="509.9" y1="1642.65" x2="513.4" y2="1642.65" stroke="#000" stroke-width="0.8"/>
<line x1="614.4" y1="1978.4" x2="614.4" y2="1982.9" stroke="#000" stroke-width="1.6"/>
<text x="601.1" y="2015.4" font-size="20.5" stroke="#000" stroke-width="0.25" text-anchor="start" textLength="19.5" lengthAdjust="spacingAndGlyphs">10</text>
<text x="620.7" y="2005.4" font-size="15" text-anchor="start" font-weight="normal" fill="#000" stroke="#000" stroke-width="0.3">0</text>
<line x1="716.3" y1="1978.4" x2="716.3" y2="1982.9" stroke="#000" stroke-width="1.6"/>
<text x="703" y="2015.4" font-size="20.5" stroke="#000" stroke-width="0.25" text-anchor="start" textLength="19.5" lengthAdjust="spacingAndGlyphs">10</text>
<text x="722.6" y="2005.4" font-size="15" text-anchor="start" font-weight="normal" fill="#000" stroke="#000" stroke-width="0.3">1</text>
<line x1="818.6" y1="1978.4" x2="818.6" y2="1982.9" stroke="#000" stroke-width="1.6"/>
<text x="805.3" y="2015.4" font-size="20.5" stroke="#000" stroke-width="0.25" text-anchor="start" textLength="19.5" lengthAdjust="spacingAndGlyphs">10</text>
<text x="824.9" y="2005.4" font-size="15" text-anchor="start" font-weight="normal" fill="#000" stroke="#000" stroke-width="0.3">2</text>
<line x1="921.1" y1="1978.4" x2="921.1" y2="1982.9" stroke="#000" stroke-width="1.6"/>
<text x="907.8" y="2015.4" font-size="20.5" stroke="#000" stroke-width="0.25" text-anchor="start" textLength="19.5" lengthAdjust="spacingAndGlyphs">10</text>
<text x="927.4" y="2005.4" font-size="15" text-anchor="start" font-weight="normal" fill="#000" stroke="#000" stroke-width="0.3">3</text>
<text x="713.1" y="2053" font-size="31.5" text-anchor="middle" font-weight="normal" fill="#000" stroke="#000" stroke-width="0.3">EdU 488 (AU)</text>
<text x="443" y="1810" font-size="30" text-anchor="middle" font-weight="normal" fill="#000" stroke="#000" stroke-width="0.3" transform="rotate(-90 443 1810)">% Gated</text>
<rect x="645.5" y="1696.3" width="34.8" height="34" fill="#000" stroke="none" stroke-width="0"/>
<rect x="646.1" y="1754.4" width="33.6" height="33" fill="#b5252a" stroke="#3a0d0d" stroke-width="1.2"/>
<text x="695.8" y="1722.1" font-size="30" text-anchor="start" font-weight="normal" fill="#000" stroke="#000" stroke-width="0.3">shNT</text>
<text x="695.8" y="1778.6" font-size="30" text-anchor="start" font-weight="normal" fill="#000" stroke="#000" stroke-width="0.3">shN15</text>
<text x="1054.8" y="22.6" font-size="41.5" text-anchor="start" font-weight="bold" fill="#000" stroke="#000" stroke-width="0.3">e</text>
<rect x="1402.5" y="55.6" width="62.9" height="270.7" fill="#a0a1a3" stroke="#000" stroke-width="1.6"/>
<line x1="1385.6" y1="21.8" x2="1385.6" y2="339.1" stroke="#000" stroke-width="2"/>
<line x1="1385.6" y1="338.1" x2="1577.4" y2="338.1" stroke="#000" stroke-width="2"/>
<line x1="1372.6" y1="326.3" x2="1576.2" y2="326.3" stroke="#000" stroke-width="2"/>
<line x1="1372.6" y1="22.8" x2="1385.6" y2="22.8" stroke="#000" stroke-width="2"/>
<text x="1366" y="32" font-size="26" text-anchor="end" font-weight="normal" fill="#000" stroke="#000" stroke-width="0.3">50</text>
<line x1="1372.6" y1="83.3" x2="1385.6" y2="83.3" stroke="#000" stroke-width="2"/>
<text x="1366" y="92.5" font-size="26" text-anchor="end" font-weight="normal" fill="#000" stroke="#000" stroke-width="0.3">40</text>
<line x1="1372.6" y1="143.9" x2="1385.6" y2="143.9" stroke="#000" stroke-width="2"/>
<text x="1366" y="153.1" font-size="26" text-anchor="end" font-weight="normal" fill="#000" stroke="#000" stroke-width="0.3">30</text>
<line x1="1372.6" y1="204.7" x2="1385.6" y2="204.7" stroke="#000" stroke-width="2"/>
<text x="1366" y="213.9" font-size="26" text-anchor="end" font-weight="normal" fill="#000" stroke="#000" stroke-width="0.3">20</text>
<line x1="1372.6" y1="265.3" x2="1385.6" y2="265.3" stroke="#000" stroke-width="2"/>
<text x="1366" y="274.5" font-size="26" text-anchor="end" font-weight="normal" fill="#000" stroke="#000" stroke-width="0.3">10</text>
<text x="1366" y="335.5" font-size="26" text-anchor="end" font-weight="normal" fill="#000" stroke="#000" stroke-width="0.3">0</text>
<line x1="1433.2" y1="338.1" x2="1433.2" y2="351.5" stroke="#000" stroke-width="2"/>
<line x1="1528.8" y1="338.1" x2="1528.8" y2="351.5" stroke="#000" stroke-width="2"/>
<circle cx="1408.6" cy="46.2" r="6.6" fill="rgba(255,255,255,0.88)" stroke="#000" stroke-width="1.8"/>
<circle cx="1433.2" cy="45.1" r="6.6" fill="rgba(255,255,255,0.88)" stroke="#000" stroke-width="1.8"/>
<circle cx="1458.3" cy="57.5" r="6.6" fill="rgba(255,255,255,0.88)" stroke="#000" stroke-width="1.8"/>
<circle cx="1433.7" cy="69.3" r="6.6" fill="rgba(255,255,255,0.88)" stroke="#000" stroke-width="1.8"/>
<circle cx="1503.6" cy="326.3" r="6.6" fill="rgba(255,255,255,0.88)" stroke="#000" stroke-width="1.8"/>
<circle cx="1520.1" cy="328.7" r="6.6" fill="rgba(255,255,255,0.88)" stroke="#000" stroke-width="1.8"/>
<circle cx="1536.5" cy="327" r="6.6" fill="rgba(255,255,255,0.88)" stroke="#000" stroke-width="1.8"/>
<circle cx="1553.4" cy="326.3" r="6.6" fill="rgba(255,255,255,0.88)" stroke="#000" stroke-width="1.8"/>
<text x="1433.2" y="382.7" font-size="31" text-anchor="middle" font-weight="normal" fill="#000" stroke="#000" stroke-width="0.3">WT</text>
<text x="1525.4" y="382.7" font-size="32.3" text-anchor="middle" font-weight="normal" fill="#000" stroke="#000" stroke-width="0.3">E67A</text>
<text x="1528.8" y="427.3" font-size="31" text-anchor="middle" font-weight="normal" fill="#000" stroke="#000" stroke-width="0.3">(CD)</text>
<text x="1297.5" y="184.2" font-size="33" stroke="#000" stroke-width="0.3" text-anchor="middle" textLength="201" lengthAdjust="spacing" transform="rotate(-90 1297.5 184.2)">v/[E<tspan font-size="21.5" dy="9.5">tot</tspan><tspan dy="-9.5">] (min</tspan><tspan font-size="20.5" dy="-18">-1</tspan><tspan dy="18">)</tspan></text>
<text x="1055.5" y="556.1" font-size="41.5" text-anchor="start" font-weight="bold" fill="#000" stroke="#000" stroke-width="0.3">f</text>
<rect x="1223.9" y="877.8" width="27.7" height="10.3" fill="#9b9c9e" stroke="#000" stroke-width="1.5"/>
<rect x="1267.2" y="872.3" width="27.1" height="15.8" fill="#9b9c9e" stroke="#000" stroke-width="1.5"/>
<rect x="1308.8" y="863.3" width="27.7" height="24.8" fill="#9b9c9e" stroke="#000" stroke-width="1.5"/>
<rect x="1351.6" y="718.3" width="27.7" height="169.8" fill="#9b9c9e" stroke="#000" stroke-width="1.5"/>
<rect x="1394.3" y="694" width="27.7" height="194.1" fill="#9b9c9e" stroke="#000" stroke-width="1.5"/>
<rect x="1436" y="745.3" width="28.2" height="142.8" fill="#9b9c9e" stroke="#000" stroke-width="1.5"/>
<line x1="1209.4" y1="617" x2="1209.4" y2="889.1" stroke="#000" stroke-width="2"/>
<line x1="1198" y1="888.1" x2="1478.8" y2="888.1" stroke="#000" stroke-width="2"/>
<line x1="1198" y1="618" x2="1209.4" y2="618" stroke="#000" stroke-width="1.8"/>
<text x="1197" y="626.4" font-size="24" text-anchor="end" font-weight="normal" fill="#000" stroke="#000" stroke-width="0.3">25</text>
<line x1="1198" y1="672.2" x2="1209.4" y2="672.2" stroke="#000" stroke-width="1.8"/>
<text x="1197" y="680.6" font-size="24" text-anchor="end" font-weight="normal" fill="#000" stroke="#000" stroke-width="0.3">20</text>
<line x1="1198" y1="726.3" x2="1209.4" y2="726.3" stroke="#000" stroke-width="1.8"/>
<text x="1197" y="734.7" font-size="24" text-anchor="end" font-weight="normal" fill="#000" stroke="#000" stroke-width="0.3">15</text>
<line x1="1198" y1="779.9" x2="1209.4" y2="779.9" stroke="#000" stroke-width="1.8"/>
<text x="1197" y="788.3" font-size="24" text-anchor="end" font-weight="normal" fill="#000" stroke="#000" stroke-width="0.3">10</text>
<line x1="1198" y1="834" x2="1209.4" y2="834" stroke="#000" stroke-width="1.8"/>
<text x="1197" y="842.4" font-size="24" text-anchor="end" font-weight="normal" fill="#000" stroke="#000" stroke-width="0.3">5</text>
<line x1="1198" y1="888.1" x2="1209.4" y2="888.1" stroke="#000" stroke-width="1.8"/>
<text x="1197" y="896.5" font-size="24" text-anchor="end" font-weight="normal" fill="#000" stroke="#000" stroke-width="0.3">0</text>
<line x1="1237.8" y1="888.1" x2="1237.8" y2="899.1" stroke="#000" stroke-width="1.8"/>
<line x1="1280.6" y1="888.1" x2="1280.6" y2="899.1" stroke="#000" stroke-width="1.8"/>
<line x1="1322.6" y1="888.1" x2="1322.6" y2="899.1" stroke="#000" stroke-width="1.8"/>
<line x1="1365.5" y1="888.1" x2="1365.5" y2="899.1" stroke="#000" stroke-width="1.8"/>
<line x1="1408.1" y1="888.1" x2="1408.1" y2="899.1" stroke="#000" stroke-width="1.8"/>
<line x1="1450.1" y1="888.1" x2="1450.1" y2="899.1" stroke="#000" stroke-width="1.8"/>
<circle cx="1227.8" cy="878.8" r="3.6" fill="#fff" stroke="#000" stroke-width="1.6"/>
<circle cx="1247.7" cy="875.8" r="3.6" fill="#fff" stroke="#000" stroke-width="1.6"/>
<circle cx="1270" cy="874.5" r="3.6" fill="#fff" stroke="#000" stroke-width="1.6"/>
<circle cx="1290.4" cy="869.3" r="3.6" fill="#fff" stroke="#000" stroke-width="1.6"/>
<circle cx="1322.8" cy="852.9" r="3.6" fill="#fff" stroke="#000" stroke-width="1.6"/>
<circle cx="1322.8" cy="873.4" r="3.6" fill="#fff" stroke="#000" stroke-width="1.6"/>
<circle cx="1355.3" cy="721.5" r="3.6" fill="#fff" stroke="#000" stroke-width="1.6"/>
<circle cx="1375.9" cy="713.5" r="3.6" fill="#fff" stroke="#000" stroke-width="1.6"/>
<circle cx="1408.1" cy="658.1" r="3.6" fill="#fff" stroke="#000" stroke-width="1.6"/>
<circle cx="1408.1" cy="729.5" r="3.6" fill="#fff" stroke="#000" stroke-width="1.6"/>
<circle cx="1450.5" cy="725.4" r="3.6" fill="#fff" stroke="#000" stroke-width="1.6"/>
<circle cx="1450.5" cy="765" r="3.6" fill="#fff" stroke="#000" stroke-width="1.6"/>
<text x="1343.5" y="600.3" font-size="33" text-anchor="middle" font-weight="bold" fill="#000" stroke="#000" stroke-width="0.3">NB4 + shNT</text>
<text x="1237.8" y="926" font-size="24.5" text-anchor="middle" font-weight="normal" fill="#000" stroke="#000" stroke-width="0.3">WT</text>
<text x="1280.6" y="926" font-size="24.5" text-anchor="middle" font-weight="normal" fill="#000" stroke="#000" stroke-width="0.3">US</text>
<text x="1322.6" y="926" font-size="24.5" text-anchor="middle" font-weight="normal" fill="#000" stroke="#000" stroke-width="0.3">CD</text>
<text x="1365.5" y="926" font-size="24.5" text-anchor="middle" font-weight="normal" fill="#000" stroke="#000" stroke-width="0.3">WT</text>
<text x="1408.1" y="926" font-size="24.5" text-anchor="middle" font-weight="normal" fill="#000" stroke="#000" stroke-width="0.3">US</text>
<text x="1450.1" y="926" font-size="24.5" text-anchor="middle" font-weight="normal" fill="#000" stroke="#000" stroke-width="0.3">CD</text>
<path d="M1237.8,933.6 V944.4 H1322.6 V933.6" fill="none" stroke="#000" stroke-width="1.6" stroke-linejoin="round"/>
<path d="M1365.5,933.6 V944.4 H1450.1 V933.6" fill="none" stroke="#000" stroke-width="1.6" stroke-linejoin="round"/>
<text x="1279.1" y="974.7" font-size="24.6" text-anchor="middle" font-weight="normal" fill="#000" stroke="#000" stroke-width="0.3">- DOX</text>
<text x="1407.9" y="974.7" font-size="24.6" text-anchor="middle" font-weight="normal" fill="#000" stroke="#000" stroke-width="0.3">+ DOX</text>
<rect x="1544.7" y="871.3" width="29" height="18.1" fill="#9b9c9e" stroke="#000" stroke-width="1.5"/>
<rect x="1587.2" y="863.9" width="29" height="25.5" fill="#9b9c9e" stroke="#000" stroke-width="1.5"/>
<rect x="1630.5" y="859.9" width="28.9" height="29.5" fill="#9b9c9e" stroke="#000" stroke-width="1.5"/>
<rect x="1673.5" y="761.5" width="28.6" height="127.9" fill="#9b9c9e" stroke="#000" stroke-width="1.5"/>
<rect x="1716.2" y="726.8" width="28.4" height="162.6" fill="#9b9c9e" stroke="#000" stroke-width="1.5"/>
<rect x="1758.9" y="756.6" width="28.4" height="132.8" fill="#9b9c9e" stroke="#000" stroke-width="1.5"/>
<line x1="1531.6" y1="617.8" x2="1531.6" y2="890.4" stroke="#000" stroke-width="2"/>
<line x1="1520" y1="889.4" x2="1802.4" y2="889.4" stroke="#000" stroke-width="2"/>
<line x1="1520" y1="618.8" x2="1531.6" y2="618.8" stroke="#000" stroke-width="1.8"/>
<text x="1519" y="627.2" font-size="24" text-anchor="end" font-weight="normal" fill="#000" stroke="#000" stroke-width="0.3">15</text>
<line x1="1520" y1="708.9" x2="1531.6" y2="708.9" stroke="#000" stroke-width="1.8"/>
<text x="1519" y="717.3" font-size="24" text-anchor="end" font-weight="normal" fill="#000" stroke="#000" stroke-width="0.3">10</text>
<line x1="1520" y1="799.3" x2="1531.6" y2="799.3" stroke="#000" stroke-width="1.8"/>
<text x="1519" y="807.7" font-size="24" text-anchor="end" font-weight="normal" fill="#000" stroke="#000" stroke-width="0.3">5</text>
<line x1="1520" y1="889.4" x2="1531.6" y2="889.4" stroke="#000" stroke-width="1.8"/>
<text x="1519" y="897.8" font-size="24" text-anchor="end" font-weight="normal" fill="#000" stroke="#000" stroke-width="0.3">0</text>
<line x1="1559.2" y1="889.4" x2="1559.2" y2="900.4" stroke="#000" stroke-width="1.8"/>
<line x1="1601.7" y1="889.4" x2="1601.7" y2="900.4" stroke="#000" stroke-width="1.8"/>
<line x1="1644.8" y1="889.4" x2="1644.8" y2="900.4" stroke="#000" stroke-width="1.8"/>
<line x1="1687.8" y1="889.4" x2="1687.8" y2="900.4" stroke="#000" stroke-width="1.8"/>
<line x1="1730.3" y1="889.4" x2="1730.3" y2="900.4" stroke="#000" stroke-width="1.8"/>
<line x1="1773" y1="889.4" x2="1773" y2="900.4" stroke="#000" stroke-width="1.8"/>
<circle cx="1559.4" cy="867.1" r="3.6" fill="#fff" stroke="#000" stroke-width="1.6"/>
<circle cx="1559.4" cy="875.5" r="3.6" fill="#fff" stroke="#000" stroke-width="1.6"/>
<circle cx="1601.9" cy="856.6" r="3.6" fill="#fff" stroke="#000" stroke-width="1.6"/>
<circle cx="1601.9" cy="871.5" r="3.6" fill="#fff" stroke="#000" stroke-width="1.6"/>
<circle cx="1634.7" cy="859.9" r="3.6" fill="#fff" stroke="#000" stroke-width="1.6"/>
<circle cx="1654.7" cy="859.1" r="3.6" fill="#fff" stroke="#000" stroke-width="1.6"/>
<circle cx="1687.3" cy="745.3" r="3.6" fill="#fff" stroke="#000" stroke-width="1.6"/>
<circle cx="1687.3" cy="778.3" r="3.6" fill="#fff" stroke="#000" stroke-width="1.6"/>
<circle cx="1730.3" cy="695.2" r="3.6" fill="#fff" stroke="#000" stroke-width="1.6"/>
<circle cx="1730.3" cy="758.3" r="3.6" fill="#fff" stroke="#000" stroke-width="1.6"/>
<circle cx="1773" cy="752" r="3.6" fill="#fff" stroke="#000" stroke-width="1.6"/>
<text x="1666.2" y="599.5" font-size="33" text-anchor="middle" font-weight="bold" fill="#000" stroke="#000" stroke-width="0.3">NB4 + shN15</text>
<text x="1559.2" y="925.6" font-size="24.5" text-anchor="middle" font-weight="normal" fill="#000" stroke="#000" stroke-width="0.3">WT</text>
<text x="1601.7" y="925.6" font-size="24.5" text-anchor="middle" font-weight="normal" fill="#000" stroke="#000" stroke-width="0.3">US</text>
<text x="1644.8" y="925.6" font-size="24.5" text-anchor="middle" font-weight="normal" fill="#000" stroke="#000" stroke-width="0.3">CD</text>
<text x="1687.8" y="925.6" font-size="24.5" text-anchor="middle" font-weight="normal" fill="#000" stroke="#000" stroke-width="0.3">WT</text>
<text x="1730.3" y="925.6" font-size="24.5" text-anchor="middle" font-weight="normal" fill="#000" stroke="#000" stroke-width="0.3">US</text>
<text x="1773" y="925.6" font-size="24.5" text-anchor="middle" font-weight="normal" fill="#000" stroke="#000" stroke-width="0.3">CD</text>
<path d="M1559.2,934 V945.2 H1644.8 V934" fill="none" stroke="#000" stroke-width="1.6" stroke-linejoin="round"/>
<path d="M1687.8,934 V945.2 H1773 V934" fill="none" stroke="#000" stroke-width="1.6" stroke-linejoin="round"/>
<text x="1601.9" y="974" font-size="24.6" text-anchor="middle" font-weight="normal" fill="#000" stroke="#000" stroke-width="0.3">- DOX</text>
<text x="1730.3" y="974" font-size="24.6" text-anchor="middle" font-weight="normal" fill="#000" stroke="#000" stroke-width="0.3">+ DOX</text>
<text x="1115.3" y="752.5" font-size="24.8" text-anchor="middle" font-weight="normal" fill="#000" stroke="#000" stroke-width="0.3" transform="rotate(-90 1115.3 752.5)">Fold NUDT15 expression</text>
<text x="1144.6" y="752.5" font-size="24.8" text-anchor="middle" font-weight="normal" fill="#000" stroke="#000" stroke-width="0.3" transform="rotate(-90 1144.6 752.5)">(relative to GAPDH)</text>
<text x="1055" y="1089.8" font-size="41.5" text-anchor="start" font-weight="bold" fill="#000" stroke="#000" stroke-width="0.3">g</text>
<text x="1288.5" y="1220.4" font-size="32.5" text-anchor="middle" font-weight="bold" fill="#000" stroke="#000" stroke-width="0.3">shNT +</text>
<text x="1490" y="1220.4" font-size="32.5" text-anchor="middle" font-weight="bold" fill="#000" stroke="#000" stroke-width="0.3">shN15 +</text>
<line x1="1201.1" y1="1242.6" x2="1377.6" y2="1242.6" stroke="#000" stroke-width="1.4"/>
<line x1="1403.1" y1="1242.6" x2="1579.6" y2="1242.6" stroke="#000" stroke-width="1.4"/>
<text x="1220.5" y="1279" font-size="29" text-anchor="middle" font-weight="normal" fill="#000" stroke="#000" stroke-width="0.3">WT</text>
<text x="1290" y="1279" font-size="29" text-anchor="middle" font-weight="normal" fill="#000" stroke="#000" stroke-width="0.3">US</text>
<text x="1358.7" y="1279" font-size="29" text-anchor="middle" font-weight="normal" fill="#000" stroke="#000" stroke-width="0.3">CD</text>
<text x="1422.5" y="1279" font-size="29" text-anchor="middle" font-weight="normal" fill="#000" stroke="#000" stroke-width="0.3">WT</text>
<text x="1492" y="1279" font-size="29" text-anchor="middle" font-weight="normal" fill="#000" stroke="#000" stroke-width="0.3">US</text>
<text x="1561.5" y="1279" font-size="29" text-anchor="middle" font-weight="normal" fill="#000" stroke="#000" stroke-width="0.3">CD</text>
<text x="1095.5" y="1279.8" font-size="24" text-anchor="start" font-weight="normal" fill="#5a5a5a" stroke="#5a5a5a" stroke-width="0.3">KDa</text>
<text x="1139" y="1350.9" font-size="24" text-anchor="end" font-weight="normal" fill="#5a5a5a" stroke="#5a5a5a" stroke-width="0.3">25 -</text>
<text x="1139" y="1371.9" font-size="24" text-anchor="end" font-weight="normal" fill="#5a5a5a" stroke="#5a5a5a" stroke-width="0.3">20 -</text>
<text x="1139" y="1420.4" font-size="24" text-anchor="end" font-weight="normal" fill="#5a5a5a" stroke="#5a5a5a" stroke-width="0.3">50 -</text>
<text x="1139" y="1449.9" font-size="24" text-anchor="end" font-weight="normal" fill="#5a5a5a" stroke="#5a5a5a" stroke-width="0.3">37 -</text>
<text x="1657" y="1325.4" font-size="29" text-anchor="start" font-weight="normal" fill="#000" stroke="#000" stroke-width="0.3">HA-NUDT15</text>
<text x="1657" y="1359" font-size="29" text-anchor="start" font-weight="normal" fill="#000" stroke="#000" stroke-width="0.3">NUDT15</text>
<text x="1657" y="1424.4" font-size="29" text-anchor="start" font-weight="normal" fill="#000" stroke="#000" stroke-width="0.3">ß-Actin</text>
<line x1="1614" y1="1324.6" x2="1638.6" y2="1324.6" stroke="#8a8a8a" stroke-width="2.6"/>
<polygon points="1608.5,1324.6 1619,1319.1 1619,1330.1" fill="#8a8a8a"/>
<line x1="1614" y1="1352.9" x2="1638.6" y2="1352.9" stroke="#000" stroke-width="2.6"/>
<polygon points="1608.5,1352.9 1619,1347.4 1619,1358.4" fill="#000"/>
<clipPath id="cp5"><rect x="1145.8" y="1300.4" width="454" height="74.7"/></clipPath>
<g clip-path="url(#cp5)">
<rect x="1145.8" y="1300.4" width="454" height="74.7" fill="#e6e6e6" stroke="none" stroke-width="0"/>
<rect x="1150" y="1295.5" width="446" height="85" rx="10" fill="#000" opacity="0.08" filter="url(#bl5)"/>
<rect x="1145.8" y="1300.4" width="454" height="74.7" fill="#000" opacity="0.5" filter="url(#nzC)"/>
<rect x="1146.56" y="1317.7" width="38.38" height="9" rx="4.5" fill="#000" opacity="0.8" filter="url(#bl2)"/>
<rect x="1146.56" y="1325.28" width="37.17" height="10" rx="5" fill="#000" opacity="0.85" filter="url(#bl2)"/>
<rect x="1150.6" y="1340.12" width="30.3" height="7" rx="3.5" fill="#000" opacity="0.6" filter="url(#bl2)"/>
<rect x="1145.75" y="1357.53" width="39.19" height="15" rx="7.5" fill="#000" opacity="1" filter="url(#bl2)"/>
<rect x="1196.65" y="1312.22" width="56.96" height="24" rx="9" fill="#000" opacity="1" filter="url(#bl2)"/>
<rect x="1281.9" y="1316.88" width="14.95" height="5" rx="2.5" fill="#000" opacity="0.7" filter="url(#bl2)"/>
<rect x="1267.76" y="1316.4" width="42.42" height="10" rx="5" fill="#000" opacity="0.12" filter="url(#bl3)"/>
<rect x="1327.14" y="1311.72" width="59.79" height="25" rx="9" fill="#000" opacity="1" filter="url(#bl2)"/>
<rect x="1395.82" y="1312.2" width="59.79" height="20" rx="8" fill="#000" opacity="1" filter="url(#bl2)"/>
<rect x="1531.16" y="1313.34" width="57.77" height="25" rx="9" fill="#000" opacity="1" filter="url(#bl2)"/>
<rect x="1197.87" y="1347.72" width="51.71" height="12" rx="6" fill="#000" opacity="0.95" filter="url(#bl2)"/>
<rect x="1266.54" y="1348.97" width="39.59" height="9.5" rx="4.75" fill="#000" opacity="0.6" filter="url(#bl2)"/>
<rect x="1327.14" y="1346" width="57.77" height="13" rx="6.5" fill="#000" opacity="0.97" filter="url(#bl2)"/>
<rect x="1399.05" y="1349.5" width="50.5" height="6" rx="3" fill="#000" opacity="0.15" filter="url(#bl3)"/>
<rect x="1471.77" y="1352.74" width="42.42" height="6" rx="3" fill="#000" opacity="0.1" filter="url(#bl3)"/>
<rect x="1534.39" y="1350.52" width="58.58" height="8" rx="4" fill="#000" opacity="0.4" filter="url(#bl2)"/>
</g>
<rect x="1145.8" y="1300.4" width="454" height="74.7" fill="none" stroke="#000" stroke-width="1.6"/>
<clipPath id="cp6"><rect x="1145.8" y="1380.8" width="454" height="73.9"/></clipPath>
<g clip-path="url(#cp6)">
<rect x="1145.8" y="1380.8" width="454" height="73.9" fill="#e1e2e4" stroke="none" stroke-width="0"/>
<rect x="1145.8" y="1432.8" width="454" height="22" fill="#dfe2e6" stroke="none" stroke-width="0"/>
<rect x="1150.6" y="1420.34" width="36.36" height="13" rx="6.5" fill="#000" opacity="1" filter="url(#bl2)"/>
<rect x="1152.62" y="1409.3" width="32.32" height="6" rx="3" fill="#000" opacity="0.1" filter="url(#bl3)"/>
<rect x="1152.62" y="1441.61" width="32.32" height="6" rx="3" fill="#000" opacity="0.1" filter="url(#bl3)"/>
<rect x="1196.65" y="1413.32" width="58.17" height="23" rx="9" fill="#000" opacity="1" filter="url(#bl2)"/>
<rect x="1262.91" y="1413.39" width="52.52" height="18" rx="7" fill="#000" opacity="1" filter="url(#bl2)" transform="rotate(-3 1289.17 1422.39)"/>
<rect x="1327.14" y="1410.59" width="55.75" height="22" rx="9" fill="#000" opacity="1" filter="url(#bl2)"/>
<rect x="1394.61" y="1411.39" width="58.98" height="22" rx="9" fill="#000" opacity="1" filter="url(#bl2)"/>
<rect x="1462.48" y="1412.11" width="57.77" height="23" rx="9" fill="#000" opacity="1" filter="url(#bl2)"/>
<rect x="1529.14" y="1409.68" width="57.77" height="23" rx="9" fill="#000" opacity="1" filter="url(#bl2)"/>
</g>
<rect x="1145.8" y="1380.8" width="454" height="73.9" fill="none" stroke="#000" stroke-width="1.6"/>
<text x="1055" y="1622.7" font-size="41.5" text-anchor="start" font-weight="bold" fill="#000" stroke="#000" stroke-width="0.3">h</text>
<line x1="1192" y1="1664" x2="1192" y2="1979.4" stroke="#000" stroke-width="2.2"/>
<line x1="1181.2" y1="1665" x2="1192" y2="1665" stroke="#000" stroke-width="2.2"/>
<text x="1177" y="1673.8" font-size="24.5" text-anchor="end" font-weight="normal" fill="#000" stroke="#000" stroke-width="0.3">125</text>
<line x1="1181.2" y1="1727.4" x2="1192" y2="1727.4" stroke="#000" stroke-width="2.2"/>
<text x="1177" y="1736.2" font-size="24.5" text-anchor="end" font-weight="normal" fill="#000" stroke="#000" stroke-width="0.3">100</text>
<line x1="1181.2" y1="1790.3" x2="1192" y2="1790.3" stroke="#000" stroke-width="2.2"/>
<text x="1177" y="1799.1" font-size="24.5" text-anchor="end" font-weight="normal" fill="#000" stroke="#000" stroke-width="0.3">75</text>
<line x1="1181.2" y1="1853" x2="1192" y2="1853" stroke="#000" stroke-width="2.2"/>
<text x="1177" y="1861.8" font-size="24.5" text-anchor="end" font-weight="normal" fill="#000" stroke="#000" stroke-width="0.3">50</text>
<line x1="1181.2" y1="1915.4" x2="1192" y2="1915.4" stroke="#000" stroke-width="2.2"/>
<text x="1177" y="1924.2" font-size="24.5" text-anchor="end" font-weight="normal" fill="#000" stroke="#000" stroke-width="0.3">25</text>
<line x1="1181.2" y1="1978.4" x2="1192" y2="1978.4" stroke="#000" stroke-width="2.2"/>
<text x="1177" y="1987.2" font-size="24.5" text-anchor="end" font-weight="normal" fill="#000" stroke="#000" stroke-width="0.3">0</text>
<line x1="1181.2" y1="1978.4" x2="1235.7" y2="1978.4" stroke="#000" stroke-width="2.2"/>
<line x1="1235.7" y1="1968.4" x2="1235.7" y2="1988.4" stroke="#000" stroke-width="2.2"/>
<line x1="1213.7" y1="1978.4" x2="1213.7" y2="1988.4" stroke="#000" stroke-width="2.2"/>
<line x1="1265.4" y1="1978.4" x2="1584.5" y2="1978.4" stroke="#000" stroke-width="2.2"/>
<line x1="1265.4" y1="1968.4" x2="1265.4" y2="1988.4" stroke="#000" stroke-width="2.2"/>
<line x1="1477.9" y1="1978.4" x2="1477.9" y2="1988.4" stroke="#000" stroke-width="2.2"/>
<line x1="1323.08" y1="1978.4" x2="1323.08" y2="1983.4" stroke="#000" stroke-width="1.7"/>
<line x1="1362.08" y1="1978.4" x2="1362.08" y2="1983.4" stroke="#000" stroke-width="1.7"/>
<line x1="1389.76" y1="1978.4" x2="1389.76" y2="1983.4" stroke="#000" stroke-width="1.7"/>
<line x1="1411.22" y1="1978.4" x2="1411.22" y2="1983.4" stroke="#000" stroke-width="1.7"/>
<line x1="1428.76" y1="1978.4" x2="1428.76" y2="1983.4" stroke="#000" stroke-width="1.7"/>
<line x1="1443.59" y1="1978.4" x2="1443.59" y2="1983.4" stroke="#000" stroke-width="1.7"/>
<line x1="1456.43" y1="1978.4" x2="1456.43" y2="1983.4" stroke="#000" stroke-width="1.7"/>
<line x1="1467.76" y1="1978.4" x2="1467.76" y2="1983.4" stroke="#000" stroke-width="1.7"/>
<line x1="1544.58" y1="1978.4" x2="1544.58" y2="1983.4" stroke="#000" stroke-width="1.7"/>
<text x="1213.2" y="2019" font-size="24.5" text-anchor="middle" font-weight="normal" fill="#000" stroke="#000" stroke-width="0.3">0</text>
<text x="1477.5" y="2019" font-size="24.5" text-anchor="middle" font-weight="normal" fill="#000" stroke="#000" stroke-width="0.3">1</text>
<text x="1403.7" y="2055.2" font-size="32.7" text-anchor="middle" font-weight="normal" fill="#000" stroke="#000" stroke-width="0.3">6-TG [µM]</text>
<text x="1121.5" y="1806" font-size="32.7" text-anchor="middle" font-weight="normal" fill="#000" stroke="#000" stroke-width="0.3" transform="rotate(-90 1121.5 1806)">Viability (%)</text>
<polyline points="1213.68,1727.4 1292.84,1727.4 1331.55,1726.16 1371.01,1739.89 1410.46,1753.63 1449.17,1776.1 1488.38,1852.27 1527.58,1908.45 1566.54,1930.18" fill="none" stroke="#e5212a" stroke-width="1.7" stroke-linejoin="round"/>
<polyline points="1213.68,1727.4 1292.84,1729.9 1331.55,1747.38 1371.01,1757.37 1410.46,1784.34 1449.17,1841.03 1488.38,1908.45 1527.58,1935.92 1566.54,1955.9" fill="none" stroke="#e5212a" stroke-width="2" stroke-linejoin="round" stroke-dasharray="5,3"/>
<polyline points="1213.68,1727.4 1292.84,1728.65 1331.55,1741.14 1371.01,1752.38 1410.46,1774.85 1449.17,1818.55 1488.38,1904.71 1527.58,1927.18 1566.54,1950.91" fill="none" stroke="#e5212a" stroke-width="2" stroke-linejoin="round" stroke-dasharray="5,3"/>
<polyline points="1213.68,1727.4 1292.84,1721.16 1331.55,1728.65 1371.01,1742.39 1410.46,1757.37 1449.17,1792.33 1488.38,1897.22 1527.58,1932.18 1566.54,1945.91" fill="none" stroke="#000" stroke-width="2.2" stroke-linejoin="round" stroke-dasharray="5,3"/>
<polyline points="1213.68,1727.4 1292.84,1736.14 1331.55,1719.91 1371.01,1736.14 1410.46,1762.37 1449.17,1799.82 1488.38,1892.22 1527.58,1934.68 1566.54,1944.66" fill="none" stroke="#000" stroke-width="2.2" stroke-linejoin="round" stroke-dasharray="5,3"/>
<polyline points="1213.68,1727.4 1292.84,1723.66 1331.55,1722.41 1371.01,1738.64 1410.46,1752.38 1449.17,1787.34 1488.38,1897.22 1527.58,1933.43 1566.54,1945.91" fill="none" stroke="#000" stroke-width="2.6" stroke-linejoin="round"/>
<rect x="1237" y="1690" width="27.2" height="280" fill="#fff" stroke="none" stroke-width="0"/>
<line x1="1449.17" y1="1766.11" x2="1449.17" y2="1787.34" stroke="#e5212a" stroke-width="2.4"/>
<line x1="1443.42" y1="1766.11" x2="1454.92" y2="1766.11" stroke="#e5212a" stroke-width="2.4"/>
<line x1="1443.42" y1="1787.34" x2="1454.92" y2="1787.34" stroke="#e5212a" stroke-width="2.4"/>
<line x1="1488.38" y1="1832.29" x2="1488.38" y2="1871" stroke="#e5212a" stroke-width="2.4"/>
<line x1="1482.63" y1="1832.29" x2="1494.13" y2="1832.29" stroke="#e5212a" stroke-width="2.4"/>
<line x1="1482.63" y1="1871" x2="1494.13" y2="1871" stroke="#e5212a" stroke-width="2.4"/>
<line x1="1527.58" y1="1897.22" x2="1527.58" y2="1919.69" stroke="#e5212a" stroke-width="2.4"/>
<line x1="1521.83" y1="1897.22" x2="1533.33" y2="1897.22" stroke="#e5212a" stroke-width="2.4"/>
<line x1="1521.83" y1="1919.69" x2="1533.33" y2="1919.69" stroke="#e5212a" stroke-width="2.4"/>
<circle cx="1292.84" cy="1727.4" r="5.4" fill="#e5212a" stroke="none" stroke-width="0"/>
<circle cx="1331.55" cy="1726.16" r="5.4" fill="#e5212a" stroke="none" stroke-width="0"/>
<circle cx="1371.01" cy="1739.89" r="5.4" fill="#e5212a" stroke="none" stroke-width="0"/>
<circle cx="1410.46" cy="1753.63" r="5.4" fill="#e5212a" stroke="none" stroke-width="0"/>
<circle cx="1449.17" cy="1776.1" r="5.4" fill="#e5212a" stroke="none" stroke-width="0"/>
<circle cx="1488.38" cy="1852.27" r="5.4" fill="#e5212a" stroke="none" stroke-width="0"/>
<circle cx="1527.58" cy="1908.45" r="5.4" fill="#e5212a" stroke="none" stroke-width="0"/>
<circle cx="1566.54" cy="1930.18" r="5.4" fill="#e5212a" stroke="none" stroke-width="0"/>
<line x1="1566.54" y1="1949.66" x2="1566.54" y2="1962.15" stroke="#e5212a" stroke-width="2.4"/>
<line x1="1560.79" y1="1949.66" x2="1572.29" y2="1949.66" stroke="#e5212a" stroke-width="2.4"/>
<line x1="1560.79" y1="1962.15" x2="1572.29" y2="1962.15" stroke="#e5212a" stroke-width="2.4"/>
<rect x="1287.24" y="1722.4" width="11.2" height="15" fill="#e5212a" stroke="none" stroke-width="0"/>
<rect x="1325.95" y="1739.88" width="11.2" height="15" fill="#e5212a" stroke="none" stroke-width="0"/>
<rect x="1365.41" y="1749.87" width="11.2" height="15" fill="#e5212a" stroke="none" stroke-width="0"/>
<rect x="1404.86" y="1776.84" width="11.2" height="15" fill="#e5212a" stroke="none" stroke-width="0"/>
<rect x="1443.57" y="1833.53" width="11.2" height="15" fill="#e5212a" stroke="none" stroke-width="0"/>
<rect x="1482.78" y="1900.95" width="11.2" height="15" fill="#e5212a" stroke="none" stroke-width="0"/>
<rect x="1521.98" y="1928.42" width="11.2" height="15" fill="#e5212a" stroke="none" stroke-width="0"/>
<rect x="1560.94" y="1948.4" width="11.2" height="15" fill="#e5212a" stroke="none" stroke-width="0"/>
<line x1="1527.58" y1="1915.95" x2="1527.58" y2="1933.43" stroke="#e5212a" stroke-width="2.4"/>
<line x1="1521.83" y1="1915.95" x2="1533.33" y2="1915.95" stroke="#e5212a" stroke-width="2.4"/>
<line x1="1521.83" y1="1933.43" x2="1533.33" y2="1933.43" stroke="#e5212a" stroke-width="2.4"/>
<polygon points="1292.84,1723.25 1287.84,1732.25 1297.84,1732.25" fill="#e5212a"/>
<polygon points="1331.55,1735.74 1326.55,1744.74 1336.55,1744.74" fill="#e5212a"/>
<polygon points="1371.01,1746.98 1366.01,1755.98 1376.01,1755.98" fill="#e5212a"/>
<polygon points="1410.46,1769.45 1405.46,1778.45 1415.46,1778.45" fill="#e5212a"/>
<polygon points="1449.17,1813.15 1444.17,1822.15 1454.17,1822.15" fill="#e5212a"/>
<polygon points="1488.38,1899.31 1483.38,1908.31 1493.38,1908.31" fill="#e5212a"/>
<polygon points="1527.58,1921.78 1522.58,1930.78 1532.58,1930.78" fill="#e5212a"/>
<polygon points="1566.54,1945.51 1561.54,1954.51 1571.54,1954.51" fill="#e5212a"/>
<line x1="1292.84" y1="1717.41" x2="1292.84" y2="1753.63" stroke="#000" stroke-width="2.6"/>
<line x1="1286.99" y1="1717.41" x2="1298.69" y2="1717.41" stroke="#000" stroke-width="2.6"/>
<line x1="1286.99" y1="1753.63" x2="1298.69" y2="1753.63" stroke="#000" stroke-width="2.6"/>
<rect x="1287.04" y="1707.43" width="11.6" height="37.46" fill="#000" stroke="none" stroke-width="0"/>
<rect x="1325.75" y="1711.17" width="11.6" height="36.21" fill="#000" stroke="none" stroke-width="0"/>
<rect x="1365.21" y="1726.16" width="11.6" height="36.21" fill="#000" stroke="none" stroke-width="0"/>
<rect x="1404.66" y="1739.89" width="11.6" height="36.21" fill="#000" stroke="none" stroke-width="0"/>
<rect x="1443.37" y="1779.85" width="11.6" height="31.22" fill="#000" stroke="none" stroke-width="0"/>
<rect x="1482.58" y="1884.73" width="11.6" height="20.48" fill="#000" stroke="none" stroke-width="0"/>
<rect x="1521.78" y="1926.68" width="11.6" height="13.49" fill="#000" stroke="none" stroke-width="0"/>
<rect x="1560.74" y="1939.17" width="11.6" height="14.23" fill="#000" stroke="none" stroke-width="0"/>
<rect x="1208.3" y="1718" width="11.6" height="19.4" fill="#000" stroke="none" stroke-width="0"/>
<line x1="1214.1" y1="1728.4" x2="1236" y2="1728.4" stroke="#000" stroke-width="6.5"/>
<rect x="1234" y="1723.4" width="2.6" height="9.4" fill="#000" stroke="none" stroke-width="0"/>
<line x1="1509.1" y1="1666" x2="1541.9" y2="1666" stroke="#000" stroke-width="2.3"/>
<circle cx="1525.5" cy="1666" r="5.5" fill="#000" stroke="none" stroke-width="0"/>
<text x="1559" y="1674.8" font-size="28" text-anchor="start" font-weight="normal" fill="#000" stroke="#000" stroke-width="0.3">+ WT</text>
<line x1="1509.1" y1="1713.4" x2="1541.9" y2="1713.4" stroke="#000" stroke-width="1.9" stroke-dasharray="3.6,2.4"/>
<rect x="1520" y="1707.9" width="11" height="11" fill="#000" stroke="none" stroke-width="0"/>
<text x="1559" y="1722.2" font-size="28" text-anchor="start" font-weight="normal" fill="#000" stroke="#000" stroke-width="0.3">+ US</text>
<line x1="1509.1" y1="1760.5" x2="1541.9" y2="1760.5" stroke="#000" stroke-width="1.9" stroke-dasharray="3.6,2.4"/>
<polygon points="1525.5,1755.06 1520,1764.96 1531,1764.96" fill="#000"/>
<text x="1559" y="1769.3" font-size="28" text-anchor="start" font-weight="normal" fill="#000" stroke="#000" stroke-width="0.3">+ CD</text>
<path d="M1638.9,1666 H1648.5 Q1650.5,1666 1650.5,1668 V1758.1 Q1650.5,1760.1 1648.5,1760.1 H1638.9" fill="none" stroke="#000" stroke-width="1.5"/>
<text x="1662.5" y="1703.7" font-size="28.6" text-anchor="start" font-weight="bold" fill="#000" stroke="#000" stroke-width="0.3">- DOX</text>
<text x="1659" y="1734.6" font-size="28.6" text-anchor="start" font-weight="bold" fill="#e5212a" stroke="#e5212a" stroke-width="0.3">+ DOX</text>
</svg></body></html>
